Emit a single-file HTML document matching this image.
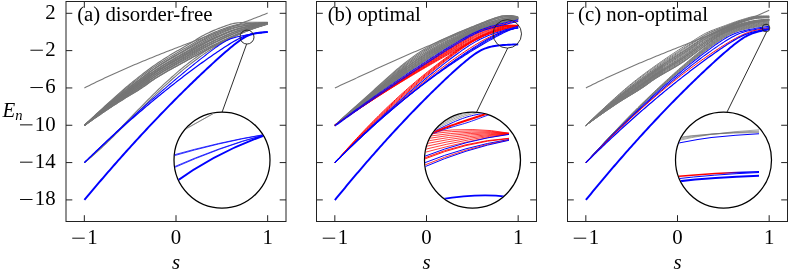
<!DOCTYPE html>
<html><head><meta charset="utf-8"><title>Energy spectra</title>
<style>html,body{margin:0;padding:0;background:#fff}svg{display:block;will-change:transform}text{font-family:"Liberation Serif",serif}</style></head>
<body>
<svg width="789" height="270" viewBox="0 0 789 270" font-family="Liberation Serif, serif" font-size="20.8" fill="#000">
<rect width="789" height="270" fill="#fff"/>
<g fill="none">
<path d="M84.40,125.40 L86.08,123.88 L87.76,122.36 L89.44,120.85 L91.13,119.34 L92.81,117.84 L94.49,116.35 L96.17,114.86 L97.85,113.38 L99.53,111.90 L101.22,110.43 L102.90,108.97 L104.58,107.51 L106.26,106.06 L107.94,104.62 L109.62,103.17 L111.31,101.73 L112.99,100.29 L114.67,98.86 L116.35,97.43 L118.03,96.01 L119.71,94.60 L121.40,93.21 L123.08,91.83 L124.76,90.46 L126.44,89.12 L128.12,87.79 L129.80,86.47 L131.49,85.17 L133.17,83.88 L134.85,82.59 L136.53,81.30 L138.21,80.02 L139.89,78.75 L141.58,77.48 L143.26,76.22 L144.94,74.96 L146.62,73.70 L148.30,72.45 L149.98,71.21 L149.98,82.01 L148.30,83.26 L146.62,84.50 L144.94,85.71 L143.26,86.86 L141.58,87.98 L139.89,89.08 L138.21,90.16 L136.53,91.21 L134.85,92.26 L133.17,93.29 L131.49,94.31 L129.80,95.33 L128.12,96.34 L126.44,97.36 L124.76,98.38 L123.08,99.41 L121.40,100.45 L119.71,101.51 L118.03,102.58 L116.35,103.67 L114.67,104.77 L112.99,105.88 L111.31,106.99 L109.62,108.11 L107.94,109.23 L106.26,110.36 L104.58,111.49 L102.90,112.62 L101.22,113.76 L99.53,114.91 L97.85,116.05 L96.17,117.21 L94.49,118.36 L92.81,119.53 L91.13,120.69 L89.44,121.86 L87.76,123.04 L86.08,124.22 L84.40,125.40 Z" fill="#787878" fill-opacity="0.85" stroke="none"/>
<path d="M148.30,72.45 L149.98,71.21 L151.67,69.99 L153.35,68.80 L155.03,67.63 L156.71,66.49 L158.39,65.36 L160.07,64.26 L161.76,63.17 L163.44,62.11 L165.12,61.06 L166.80,60.03 L168.48,59.02 L170.16,58.02 L171.85,57.02 L173.53,56.04 L175.21,55.06 L176.89,54.09 L176.89,65.99 L175.21,66.90 L173.53,67.81 L171.85,68.73 L170.16,69.65 L168.48,70.59 L166.80,71.53 L165.12,72.48 L163.44,73.45 L161.76,74.44 L160.07,75.44 L158.39,76.46 L156.71,77.51 L155.03,78.58 L153.35,79.67 L151.67,80.82 L149.98,82.01 L148.30,83.26 Z" fill="#787878" fill-opacity="0.35" stroke="none"/>
<path d="M176.89,55.58 L178.57,54.62 L180.25,53.66 L181.94,52.70 L183.62,51.74 L185.30,50.78 L186.98,49.81 L188.66,48.84 L190.34,47.87 L192.03,46.89 L193.71,45.90 L195.39,44.90 L197.07,43.90 L198.75,42.90 L200.43,41.93 L202.12,40.99 L203.80,40.08 L205.48,39.20 L207.16,38.36 L208.84,37.54 L210.52,36.74 L212.21,35.96 L213.89,35.20 L215.57,34.45 L217.25,33.73 L218.93,33.03 L220.61,32.34 L222.30,31.66 L223.98,30.98 L225.66,30.30 L227.34,29.63 L229.02,28.99 L230.70,28.38 L232.39,27.83 L234.07,27.34 L235.75,26.92 L237.43,26.55 L239.11,26.22 L240.79,25.91 L242.48,25.61 L244.16,25.34 L245.84,25.08 L247.52,24.84 L249.20,24.62 L250.88,24.42 L252.57,24.22 L254.25,24.03 L255.93,23.85 L257.61,23.67 L259.29,23.50 L260.97,23.34 L262.66,23.19 L264.34,23.04 L266.02,22.91 L267.70,22.79 L267.70,23.70 L266.02,24.23 L264.34,24.78 L262.66,25.34 L260.97,25.91 L259.29,26.49 L257.61,27.09 L255.93,27.69 L254.25,28.31 L252.57,28.94 L250.88,29.57 L249.20,30.22 L247.52,30.88 L245.84,31.55 L244.16,32.23 L242.48,32.93 L240.79,33.64 L239.11,34.37 L237.43,35.12 L235.75,35.88 L234.07,36.65 L232.39,37.43 L230.70,38.22 L229.02,39.02 L227.34,39.82 L225.66,40.63 L223.98,41.45 L222.30,42.26 L220.61,43.08 L218.93,43.90 L217.25,44.73 L215.57,45.56 L213.89,46.40 L212.21,47.25 L210.52,48.09 L208.84,48.95 L207.16,49.81 L205.48,50.67 L203.80,51.54 L202.12,52.42 L200.43,53.30 L198.75,54.18 L197.07,55.07 L195.39,55.96 L193.71,56.86 L192.03,57.76 L190.34,58.67 L188.66,59.58 L186.98,60.49 L185.30,61.41 L183.62,62.33 L181.94,63.24 L180.25,64.16 L178.57,65.07 L176.89,65.99 Z" fill="#787878" fill-opacity="0.15" stroke="none"/>
<path d="M84.40,125.40 L86.08,123.79 L87.76,122.19 L89.44,120.59 L91.13,119.00 L92.81,117.42 L94.49,115.84 L96.17,114.27 L97.85,112.71 L99.53,111.15 L101.22,109.60 L102.90,108.06 L104.58,106.52 L106.26,104.99 L107.94,103.46 L109.62,101.94 L111.31,100.42 L112.99,98.90 L114.67,97.38 L116.35,95.87 L118.03,94.37 L119.71,92.87 L121.40,91.39 L123.08,89.93 L124.76,88.48 L126.44,87.06 L128.12,85.65 L129.80,84.26 L131.49,82.89 L133.17,81.52 L134.85,80.17 L136.53,78.83 L138.21,77.49 L139.89,76.17 L141.58,74.86 L143.26,73.56 L144.94,72.27 L146.62,71.00 L148.30,69.75 L149.98,68.51 L151.67,67.29 L153.35,66.08 L155.03,64.90 L156.71,63.73 L158.39,62.59 L160.07,61.46 L161.76,60.36 L163.44,59.28 L165.12,58.21 L166.80,57.16 L168.48,56.13 L170.16,55.11 L171.85,54.10 L173.53,53.10 L175.21,52.10 L176.89,51.12 L178.57,50.14 L180.25,49.16 L181.94,48.18 L183.62,47.20 L185.30,46.22 L186.98,45.23 L188.66,44.24 L190.34,43.24 L192.03,42.23 L193.71,41.20 L195.39,40.16 L197.07,39.11 L198.75,38.07 L200.43,37.06 L202.12,36.09 L203.80,35.16 L205.48,34.29 L207.16,33.45 L208.84,32.65 L210.52,31.87 L212.21,31.12 L213.89,30.40 L215.57,29.69 L217.25,29.02 L218.93,28.37 L220.61,27.74 L222.30,27.12 L223.98,26.50 L225.66,25.88 L227.34,25.27 L229.02,24.69 L230.70,24.16 L232.39,23.71 L234.07,23.35 L235.75,23.08 L237.43,22.88 L239.11,22.73 L240.79,22.59 L242.48,22.48 L244.16,22.38 L245.84,22.30 L247.52,22.25 L249.20,22.22 L250.88,22.20 L252.57,22.20 L254.25,22.20 L255.93,22.20 L257.61,22.20 L259.29,22.21 L260.97,22.23 L262.66,22.26 L264.34,22.30 L266.02,22.35 L267.70,22.40" stroke="#757575" stroke-width="1.15"/>
<path d="M84.40,125.40 L86.08,123.83 L87.76,122.26 L89.44,120.71 L91.13,119.16 L92.81,117.61 L94.49,116.08 L96.17,114.55 L97.85,113.02 L99.53,111.51 L101.22,110.00 L102.90,108.49 L104.58,107.00 L106.26,105.51 L107.94,104.02 L109.62,102.54 L111.31,101.07 L112.99,99.59 L114.67,98.12 L116.35,96.65 L118.03,95.20 L119.71,93.75 L121.40,92.32 L123.08,90.91 L124.76,89.51 L126.44,88.13 L128.12,86.77 L129.80,85.43 L131.49,84.10 L133.17,82.78 L134.85,81.47 L136.53,80.17 L138.21,78.87 L139.89,77.59 L141.58,76.31 L143.26,75.04 L144.94,73.77 L146.62,72.52 L148.30,71.27 L149.98,70.04 L151.67,68.83 L153.35,67.64 L155.03,66.48 L156.71,65.33 L158.39,64.21 L160.07,63.10 L161.76,62.02 L163.44,60.96 L165.12,59.91 L166.80,58.88 L168.48,57.87 L170.16,56.87 L171.85,55.88 L173.53,54.90 L175.21,53.93 L176.89,52.96 L178.57,51.99 L180.25,51.03 L181.94,50.07 L183.62,49.11 L185.30,48.15 L186.98,47.18 L188.66,46.21 L190.34,45.23 L192.03,44.24 L193.71,43.24 L195.39,42.22 L197.07,41.21 L198.75,40.20 L200.43,39.22 L202.12,38.27 L203.80,37.36 L205.48,36.50 L207.16,35.67 L208.84,34.87 L210.52,34.09 L212.21,33.34 L213.89,32.60 L215.57,31.89 L217.25,31.21 L218.93,30.54 L220.61,29.89 L222.30,29.25 L223.98,28.62 L225.66,27.98 L227.34,27.35 L229.02,26.75 L230.70,26.19 L232.39,25.70 L234.07,25.29 L235.75,24.95 L237.43,24.68 L239.11,24.45 L240.79,24.23 L242.48,24.03 L244.16,23.85 L245.84,23.69 L247.52,23.55 L249.20,23.43 L250.88,23.33 L252.57,23.23 L254.25,23.14 L255.93,23.05 L257.61,22.96 L259.29,22.88 L260.97,22.81 L262.66,22.75 L264.34,22.69 L266.02,22.64 L267.70,22.61" stroke="#757575" stroke-width="1.15"/>
<path d="M84.40,125.40 L86.08,123.90 L87.76,122.41 L89.44,120.93 L91.13,119.45 L92.81,117.98 L94.49,116.51 L96.17,115.05 L97.85,113.59 L99.53,112.14 L101.22,110.69 L102.90,109.25 L104.58,107.81 L106.26,106.38 L107.94,104.96 L109.62,103.53 L111.31,102.11 L112.99,100.69 L114.67,99.28 L116.35,97.87 L118.03,96.47 L119.71,95.08 L121.40,93.70 L123.08,92.34 L124.76,91.00 L126.44,89.67 L128.12,88.35 L129.80,87.05 L131.49,85.76 L133.17,84.48 L134.85,83.20 L136.53,81.92 L138.21,80.65 L139.89,79.38 L141.58,78.12 L143.26,76.85 L144.94,75.59 L146.62,74.33 L148.30,73.07 L149.98,71.82 L151.67,70.60 L153.35,69.40 L155.03,68.23 L156.71,67.08 L158.39,65.96 L160.07,64.85 L161.76,63.76 L163.44,62.69 L165.12,61.64 L166.80,60.61 L168.48,59.59 L170.16,58.58 L171.85,57.58 L173.53,56.60 L175.21,55.61 L176.89,54.64 L178.57,53.66 L180.25,52.69 L181.94,51.72 L183.62,50.75 L185.30,49.77 L186.98,48.80 L188.66,47.81 L190.34,46.83 L192.03,45.83 L193.71,44.82 L195.39,43.80 L197.07,42.78 L198.75,41.77 L200.43,40.78 L202.12,39.82 L203.80,38.90 L205.48,38.01 L207.16,37.16 L208.84,36.34 L210.52,35.54 L212.21,34.75 L213.89,33.99 L215.57,33.25 L217.25,32.53 L218.93,31.83 L220.61,31.15 L222.30,30.48 L223.98,29.81 L225.66,29.13 L227.34,28.47 L229.02,27.84 L230.70,27.24 L232.39,26.71 L234.07,26.25 L235.75,25.86 L237.43,25.54 L239.11,25.25 L240.79,24.98 L242.48,24.73 L244.16,24.49 L245.84,24.28 L247.52,24.09 L249.20,23.92 L250.88,23.77 L252.57,23.63 L254.25,23.49 L255.93,23.36 L257.61,23.23 L259.29,23.11 L260.97,23.00 L262.66,22.91 L264.34,22.81 L266.02,22.74 L267.70,22.67" stroke="#757575" stroke-width="1.15"/>
<path d="M84.40,125.40 L86.08,123.88 L87.76,122.37 L89.44,120.87 L91.13,119.38 L92.81,117.89 L94.49,116.41 L96.17,114.93 L97.85,113.46 L99.53,112.00 L101.22,110.55 L102.90,109.10 L104.58,107.66 L106.26,106.23 L107.94,104.80 L109.62,103.37 L111.31,101.95 L112.99,100.53 L114.67,99.12 L116.35,97.72 L118.03,96.32 L119.71,94.94 L121.40,93.57 L123.08,92.22 L124.76,90.88 L126.44,89.57 L128.12,88.27 L129.80,86.98 L131.49,85.71 L133.17,84.44 L134.85,83.18 L136.53,81.92 L138.21,80.67 L139.89,79.43 L141.58,78.18 L143.26,76.95 L144.94,75.71 L146.62,74.47 L148.30,73.23 L149.98,72.01 L151.67,70.81 L153.35,69.63 L155.03,68.48 L156.71,67.36 L158.39,66.26 L160.07,65.17 L161.76,64.11 L163.44,63.07 L165.12,62.05 L166.80,61.04 L168.48,60.05 L170.16,59.06 L171.85,58.09 L173.53,57.13 L175.21,56.18 L176.89,55.23 L178.57,54.28 L180.25,53.34 L181.94,52.39 L183.62,51.45 L185.30,50.50 L186.98,49.55 L188.66,48.60 L190.34,47.64 L192.03,46.68 L193.71,45.70 L195.39,44.72 L197.07,43.73 L198.75,42.76 L200.43,41.80 L202.12,40.87 L203.80,39.98 L205.48,39.13 L207.16,38.30 L208.84,37.50 L210.52,36.72 L212.21,35.95 L213.89,35.21 L215.57,34.48 L217.25,33.78 L218.93,33.09 L220.61,32.42 L222.30,31.76 L223.98,31.09 L225.66,30.43 L227.34,29.77 L229.02,29.14 L230.70,28.54 L232.39,28.00 L234.07,27.52 L235.75,27.11 L237.43,26.75 L239.11,26.42 L240.79,26.11 L242.48,25.82 L244.16,25.54 L245.84,25.28 L247.52,25.04 L249.20,24.81 L250.88,24.60 L252.57,24.40 L254.25,24.20 L255.93,24.00 L257.61,23.81 L259.29,23.63 L260.97,23.45 L262.66,23.29 L264.34,23.13 L266.02,22.98 L267.70,22.84" stroke="#757575" stroke-width="1.15"/>
<path d="M84.40,125.40 L86.08,123.98 L87.76,122.56 L89.44,121.16 L91.13,119.75 L92.81,118.35 L94.49,116.95 L96.17,115.56 L97.85,114.17 L99.53,112.79 L101.22,111.41 L102.90,110.04 L104.58,108.68 L106.26,107.31 L107.94,105.95 L109.62,104.60 L111.31,103.25 L112.99,101.89 L114.67,100.55 L116.35,99.20 L118.03,97.87 L119.71,96.55 L121.40,95.24 L123.08,93.95 L124.76,92.67 L126.44,91.41 L128.12,90.15 L129.80,88.91 L131.49,87.68 L133.17,86.45 L134.85,85.22 L136.53,83.99 L138.21,82.76 L139.89,81.52 L141.58,80.29 L143.26,79.05 L144.94,77.81 L146.62,76.55 L148.30,75.29 L149.98,74.04 L151.67,72.81 L153.35,71.62 L155.03,70.46 L156.71,69.32 L158.39,68.20 L160.07,67.11 L161.76,66.03 L163.44,64.97 L165.12,63.93 L166.80,62.91 L168.48,61.90 L170.16,60.90 L171.85,59.91 L173.53,58.93 L175.21,57.95 L176.89,56.98 L178.57,56.02 L180.25,55.05 L181.94,54.08 L183.62,53.11 L185.30,52.14 L186.98,51.17 L188.66,50.19 L190.34,49.21 L192.03,48.23 L193.71,47.23 L195.39,46.23 L197.07,45.23 L198.75,44.24 L200.43,43.26 L202.12,42.31 L203.80,41.38 L205.48,40.50 L207.16,39.64 L208.84,38.80 L210.52,37.98 L212.21,37.17 L213.89,36.39 L215.57,35.62 L217.25,34.87 L218.93,34.14 L220.61,33.42 L222.30,32.72 L223.98,32.01 L225.66,31.31 L227.34,30.61 L229.02,29.93 L230.70,29.30 L232.39,28.71 L234.07,28.18 L235.75,27.72 L237.43,27.31 L239.11,26.93 L240.79,26.57 L242.48,26.23 L244.16,25.90 L245.84,25.60 L247.52,25.32 L249.20,25.06 L250.88,24.81 L252.57,24.58 L254.25,24.35 L255.93,24.13 L257.61,23.92 L259.29,23.71 L260.97,23.52 L262.66,23.33 L264.34,23.16 L266.02,23.00 L267.70,22.85" stroke="#757575" stroke-width="1.15"/>
<path d="M84.40,125.40 L86.08,123.95 L87.76,122.50 L89.44,121.07 L91.13,119.63 L92.81,118.21 L94.49,116.79 L96.17,115.38 L97.85,113.97 L99.53,112.57 L101.22,111.18 L102.90,109.80 L104.58,108.42 L106.26,107.05 L107.94,105.68 L109.62,104.32 L111.31,102.96 L112.99,101.61 L114.67,100.26 L116.35,98.92 L118.03,97.59 L119.71,96.28 L121.40,94.98 L123.08,93.69 L124.76,92.42 L126.44,91.17 L128.12,89.93 L129.80,88.71 L131.49,87.49 L133.17,86.28 L134.85,85.07 L136.53,83.87 L138.21,82.66 L139.89,81.45 L141.58,80.25 L143.26,79.04 L144.94,77.82 L146.62,76.60 L148.30,75.37 L149.98,74.14 L151.67,72.95 L153.35,71.79 L155.03,70.66 L156.71,69.55 L158.39,68.46 L160.07,67.40 L161.76,66.36 L163.44,65.33 L165.12,64.33 L166.80,63.34 L168.48,62.36 L170.16,61.40 L171.85,60.44 L173.53,59.50 L175.21,58.56 L176.89,57.62 L178.57,56.69 L180.25,55.76 L181.94,54.83 L183.62,53.90 L185.30,52.96 L186.98,52.03 L188.66,51.09 L190.34,50.15 L192.03,49.21 L193.71,48.25 L195.39,47.30 L197.07,46.34 L198.75,45.39 L200.43,44.46 L202.12,43.55 L203.80,42.67 L205.48,41.82 L207.16,40.99 L208.84,40.18 L210.52,39.39 L212.21,38.61 L213.89,37.85 L215.57,37.11 L217.25,36.38 L218.93,35.66 L220.61,34.96 L222.30,34.27 L223.98,33.58 L225.66,32.88 L227.34,32.20 L229.02,31.53 L230.70,30.89 L232.39,30.30 L234.07,29.75 L235.75,29.26 L237.43,28.80 L239.11,28.38 L240.79,27.97 L242.48,27.57 L244.16,27.20 L245.84,26.84 L247.52,26.49 L249.20,26.16 L250.88,25.85 L252.57,25.54 L254.25,25.23 L255.93,24.94 L257.61,24.64 L259.29,24.36 L260.97,24.08 L262.66,23.81 L264.34,23.55 L266.02,23.30 L267.70,23.06" stroke="#757575" stroke-width="1.15"/>
<path d="M84.40,125.40 L86.08,124.01 L87.76,122.63 L89.44,121.25 L91.13,119.88 L92.81,118.52 L94.49,117.16 L96.17,115.80 L97.85,114.45 L99.53,113.10 L101.22,111.76 L102.90,110.43 L104.58,109.10 L106.26,107.78 L107.94,106.46 L109.62,105.15 L111.31,103.83 L112.99,102.53 L114.67,101.22 L116.35,99.93 L118.03,98.64 L119.71,97.36 L121.40,96.11 L123.08,94.86 L124.76,93.63 L126.44,92.41 L128.12,91.21 L129.80,90.02 L131.49,88.83 L133.17,87.64 L134.85,86.45 L136.53,85.27 L138.21,84.08 L139.89,82.88 L141.58,81.68 L143.26,80.48 L144.94,79.26 L146.62,78.02 L148.30,76.77 L149.98,75.53 L151.67,74.32 L153.35,73.15 L155.03,72.01 L156.71,70.90 L158.39,69.80 L160.07,68.73 L161.76,67.68 L163.44,66.65 L165.12,65.63 L166.80,64.63 L168.48,63.65 L170.16,62.67 L171.85,61.71 L173.53,60.75 L175.21,59.80 L176.89,58.85 L178.57,57.90 L180.25,56.96 L181.94,56.01 L183.62,55.07 L185.30,54.12 L186.98,53.17 L188.66,52.22 L190.34,51.26 L192.03,50.31 L193.71,49.34 L195.39,48.37 L197.07,47.41 L198.75,46.45 L200.43,45.50 L202.12,44.58 L203.80,43.68 L205.48,42.81 L207.16,41.96 L208.84,41.13 L210.52,40.31 L212.21,39.51 L213.89,38.72 L215.57,37.95 L217.25,37.19 L218.93,36.45 L220.61,35.71 L222.30,34.99 L223.98,34.27 L225.66,33.55 L227.34,32.84 L229.02,32.14 L230.70,31.47 L232.39,30.84 L234.07,30.26 L235.75,29.73 L237.43,29.24 L239.11,28.78 L240.79,28.34 L242.48,27.91 L244.16,27.50 L245.84,27.11 L247.52,26.74 L249.20,26.38 L250.88,26.04 L252.57,25.70 L254.25,25.38 L255.93,25.06 L257.61,24.74 L259.29,24.44 L260.97,24.15 L262.66,23.86 L264.34,23.59 L266.02,23.33 L267.70,23.08" stroke="#757575" stroke-width="1.15"/>
<path d="M84.40,125.40 L86.08,124.06 L87.76,122.73 L89.44,121.40 L91.13,120.08 L92.81,118.76 L94.49,117.44 L96.17,116.13 L97.85,114.82 L99.53,113.51 L101.22,112.21 L102.90,110.91 L104.58,109.62 L106.26,108.33 L107.94,107.05 L109.62,105.76 L111.31,104.48 L112.99,103.20 L114.67,101.93 L116.35,100.66 L118.03,99.40 L119.71,98.15 L121.40,96.92 L123.08,95.70 L124.76,94.49 L126.44,93.29 L128.12,92.11 L129.80,90.93 L131.49,89.75 L133.17,88.58 L134.85,87.40 L136.53,86.22 L138.21,85.03 L139.89,83.83 L141.58,82.63 L143.26,81.42 L144.94,80.19 L146.62,78.93 L148.30,77.67 L149.98,76.41 L151.67,75.18 L153.35,73.99 L155.03,72.84 L156.71,71.71 L158.39,70.60 L160.07,69.51 L161.76,68.45 L163.44,67.40 L165.12,66.37 L166.80,65.35 L168.48,64.35 L170.16,63.36 L171.85,62.37 L173.53,61.40 L175.21,60.43 L176.89,59.46 L178.57,58.50 L180.25,57.53 L181.94,56.57 L183.62,55.60 L185.30,54.63 L186.98,53.66 L188.66,52.69 L190.34,51.72 L192.03,50.74 L193.71,49.76 L195.39,48.77 L197.07,47.79 L198.75,46.81 L200.43,45.84 L202.12,44.89 L203.80,43.97 L205.48,43.08 L207.16,42.20 L208.84,41.34 L210.52,40.50 L212.21,39.67 L213.89,38.86 L215.57,38.06 L217.25,37.28 L218.93,36.52 L220.61,35.76 L222.30,35.02 L223.98,34.27 L225.66,33.53 L227.34,32.80 L229.02,32.08 L230.70,31.39 L232.39,30.75 L234.07,30.15 L235.75,29.60 L237.43,29.10 L239.11,28.63 L240.79,28.18 L242.48,27.74 L244.16,27.33 L245.84,26.94 L247.52,26.56 L249.20,26.21 L250.88,25.86 L252.57,25.54 L254.25,25.22 L255.93,24.90 L257.61,24.60 L259.29,24.31 L260.97,24.03 L262.66,23.76 L264.34,23.50 L266.02,23.26 L267.70,23.03" stroke="#757575" stroke-width="1.15"/>
<path d="M84.40,125.40 L86.08,124.02 L87.76,122.65 L89.44,121.28 L91.13,119.92 L92.81,118.57 L94.49,117.22 L96.17,115.88 L97.85,114.54 L99.53,113.21 L101.22,111.89 L102.90,110.57 L104.58,109.26 L106.26,107.96 L107.94,106.66 L109.62,105.37 L111.31,104.08 L112.99,102.80 L114.67,101.52 L116.35,100.25 L118.03,98.99 L119.71,97.74 L121.40,96.52 L123.08,95.30 L124.76,94.10 L126.44,92.92 L128.12,91.75 L129.80,90.59 L131.49,89.43 L133.17,88.28 L134.85,87.13 L136.53,85.97 L138.21,84.81 L139.89,83.65 L141.58,82.48 L143.26,81.30 L144.94,80.11 L146.62,78.89 L148.30,77.66 L149.98,76.44 L151.67,75.25 L153.35,74.10 L155.03,72.98 L156.71,71.89 L158.39,70.82 L160.07,69.78 L161.76,68.75 L163.44,67.74 L165.12,66.75 L166.80,65.78 L168.48,64.82 L170.16,63.87 L171.85,62.93 L173.53,62.00 L175.21,61.07 L176.89,60.15 L178.57,59.23 L180.25,58.31 L181.94,57.39 L183.62,56.47 L185.30,55.55 L186.98,54.62 L188.66,53.70 L190.34,52.77 L192.03,51.85 L193.71,50.92 L195.39,49.98 L197.07,49.05 L198.75,48.13 L200.43,47.22 L202.12,46.32 L203.80,45.45 L205.48,44.60 L207.16,43.77 L208.84,42.95 L210.52,42.15 L212.21,41.35 L213.89,40.57 L215.57,39.81 L217.25,39.05 L218.93,38.31 L220.61,37.57 L222.30,36.84 L223.98,36.12 L225.66,35.39 L227.34,34.67 L229.02,33.97 L230.70,33.28 L232.39,32.63 L234.07,32.01 L235.75,31.43 L237.43,30.88 L239.11,30.36 L240.79,29.85 L242.48,29.35 L244.16,28.87 L245.84,28.41 L247.52,27.96 L249.20,27.52 L250.88,27.10 L252.57,26.68 L254.25,26.27 L255.93,25.87 L257.61,25.47 L259.29,25.08 L260.97,24.70 L262.66,24.34 L264.34,23.97 L266.02,23.62 L267.70,23.28" stroke="#757575" stroke-width="1.15"/>
<path d="M84.40,125.40 L86.08,124.11 L87.76,122.83 L89.44,121.55 L91.13,120.27 L92.81,119.00 L94.49,117.73 L96.17,116.46 L97.85,115.20 L99.53,113.95 L101.22,112.69 L102.90,111.44 L104.58,110.20 L106.26,108.96 L107.94,107.72 L109.62,106.49 L111.31,105.26 L112.99,104.03 L114.67,102.81 L116.35,101.59 L118.03,100.38 L119.71,99.19 L121.40,98.01 L123.08,96.84 L124.76,95.69 L126.44,94.54 L128.12,93.41 L129.80,92.28 L131.49,91.15 L133.17,90.02 L134.85,88.88 L136.53,87.74 L138.21,86.59 L139.89,85.44 L141.58,84.26 L143.26,83.08 L144.94,81.87 L146.62,80.63 L148.30,79.37 L149.98,78.11 L151.67,76.89 L153.35,75.72 L155.03,74.58 L156.71,73.47 L158.39,72.38 L160.07,71.31 L161.76,70.26 L163.44,69.23 L165.12,68.22 L166.80,67.22 L168.48,66.23 L170.16,65.26 L171.85,64.29 L173.53,63.33 L175.21,62.38 L176.89,61.43 L178.57,60.48 L180.25,59.53 L181.94,58.58 L183.62,57.62 L185.30,56.67 L186.98,55.71 L188.66,54.76 L190.34,53.80 L192.03,52.85 L193.71,51.89 L195.39,50.93 L197.07,49.97 L198.75,49.01 L200.43,48.07 L202.12,47.14 L203.80,46.23 L205.48,45.34 L207.16,44.47 L208.84,43.61 L210.52,42.77 L212.21,41.93 L213.89,41.11 L215.57,40.30 L217.25,39.50 L218.93,38.71 L220.61,37.94 L222.30,37.17 L223.98,36.40 L225.66,35.64 L227.34,34.88 L229.02,34.14 L230.70,33.42 L232.39,32.72 L234.07,32.07 L235.75,31.46 L237.43,30.88 L239.11,30.33 L240.79,29.79 L242.48,29.28 L244.16,28.78 L245.84,28.30 L247.52,27.84 L249.20,27.39 L250.88,26.96 L252.57,26.54 L254.25,26.13 L255.93,25.72 L257.61,25.33 L259.29,24.95 L260.97,24.58 L262.66,24.22 L264.34,23.87 L266.02,23.54 L267.70,23.22" stroke="#757575" stroke-width="1.15"/>
<path d="M84.40,125.40 L86.08,124.08 L87.76,122.77 L89.44,121.47 L91.13,120.17 L92.81,118.87 L94.49,117.58 L96.17,116.30 L97.85,115.03 L99.53,113.75 L101.22,112.49 L102.90,111.23 L104.58,109.98 L106.26,108.73 L107.94,107.49 L109.62,106.25 L111.31,105.02 L112.99,103.79 L114.67,102.56 L116.35,101.35 L118.03,100.15 L119.71,98.96 L121.40,97.78 L123.08,96.63 L124.76,95.48 L126.44,94.35 L128.12,93.23 L129.80,92.12 L131.49,91.01 L133.17,89.89 L134.85,88.78 L136.53,87.66 L138.21,86.54 L139.89,85.40 L141.58,84.26 L143.26,83.10 L144.94,81.92 L146.62,80.71 L148.30,79.47 L149.98,78.24 L151.67,77.05 L153.35,75.90 L155.03,74.79 L156.71,73.71 L158.39,72.65 L160.07,71.61 L161.76,70.60 L163.44,69.60 L165.12,68.62 L166.80,67.65 L168.48,66.69 L170.16,65.75 L171.85,64.82 L173.53,63.89 L175.21,62.97 L176.89,62.05 L178.57,61.14 L180.25,60.22 L181.94,59.30 L183.62,58.38 L185.30,57.46 L186.98,56.54 L188.66,55.62 L190.34,54.70 L192.03,53.78 L193.71,52.86 L195.39,51.94 L197.07,51.02 L198.75,50.11 L200.43,49.21 L202.12,48.32 L203.80,47.45 L205.48,46.59 L207.16,45.75 L208.84,44.92 L210.52,44.10 L212.21,43.29 L213.89,42.49 L215.57,41.70 L217.25,40.92 L218.93,40.15 L220.61,39.39 L222.30,38.63 L223.98,37.88 L225.66,37.12 L227.34,36.37 L229.02,35.64 L230.70,34.91 L232.39,34.22 L234.07,33.54 L235.75,32.90 L237.43,32.28 L239.11,31.69 L240.79,31.10 L242.48,30.54 L244.16,29.99 L245.84,29.45 L247.52,28.93 L249.20,28.42 L250.88,27.92 L252.57,27.43 L254.25,26.95 L255.93,26.48 L257.61,26.01 L259.29,25.55 L260.97,25.11 L262.66,24.67 L264.34,24.24 L266.02,23.82 L267.70,23.42" stroke="#757575" stroke-width="1.15"/>
<path d="M84.40,125.40 L86.08,124.17 L87.76,122.94 L89.44,121.72 L91.13,120.50 L92.81,119.29 L94.49,118.08 L96.17,116.87 L97.85,115.66 L99.53,114.46 L101.22,113.26 L102.90,112.07 L104.58,110.88 L106.26,109.69 L107.94,108.51 L109.62,107.33 L111.31,106.15 L112.99,104.98 L114.67,103.81 L116.35,102.65 L118.03,101.49 L119.71,100.35 L121.40,99.23 L123.08,98.12 L124.76,97.02 L126.44,95.93 L128.12,94.84 L129.80,93.76 L131.49,92.68 L133.17,91.59 L134.85,90.50 L136.53,89.39 L138.21,88.28 L139.89,87.15 L141.58,86.01 L143.26,84.84 L144.94,83.65 L146.62,82.41 L148.30,81.15 L149.98,79.89 L151.67,78.67 L153.35,77.50 L155.03,76.37 L156.71,75.27 L158.39,74.19 L160.07,73.14 L161.76,72.10 L163.44,71.08 L165.12,70.08 L166.80,69.09 L168.48,68.11 L170.16,67.14 L171.85,66.19 L173.53,65.24 L175.21,64.29 L176.89,63.34 L178.57,62.40 L180.25,61.46 L181.94,60.51 L183.62,59.56 L185.30,58.61 L186.98,57.66 L188.66,56.71 L190.34,55.77 L192.03,54.82 L193.71,53.88 L195.39,52.93 L197.07,51.99 L198.75,51.05 L200.43,50.12 L202.12,49.20 L203.80,48.30 L205.48,47.40 L207.16,46.53 L208.84,45.66 L210.52,44.80 L212.21,43.95 L213.89,43.11 L215.57,42.27 L217.25,41.45 L218.93,40.64 L220.61,39.84 L222.30,39.05 L223.98,38.25 L225.66,37.46 L227.34,36.68 L229.02,35.90 L230.70,35.15 L232.39,34.41 L234.07,33.70 L235.75,33.03 L237.43,32.38 L239.11,31.75 L240.79,31.14 L242.48,30.55 L244.16,29.98 L245.84,29.42 L247.52,28.88 L249.20,28.36 L250.88,27.85 L252.57,27.35 L254.25,26.86 L255.93,26.38 L257.61,25.92 L259.29,25.46 L260.97,25.02 L262.66,24.59 L264.34,24.17 L266.02,23.77 L267.70,23.38" stroke="#757575" stroke-width="1.15"/>
<path d="M84.40,125.40 L86.08,124.14 L87.76,122.88 L89.44,121.63 L91.13,120.39 L92.81,119.15 L94.49,117.92 L96.17,116.69 L97.85,115.47 L99.53,114.25 L101.22,113.04 L102.90,111.84 L104.58,110.64 L106.26,109.44 L107.94,108.26 L109.62,107.07 L111.31,105.90 L112.99,104.72 L114.67,103.56 L116.35,102.40 L118.03,101.25 L119.71,100.12 L121.40,99.01 L123.08,97.91 L124.76,96.82 L126.44,95.75 L128.12,94.68 L129.80,93.62 L131.49,92.56 L133.17,91.50 L134.85,90.43 L136.53,89.36 L138.21,88.27 L139.89,87.17 L141.58,86.06 L143.26,84.93 L144.94,83.77 L146.62,82.57 L148.30,81.34 L149.98,80.11 L151.67,78.92 L153.35,77.79 L155.03,76.69 L156.71,75.62 L158.39,74.58 L160.07,73.56 L161.76,72.56 L163.44,71.58 L165.12,70.61 L166.80,69.66 L168.48,68.72 L170.16,67.79 L171.85,66.87 L173.53,65.96 L175.21,65.05 L176.89,64.15 L178.57,63.25 L180.25,62.34 L181.94,61.43 L183.62,60.52 L185.30,59.62 L186.98,58.71 L188.66,57.80 L190.34,56.90 L192.03,56.00 L193.71,55.10 L195.39,54.20 L197.07,53.31 L198.75,52.42 L200.43,51.54 L202.12,50.67 L203.80,49.81 L205.48,48.96 L207.16,48.11 L208.84,47.28 L210.52,46.45 L212.21,45.63 L213.89,44.81 L215.57,44.01 L217.25,43.20 L218.93,42.41 L220.61,41.62 L222.30,40.84 L223.98,40.06 L225.66,39.28 L227.34,38.51 L229.02,37.74 L230.70,36.98 L232.39,36.23 L234.07,35.50 L235.75,34.79 L237.43,34.09 L239.11,33.41 L240.79,32.74 L242.48,32.09 L244.16,31.45 L245.84,30.83 L247.52,30.21 L249.20,29.61 L250.88,29.02 L252.57,28.44 L254.25,27.86 L255.93,27.30 L257.61,26.74 L259.29,26.20 L260.97,25.66 L262.66,25.13 L264.34,24.61 L266.02,24.11 L267.70,23.62" stroke="#757575" stroke-width="1.15"/>
<path d="M84.40,125.40 L86.08,124.22 L87.76,123.04 L89.44,121.86 L91.13,120.69 L92.81,119.53 L94.49,118.36 L96.17,117.21 L97.85,116.05 L99.53,114.91 L101.22,113.76 L102.90,112.62 L104.58,111.49 L106.26,110.36 L107.94,109.23 L109.62,108.11 L111.31,106.99 L112.99,105.88 L114.67,104.77 L116.35,103.67 L118.03,102.58 L119.71,101.51 L121.40,100.45 L123.08,99.41 L124.76,98.38 L126.44,97.36 L128.12,96.34 L129.80,95.33 L131.49,94.31 L133.17,93.29 L134.85,92.26 L136.53,91.21 L138.21,90.16 L139.89,89.08 L141.58,87.98 L143.26,86.86 L144.94,85.71 L146.62,84.50 L148.30,83.26 L149.98,82.01 L151.67,80.82 L153.35,79.67 L155.03,78.58 L156.71,77.51 L158.39,76.46 L160.07,75.44 L161.76,74.44 L163.44,73.45 L165.12,72.48 L166.80,71.53 L168.48,70.59 L170.16,69.65 L171.85,68.73 L173.53,67.81 L175.21,66.90 L176.89,65.99 L178.57,65.07 L180.25,64.16 L181.94,63.24 L183.62,62.33 L185.30,61.41 L186.98,60.49 L188.66,59.58 L190.34,58.67 L192.03,57.76 L193.71,56.86 L195.39,55.96 L197.07,55.07 L198.75,54.18 L200.43,53.30 L202.12,52.42 L203.80,51.54 L205.48,50.67 L207.16,49.81 L208.84,48.95 L210.52,48.09 L212.21,47.25 L213.89,46.40 L215.57,45.56 L217.25,44.73 L218.93,43.90 L220.61,43.08 L222.30,42.26 L223.98,41.45 L225.66,40.63 L227.34,39.82 L229.02,39.02 L230.70,38.22 L232.39,37.43 L234.07,36.65 L235.75,35.88 L237.43,35.12 L239.11,34.37 L240.79,33.64 L242.48,32.93 L244.16,32.23 L245.84,31.55 L247.52,30.88 L249.20,30.22 L250.88,29.57 L252.57,28.94 L254.25,28.31 L255.93,27.69 L257.61,27.09 L259.29,26.49 L260.97,25.91 L262.66,25.34 L264.34,24.78 L266.02,24.23 L267.70,23.70" stroke="#757575" stroke-width="1.15"/>
<path d="M84.40,125.40 L86.08,124.22 L87.76,123.04 L89.44,121.86 L91.13,120.69 L92.81,119.53 L94.49,118.36 L96.17,117.21 L97.85,116.05 L99.53,114.91 L101.22,113.76 L102.90,112.62 L104.58,111.49 L106.26,110.36 L107.94,109.23 L109.62,108.11 L111.31,106.99 L112.99,105.88 L114.67,104.77 L116.35,103.67 L118.03,102.58 L119.71,101.51 L121.40,100.45 L123.08,99.41 L124.76,98.38 L126.44,97.36 L128.12,96.34 L129.80,95.33 L131.49,94.31 L133.17,93.29 L134.85,92.26 L136.53,91.21 L138.21,90.16 L139.89,89.08 L141.58,87.98 L143.26,86.86 L144.94,85.71 L146.62,84.50 L148.30,83.26 L149.98,82.01 L151.67,80.82 L153.35,79.67 L155.03,78.58 L156.71,77.51 L158.39,76.46 L160.07,75.44 L161.76,74.44 L163.44,73.45 L165.12,72.48 L166.80,71.53 L168.48,70.57 L170.16,69.62 L171.85,68.68 L173.53,67.75 L175.21,66.82 L176.89,65.89 L178.57,64.96 L180.25,64.03 L181.94,63.10 L183.62,62.16 L185.30,61.22 L186.98,60.29 L188.66,59.36 L190.34,58.43 L192.03,57.50 L193.71,56.58 L195.39,55.67 L197.07,54.75 L198.75,53.84 L200.43,52.94 L202.12,52.04 L203.80,51.15 L205.48,50.26 L207.16,49.38 L208.84,48.50 L210.52,47.63 L212.21,46.77 L213.89,45.91 L215.57,45.06 L217.25,44.21 L218.93,43.37 L220.61,42.54 L222.30,41.71 L223.98,40.89 L225.66,40.07 L227.34,39.25 L229.02,38.44 L230.70,37.63 L232.39,36.84 L234.07,36.06 L235.75,35.30 L237.43,34.55 L239.11,33.82 L240.79,33.11 L242.48,32.41 L244.16,31.73 L245.84,31.07 L247.52,30.42 L249.20,29.79 L250.88,29.17 L252.57,28.56 L254.25,27.96 L255.93,27.37 L257.61,26.80 L259.29,26.23 L260.97,25.68 L262.66,25.15 L264.34,24.62 L266.02,24.11 L267.70,23.61" stroke="#757575" stroke-width="1.15"/>
<path d="M84.40,87.94 L86.08,87.09 L87.76,86.25 L89.44,85.41 L91.13,84.58 L92.81,83.75 L94.49,82.93 L96.17,82.11 L97.85,81.30 L99.53,80.50 L101.22,79.69 L102.90,78.90 L104.58,78.11 L106.26,77.32 L107.94,76.54 L109.62,75.76 L111.31,74.99 L112.99,74.22 L114.67,73.46 L116.35,72.70 L118.03,71.95 L119.71,71.20 L121.40,70.45 L123.08,69.71 L124.76,68.97 L126.44,68.24 L128.12,67.51 L129.80,66.78 L131.49,66.06 L133.17,65.34 L134.85,64.62 L136.53,63.91 L138.21,63.20 L139.89,62.50 L141.58,61.79 L143.26,61.10 L144.94,60.40 L146.62,59.71 L148.30,59.02 L149.98,58.33 L151.67,57.65 L153.35,56.97 L155.03,56.29 L156.71,55.61 L158.39,54.94 L160.07,54.27 L161.76,53.60 L163.44,52.93 L165.12,52.27 L166.80,51.61 L168.48,50.95 L170.16,50.29 L171.85,49.64 L173.53,48.98 L175.21,48.33 L176.89,47.68 L178.57,47.03 L180.25,46.38 L181.94,45.74 L183.62,45.10 L185.30,44.45 L186.98,43.81 L188.66,43.17 L190.34,42.53 L192.03,41.89 L193.71,41.26 L195.39,40.62 L197.07,39.99 L198.75,39.35 L200.43,38.72 L202.12,38.09 L203.80,37.45 L205.48,36.82 L207.16,36.19 L208.84,35.56 L210.52,34.93 L212.21,34.30 L213.89,33.67 L215.57,33.03 L217.25,32.40 L218.93,31.77 L220.61,31.14 L222.30,30.51 L223.98,29.88 L225.66,29.25 L227.34,28.61 L229.02,27.98 L230.70,27.35 L232.39,26.71 L234.07,26.08 L235.75,25.44 L237.43,24.81 L239.11,24.17 L240.79,23.53 L242.48,22.89 L244.16,22.25 L245.84,21.60 L247.52,20.96 L249.20,20.31 L250.88,19.67 L252.57,19.02 L254.25,18.37 L255.93,17.72 L257.61,17.06 L259.29,16.41 L260.97,15.75 L262.66,15.09 L264.34,14.43 L266.02,13.76 L267.70,13.10" stroke="#787878" stroke-width="1.08"/>
<path d="M84.40,162.60 L86.08,161.21 L87.76,159.79 L89.44,158.34 L91.13,156.86 L92.81,155.36 L94.49,153.84 L96.17,152.29 L97.85,150.72 L99.53,149.13 L101.22,147.52 L102.90,145.90 L104.58,144.26 L106.26,142.60 L107.94,140.93 L109.62,139.25 L111.31,137.55 L112.99,135.85 L114.67,134.13 L116.35,132.41 L118.03,130.68 L119.71,128.94 L121.40,127.20 L123.08,125.46 L124.76,123.71 L126.44,121.96 L128.12,120.21 L129.80,118.46 L131.49,116.71 L133.17,114.96 L134.85,113.22 L136.53,111.48 L138.21,109.74 L139.89,108.01 L141.58,106.28 L143.26,104.56 L144.94,102.85 L146.62,101.15 L148.30,99.45 L149.98,97.77 L151.67,96.09 L153.35,94.43 L155.03,92.78 L156.71,91.14 L158.39,89.51 L160.07,87.90 L161.76,86.30 L163.44,84.71 L165.12,83.14 L166.80,81.59 L168.48,80.05 L170.16,78.53 L171.85,77.02 L173.53,75.54 L175.21,74.07 L176.89,72.62 L178.57,71.19 L180.25,69.77 L181.94,68.38 L183.62,67.00 L185.30,65.65 L186.98,64.31 L188.66,63.00 L190.34,61.70 L192.03,60.43 L193.71,59.18 L195.39,57.95 L197.07,56.74 L198.75,55.55 L200.43,54.38 L202.12,53.24 L203.80,52.11 L205.48,51.01 L207.16,49.93 L208.84,48.87 L210.52,47.83 L212.21,46.82 L213.89,45.82 L215.57,44.85 L217.25,43.90 L218.93,42.97 L220.61,42.06 L222.30,41.17 L223.98,40.30 L225.66,39.46 L227.34,38.63 L229.02,37.83 L230.70,37.04 L232.39,36.27 L234.07,35.52 L235.75,34.80 L237.43,34.09 L239.11,33.40 L240.79,32.72 L242.48,32.07 L244.16,31.43 L245.84,30.81 L247.52,30.20 L249.20,29.61 L250.88,29.03 L252.57,28.47 L254.25,27.93 L255.93,27.40 L257.61,26.88 L259.29,26.37 L260.97,25.87 L262.66,25.39 L264.34,24.92 L266.02,24.45 L267.70,24.00" stroke="#787878" stroke-width="1.08"/>
<path d="M84.40,162.60 L86.08,161.24 L87.76,159.86 L89.44,158.45 L91.13,157.02 L92.81,155.57 L94.49,154.09 L96.17,152.60 L97.85,151.08 L99.53,149.55 L101.22,148.00 L102.90,146.44 L104.58,144.86 L106.26,143.27 L107.94,141.66 L109.62,140.05 L111.31,138.42 L112.99,136.78 L114.67,135.13 L116.35,133.48 L118.03,131.82 L119.71,130.15 L121.40,128.47 L123.08,126.79 L124.76,125.11 L126.44,123.43 L128.12,121.74 L129.80,120.05 L131.49,118.37 L133.17,116.68 L134.85,114.99 L136.53,113.31 L138.21,111.62 L139.89,109.94 L141.58,108.27 L143.26,106.60 L144.94,104.93 L146.62,103.27 L148.30,101.62 L149.98,99.98 L151.67,98.34 L153.35,96.71 L155.03,95.09 L156.71,93.48 L158.39,91.88 L160.07,90.29 L161.76,88.71 L163.44,87.15 L165.12,85.59 L166.80,84.05 L168.48,82.53 L170.16,81.01 L171.85,79.51 L173.53,78.03 L175.21,76.55 L176.89,75.10 L178.57,73.66 L180.25,72.24 L181.94,70.83 L183.62,69.44 L185.30,68.06 L186.98,66.71 L188.66,65.37 L190.34,64.05 L192.03,62.75 L193.71,61.46 L195.39,60.20 L197.07,58.95 L198.75,57.72 L200.43,56.51 L202.12,55.33 L203.80,54.16 L205.48,53.01 L207.16,51.88 L208.84,50.77 L210.52,49.68 L212.21,48.61 L213.89,47.56 L215.57,46.53 L217.25,45.52 L218.93,44.53 L220.61,43.57 L222.30,42.62 L223.98,41.69 L225.66,40.78 L227.34,39.90 L229.02,39.03 L230.70,38.18 L232.39,37.36 L234.07,36.55 L235.75,35.76 L237.43,35.00 L239.11,34.25 L240.79,33.52 L242.48,32.81 L244.16,32.12 L245.84,31.45 L247.52,30.80 L249.20,30.16 L250.88,29.54 L252.57,28.94 L254.25,28.36 L255.93,27.80 L257.61,27.25 L259.29,26.72 L260.97,26.20 L262.66,25.71 L264.34,25.22 L266.02,24.75 L267.70,24.30" stroke="#787878" stroke-width="1.08"/>
<path d="M84.40,162.61 L86.08,160.96 L87.76,159.31 L89.44,157.67 L91.13,156.03 L92.81,154.40 L94.49,152.77 L96.17,151.14 L97.85,149.52 L99.53,147.91 L101.22,146.29 L102.90,144.69 L104.58,143.08 L106.26,141.48 L107.94,139.89 L109.62,138.30 L111.31,136.71 L112.99,135.13 L114.67,133.55 L116.35,131.98 L118.03,130.41 L119.71,128.85 L121.40,127.29 L123.08,125.73 L124.76,124.18 L126.44,122.64 L128.12,121.09 L129.80,119.56 L131.49,118.02 L133.17,116.49 L134.85,114.97 L136.53,113.45 L138.21,111.94 L139.89,110.42 L141.58,108.92 L143.26,107.42 L144.94,105.92 L146.62,104.42 L148.30,102.94 L149.98,101.45 L151.67,99.97 L153.35,98.50 L155.03,97.03 L156.71,95.56 L158.39,94.10 L160.07,92.64 L161.76,91.19 L163.44,89.74 L165.12,88.30 L166.80,86.86 L168.48,85.43 L170.16,84.00 L171.85,82.57 L173.53,81.16 L175.21,79.74 L176.89,78.33 L178.57,76.93 L180.25,75.53 L181.94,74.13 L183.62,72.74 L185.30,71.36 L186.98,69.98 L188.66,68.61 L190.34,67.24 L192.03,65.88 L193.71,64.52 L195.39,63.18 L197.07,61.83 L198.75,60.50 L200.43,59.17 L202.12,57.85 L203.80,56.54 L205.48,55.23 L207.16,53.94 L208.84,52.66 L210.52,51.39 L212.21,50.14 L213.89,48.90 L215.57,47.68 L217.25,46.49 L218.93,45.33 L220.61,44.20 L222.30,43.13 L223.98,42.11 L225.66,41.15 L227.34,40.28 L229.02,39.49 L230.70,38.80 L232.39,38.19 L234.07,37.65 L235.75,37.18 L237.43,36.76 L239.11,36.38 L240.79,36.03 L242.48,35.71 L244.16,35.40 L245.84,35.12 L247.52,34.84 L249.20,34.57 L250.88,34.32 L252.57,34.06 L254.25,33.82 L255.93,33.58 L257.61,33.34 L259.29,33.11 L260.97,32.88 L262.66,32.65 L264.34,32.42 L266.02,32.20 L267.70,31.98" stroke="#0000ff" stroke-width="1.02"/>
<path d="M84.40,162.63 L86.08,161.00 L87.76,159.37 L89.44,157.75 L91.13,156.13 L92.81,154.52 L94.49,152.92 L96.17,151.32 L97.85,149.73 L99.53,148.15 L101.22,146.57 L102.90,144.99 L104.58,143.42 L106.26,141.86 L107.94,140.30 L109.62,138.75 L111.31,137.21 L112.99,135.67 L114.67,134.14 L116.35,132.61 L118.03,131.09 L119.71,129.57 L121.40,128.06 L123.08,126.56 L124.76,125.06 L126.44,123.57 L128.12,122.08 L129.80,120.60 L131.49,119.13 L133.17,117.66 L134.85,116.20 L136.53,114.74 L138.21,113.29 L139.89,111.84 L141.58,110.40 L143.26,108.97 L144.94,107.54 L146.62,106.12 L148.30,104.71 L149.98,103.30 L151.67,101.89 L153.35,100.50 L155.03,99.10 L156.71,97.72 L158.39,96.34 L160.07,94.97 L161.76,93.60 L163.44,92.24 L165.12,90.88 L166.80,89.53 L168.48,88.19 L170.16,86.85 L171.85,85.52 L173.53,84.19 L175.21,82.87 L176.89,81.56 L178.57,80.26 L180.25,78.95 L181.94,77.66 L183.62,76.37 L185.30,75.09 L186.98,73.82 L188.66,72.55 L190.34,71.28 L192.03,70.03 L193.71,68.78 L195.39,67.54 L197.07,66.30 L198.75,65.07 L200.43,63.85 L202.12,62.63 L203.80,61.42 L205.48,60.22 L207.16,59.03 L208.84,57.84 L210.52,56.67 L212.21,55.50 L213.89,54.34 L215.57,53.18 L217.25,52.04 L218.93,50.91 L220.61,49.79 L222.30,48.67 L223.98,47.58 L225.66,46.49 L227.34,45.42 L229.02,44.37 L230.70,43.33 L232.39,42.32 L234.07,41.33 L235.75,40.37 L237.43,39.45 L239.11,38.57 L240.79,37.73 L242.48,36.95 L244.16,36.24 L245.84,35.59 L247.52,35.02 L249.20,34.52 L250.88,34.09 L252.57,33.72 L254.25,33.40 L255.93,33.13 L257.61,32.90 L259.29,32.70 L260.97,32.52 L262.66,32.37 L264.34,32.23 L266.02,32.11 L267.70,32.00" stroke="#0000ff" stroke-width="1.25"/>
<path d="M84.40,199.93 L86.08,197.91 L87.76,195.90 L89.44,193.89 L91.13,191.89 L92.81,189.89 L94.49,187.90 L96.17,185.92 L97.85,183.94 L99.53,181.97 L101.22,180.01 L102.90,178.05 L104.58,176.10 L106.26,174.15 L107.94,172.21 L109.62,170.28 L111.31,168.35 L112.99,166.42 L114.67,164.51 L116.35,162.60 L118.03,160.69 L119.71,158.79 L121.40,156.90 L123.08,155.01 L124.76,153.13 L126.44,151.26 L128.12,149.39 L129.80,147.53 L131.49,145.67 L133.17,143.82 L134.85,141.98 L136.53,140.14 L138.21,138.31 L139.89,136.48 L141.58,134.66 L143.26,132.85 L144.94,131.04 L146.62,129.24 L148.30,127.44 L149.98,125.65 L151.67,123.87 L153.35,122.09 L155.03,120.32 L156.71,118.56 L158.39,116.80 L160.07,115.05 L161.76,113.30 L163.44,111.56 L165.12,109.82 L166.80,108.10 L168.48,106.37 L170.16,104.66 L171.85,102.95 L173.53,101.25 L175.21,99.55 L176.89,97.86 L178.57,96.17 L180.25,94.50 L181.94,92.82 L183.62,91.16 L185.30,89.50 L186.98,87.85 L188.66,86.20 L190.34,84.56 L192.03,82.93 L193.71,81.30 L195.39,79.68 L197.07,78.07 L198.75,76.47 L200.43,74.87 L202.12,73.28 L203.80,71.69 L205.48,70.11 L207.16,68.55 L208.84,66.98 L210.52,65.43 L212.21,63.88 L213.89,62.35 L215.57,60.82 L217.25,59.30 L218.93,57.79 L220.61,56.29 L222.30,54.80 L223.98,53.32 L225.66,51.86 L227.34,50.41 L229.02,48.98 L230.70,47.56 L232.39,46.17 L234.07,44.80 L235.75,43.47 L237.43,42.17 L239.11,40.92 L240.79,39.72 L242.48,38.60 L244.16,37.56 L245.84,36.62 L247.52,35.80 L249.20,35.09 L250.88,34.50 L252.57,34.01 L254.25,33.61 L255.93,33.27 L257.61,33.00 L259.29,32.77 L260.97,32.57 L262.66,32.40 L264.34,32.25 L266.02,32.12 L267.70,32.00" stroke="#0000ff" stroke-width="1.95"/>
</g>
<path d="M246.60,44.10 L222.10,112.10" stroke="#222" stroke-width="0.95"/>
<circle cx="247.0" cy="37.05" r="7.0" fill="none" stroke="#1a1a1a" stroke-width="0.9"/>
<circle cx="222.0" cy="160" r="48" fill="#fff" stroke="#000" stroke-width="1.25"/>
<clipPath id="ca"><circle cx="222.0" cy="160" r="47.5"/></clipPath>
<g fill="none" clip-path="url(#ca)">
<path d="M186,129 L216,112" stroke="#787878" stroke-width="0.7"/>
<path d="M188,127.5 L218,111" stroke="#787878" stroke-width="0.7"/>
<path d="M170,155.95000000000002 Q220,141.775 264,134.6325" stroke="#0000ff" stroke-width="0.78"/>
<path d="M170,156.85 Q220,142.225 264,134.76749999999998" stroke="#0000ff" stroke-width="0.78"/>
<path d="M170,168.55 Q222,145.775 264,135.0325" stroke="#0000ff" stroke-width="0.78"/>
<path d="M170,169.45 Q222,146.225 264,135.1675" stroke="#0000ff" stroke-width="0.78"/>
<path d="M172,184.5 Q215,153 264,135.6" stroke="#0000ff" stroke-width="2"/>
</g>
<g fill="none">
<path d="M334.90,125.40 L336.58,123.85 L338.26,122.34 L339.94,120.84 L341.63,119.37 L343.31,117.91 L344.99,116.46 L346.67,115.02 L348.35,113.58 L350.03,112.16 L351.72,110.73 L353.40,109.31 L355.08,107.88 L356.76,106.46 L358.44,105.03 L360.12,103.60 L361.81,102.17 L363.49,100.74 L365.17,99.30 L366.85,97.87 L368.53,96.43 L370.21,94.99 L371.90,93.54 L373.58,92.10 L375.26,90.66 L376.94,89.22 L378.62,87.78 L380.30,86.35 L381.99,84.92 L383.67,83.49 L385.35,82.07 L387.03,80.66 L388.71,79.25 L390.39,77.86 L392.08,76.47 L393.76,75.10 L395.44,73.73 L397.12,72.38 L398.80,71.05 L400.48,69.73 L402.17,68.42 L403.85,67.13 L405.53,65.86 L407.21,64.60 L407.21,72.79 L405.53,73.93 L403.85,75.07 L402.17,76.22 L400.48,77.37 L398.80,78.53 L397.12,79.69 L395.44,80.85 L393.76,82.02 L392.08,83.19 L390.39,84.37 L388.71,85.55 L387.03,86.74 L385.35,87.92 L383.67,89.12 L381.99,90.31 L380.30,91.51 L378.62,92.72 L376.94,93.93 L375.26,95.14 L373.58,96.35 L371.90,97.57 L370.21,98.80 L368.53,100.03 L366.85,101.26 L365.17,102.49 L363.49,103.73 L361.81,104.97 L360.12,106.22 L358.44,107.47 L356.76,108.73 L355.08,109.98 L353.40,111.25 L351.72,112.51 L350.03,113.78 L348.35,115.06 L346.67,116.33 L344.99,117.62 L343.31,118.90 L341.63,120.19 L339.94,121.48 L338.26,122.78 L336.58,124.08 L334.90,125.38 Z" fill="#787878" fill-opacity="0.8" stroke="none"/>
<path d="M407.21,64.60 L408.89,63.36 L410.57,62.14 L412.26,60.94 L413.94,59.76 L415.62,58.60 L417.30,57.46 L418.98,56.34 L420.66,55.23 L422.35,54.15 L424.03,53.09 L425.71,52.04 L427.39,51.02 L429.07,50.01 L430.75,49.02 L432.44,48.05 L434.12,47.10 L435.80,46.17 L437.48,45.25 L439.16,44.34 L440.84,43.45 L440.84,50.93 L439.16,51.98 L437.48,53.03 L435.80,54.08 L434.12,55.14 L432.44,56.21 L430.75,57.28 L429.07,58.36 L427.39,59.44 L425.71,60.53 L424.03,61.62 L422.35,62.72 L420.66,63.82 L418.98,64.93 L417.30,66.04 L415.62,67.15 L413.94,68.27 L412.26,69.39 L410.57,70.52 L408.89,71.65 L407.21,72.79 Z" fill="#787878" fill-opacity="0.3" stroke="none"/>
<path d="M440.84,44.52 L442.53,43.62 L444.21,42.74 L445.89,41.87 L447.57,41.00 L449.25,40.15 L450.93,39.31 L452.62,38.48 L454.30,37.65 L455.98,36.84 L457.66,36.03 L459.34,35.23 L461.02,34.44 L462.71,33.65 L464.39,32.88 L466.07,32.11 L467.75,31.35 L469.43,30.59 L471.11,29.85 L472.80,29.12 L474.48,28.39 L476.16,27.68 L477.84,26.98 L479.52,26.30 L481.20,25.63 L482.89,24.97 L484.57,24.33 L486.25,23.71 L487.93,23.10 L489.61,22.52 L491.29,21.95 L492.98,21.40 L494.66,20.87 L496.34,20.37 L498.02,19.90 L499.70,19.46 L501.38,19.05 L503.07,18.67 L504.75,18.35 L506.43,18.06 L508.11,17.83 L509.79,17.66 L511.47,17.56 L513.16,17.53 L514.84,17.58 L516.52,17.71 L518.20,17.94 L518.20,19.06 L516.52,19.44 L514.84,19.83 L513.16,20.22 L511.47,20.61 L509.79,21.00 L508.11,21.40 L506.43,21.81 L504.75,22.22 L503.07,22.63 L501.38,23.05 L499.70,23.49 L498.02,23.93 L496.34,24.38 L494.66,24.84 L492.98,25.32 L491.29,25.81 L489.61,26.32 L487.93,26.85 L486.25,27.40 L484.57,27.98 L482.89,28.59 L481.20,29.22 L479.52,29.89 L477.84,30.58 L476.16,31.31 L474.48,32.06 L472.80,32.85 L471.11,33.66 L469.43,34.49 L467.75,35.35 L466.07,36.23 L464.39,37.13 L462.71,38.04 L461.02,38.97 L459.34,39.92 L457.66,40.87 L455.98,41.84 L454.30,42.81 L452.62,43.80 L450.93,44.80 L449.25,45.80 L447.57,46.81 L445.89,47.83 L444.21,48.86 L442.53,49.89 L440.84,50.93 Z" fill="#787878" fill-opacity="0.15" stroke="none"/>
<path d="M334.90,125.40 L336.58,123.76 L338.26,122.15 L339.94,120.57 L341.63,119.02 L343.31,117.48 L344.99,115.96 L346.67,114.45 L348.35,112.95 L350.03,111.46 L351.72,109.96 L353.40,108.47 L355.08,106.98 L356.76,105.48 L358.44,103.98 L360.12,102.48 L361.81,100.97 L363.49,99.46 L365.17,97.94 L366.85,96.41 L368.53,94.88 L370.21,93.35 L371.90,91.82 L373.58,90.28 L375.26,88.74 L376.94,87.20 L378.62,85.67 L380.30,84.13 L381.99,82.61 L383.67,81.08 L385.35,79.56 L387.03,78.05 L388.71,76.56 L390.39,75.07 L392.08,73.59 L393.76,72.13 L395.44,70.68 L397.12,69.25 L398.80,67.84 L400.48,66.45 L402.17,65.08 L403.85,63.73 L405.53,62.40 L407.21,61.09 L408.89,59.81 L410.57,58.56 L412.26,57.32 L413.94,56.12 L415.62,54.94 L417.30,53.78 L418.98,52.65 L420.66,51.55 L422.35,50.48 L424.03,49.43 L425.71,48.40 L427.39,47.41 L429.07,46.43 L430.75,45.48 L432.44,44.56 L434.12,43.65 L435.80,42.77 L437.48,41.91 L439.16,41.07 L440.84,40.25 L442.53,39.45 L444.21,38.66 L445.89,37.89 L447.57,37.13 L449.25,36.38 L450.93,35.65 L452.62,34.93 L454.30,34.21 L455.98,33.50 L457.66,32.80 L459.34,32.11 L461.02,31.41 L462.71,30.73 L464.39,30.04 L466.07,29.36 L467.75,28.67 L469.43,27.99 L471.11,27.31 L472.80,26.63 L474.48,25.94 L476.16,25.26 L477.84,24.58 L479.52,23.91 L481.20,23.23 L482.89,22.56 L484.57,21.90 L486.25,21.25 L487.93,20.61 L489.61,19.98 L491.29,19.37 L492.98,18.79 L494.66,18.23 L496.34,17.70 L498.02,17.21 L499.70,16.77 L501.38,16.37 L503.07,16.04 L504.75,15.76 L506.43,15.57 L508.11,15.46 L509.79,15.44 L511.47,15.53 L513.16,15.74 L514.84,16.08 L516.52,16.56 L518.20,17.20" stroke="#787878" stroke-width="1.05"/>
<path d="M334.90,125.40 L336.58,123.78 L338.26,122.20 L339.94,120.65 L341.63,119.12 L343.31,117.61 L344.99,116.11 L346.67,114.62 L348.35,113.14 L350.03,111.67 L351.72,110.20 L353.40,108.73 L355.08,107.26 L356.76,105.79 L358.44,104.31 L360.12,102.83 L361.81,101.35 L363.49,99.86 L365.17,98.37 L366.85,96.88 L368.53,95.38 L370.21,93.88 L371.90,92.38 L373.58,90.88 L375.26,89.37 L376.94,87.87 L378.62,86.37 L380.30,84.87 L381.99,83.38 L383.67,81.89 L385.35,80.41 L387.03,78.94 L388.71,77.47 L390.39,76.02 L392.08,74.58 L393.76,73.15 L395.44,71.74 L397.12,70.34 L398.80,68.96 L400.48,67.60 L402.17,66.26 L403.85,64.93 L405.53,63.63 L407.21,62.35 L408.89,61.09 L410.57,59.85 L412.26,58.63 L413.94,57.44 L415.62,56.27 L417.30,55.13 L418.98,54.01 L420.66,52.91 L422.35,51.84 L424.03,50.79 L425.71,49.77 L427.39,48.76 L429.07,47.78 L430.75,46.82 L432.44,45.89 L434.12,44.97 L435.80,44.07 L437.48,43.20 L439.16,42.34 L440.84,41.49 L442.53,40.67 L444.21,39.86 L445.89,39.06 L447.57,38.27 L449.25,37.50 L450.93,36.74 L452.62,35.99 L454.30,35.24 L455.98,34.51 L457.66,33.78 L459.34,33.05 L461.02,32.34 L462.71,31.62 L464.39,30.91 L466.07,30.20 L467.75,29.50 L469.43,28.80 L471.11,28.10 L472.80,27.40 L474.48,26.71 L476.16,26.03 L477.84,25.34 L479.52,24.67 L481.20,24.00 L482.89,23.33 L484.57,22.68 L486.25,22.04 L487.93,21.41 L489.61,20.80 L491.29,20.21 L492.98,19.64 L494.66,19.10 L496.34,18.58 L498.02,18.10 L499.70,17.66 L501.38,17.26 L503.07,16.92 L504.75,16.63 L506.43,16.41 L508.11,16.26 L509.79,16.19 L511.47,16.22 L513.16,16.35 L514.84,16.59 L516.52,16.95 L518.20,17.46" stroke="#787878" stroke-width="1.05"/>
<path d="M334.90,125.40 L336.58,123.84 L338.26,122.30 L339.94,120.79 L341.63,119.30 L343.31,117.83 L344.99,116.36 L346.67,114.91 L348.35,113.46 L350.03,112.02 L351.72,110.58 L353.40,109.14 L355.08,107.70 L356.76,106.26 L358.44,104.82 L360.12,103.37 L361.81,101.92 L363.49,100.47 L365.17,99.02 L366.85,97.56 L368.53,96.10 L370.21,94.63 L371.90,93.17 L373.58,91.70 L375.26,90.24 L376.94,88.77 L378.62,87.31 L380.30,85.85 L381.99,84.39 L383.67,82.94 L385.35,81.49 L387.03,80.05 L388.71,78.62 L390.39,77.20 L392.08,75.78 L393.76,74.38 L395.44,72.99 L397.12,71.62 L398.80,70.26 L400.48,68.91 L402.17,67.59 L403.85,66.27 L405.53,64.98 L407.21,63.71 L408.89,62.45 L410.57,61.21 L412.26,60.00 L413.94,58.80 L415.62,57.63 L417.30,56.48 L418.98,55.35 L420.66,54.24 L422.35,53.15 L424.03,52.08 L425.71,51.04 L427.39,50.01 L429.07,49.01 L430.75,48.03 L432.44,47.06 L434.12,46.12 L435.80,45.19 L437.48,44.28 L439.16,43.39 L440.84,42.52 L442.53,41.66 L444.21,40.81 L445.89,39.98 L447.57,39.16 L449.25,38.36 L450.93,37.56 L452.62,36.78 L454.30,36.00 L455.98,35.23 L457.66,34.47 L459.34,33.72 L461.02,32.97 L462.71,32.23 L464.39,31.49 L466.07,30.76 L467.75,30.03 L469.43,29.31 L471.11,28.59 L472.80,27.88 L474.48,27.18 L476.16,26.48 L477.84,25.79 L479.52,25.10 L481.20,24.43 L482.89,23.76 L484.57,23.11 L486.25,22.46 L487.93,21.84 L489.61,21.23 L491.29,20.63 L492.98,20.06 L494.66,19.52 L496.34,19.00 L498.02,18.51 L499.70,18.06 L501.38,17.66 L503.07,17.30 L504.75,17.00 L506.43,16.76 L508.11,16.59 L509.79,16.50 L511.47,16.49 L513.16,16.58 L514.84,16.78 L516.52,17.10 L518.20,17.55" stroke="#787878" stroke-width="1.05"/>
<path d="M334.90,125.40 L336.58,123.85 L338.26,122.33 L339.94,120.84 L341.63,119.36 L343.31,117.90 L344.99,116.46 L346.67,115.02 L348.35,113.58 L350.03,112.16 L351.72,110.73 L353.40,109.31 L355.08,107.89 L356.76,106.47 L358.44,105.04 L360.12,103.62 L361.81,102.19 L363.49,100.77 L365.17,99.34 L366.85,97.90 L368.53,96.47 L370.21,95.04 L371.90,93.60 L373.58,92.17 L375.26,90.74 L376.94,89.30 L378.62,87.88 L380.30,86.45 L381.99,85.03 L383.67,83.61 L385.35,82.21 L387.03,80.80 L388.71,79.41 L390.39,78.03 L392.08,76.65 L393.76,75.29 L395.44,73.94 L397.12,72.61 L398.80,71.28 L400.48,69.97 L402.17,68.68 L403.85,67.40 L405.53,66.14 L407.21,64.90 L408.89,63.68 L410.57,62.47 L412.26,61.28 L413.94,60.11 L415.62,58.96 L417.30,57.83 L418.98,56.71 L420.66,55.62 L422.35,54.54 L424.03,53.49 L425.71,52.45 L427.39,51.43 L429.07,50.43 L430.75,49.45 L432.44,48.48 L434.12,47.53 L435.80,46.60 L437.48,45.68 L439.16,44.77 L440.84,43.88 L442.53,43.01 L444.21,42.14 L445.89,41.29 L447.57,40.45 L449.25,39.62 L450.93,38.80 L452.62,37.99 L454.30,37.19 L455.98,36.39 L457.66,35.61 L459.34,34.83 L461.02,34.05 L462.71,33.29 L464.39,32.53 L466.07,31.77 L467.75,31.02 L469.43,30.28 L471.11,29.55 L472.80,28.83 L474.48,28.12 L476.16,27.41 L477.84,26.72 L479.52,26.04 L481.20,25.38 L482.89,24.72 L484.57,24.09 L486.25,23.47 L487.93,22.86 L489.61,22.27 L491.29,21.70 L492.98,21.16 L494.66,20.63 L496.34,20.14 L498.02,19.66 L499.70,19.23 L501.38,18.82 L503.07,18.46 L504.75,18.14 L506.43,17.87 L508.11,17.65 L509.79,17.50 L511.47,17.41 L513.16,17.40 L514.84,17.47 L516.52,17.63 L518.20,17.90" stroke="#787878" stroke-width="1.05"/>
<path d="M334.90,125.39 L336.58,123.91 L338.26,122.46 L339.94,121.02 L341.63,119.59 L343.31,118.17 L344.99,116.76 L346.67,115.37 L348.35,113.97 L350.03,112.58 L351.72,111.19 L353.40,109.81 L355.08,108.42 L356.76,107.04 L358.44,105.65 L360.12,104.27 L361.81,102.88 L363.49,101.49 L365.17,100.10 L366.85,98.71 L368.53,97.32 L370.21,95.93 L371.90,94.54 L373.58,93.14 L375.26,91.75 L376.94,90.36 L378.62,88.97 L380.30,87.59 L381.99,86.21 L383.67,84.83 L385.35,83.46 L387.03,82.09 L388.71,80.73 L390.39,79.38 L392.08,78.03 L393.76,76.70 L395.44,75.37 L397.12,74.05 L398.80,72.75 L400.48,71.46 L402.17,70.18 L403.85,68.91 L405.53,67.65 L407.21,66.41 L408.89,65.19 L410.57,63.98 L412.26,62.78 L413.94,61.61 L415.62,60.44 L417.30,59.30 L418.98,58.17 L420.66,57.05 L422.35,55.96 L424.03,54.88 L425.71,53.81 L427.39,52.76 L429.07,51.73 L430.75,50.72 L432.44,49.72 L434.12,48.73 L435.80,47.76 L437.48,46.80 L439.16,45.86 L440.84,44.93 L442.53,44.02 L444.21,43.11 L445.89,42.22 L447.57,41.34 L449.25,40.47 L450.93,39.62 L452.62,38.77 L454.30,37.93 L455.98,37.10 L457.66,36.27 L459.34,35.46 L461.02,34.65 L462.71,33.86 L464.39,33.07 L466.07,32.29 L467.75,31.51 L469.43,30.75 L471.11,30.00 L472.80,29.26 L474.48,28.53 L476.16,27.81 L477.84,27.11 L479.52,26.42 L481.20,25.74 L482.89,25.08 L484.57,24.44 L486.25,23.81 L487.93,23.20 L489.61,22.61 L491.29,22.04 L492.98,21.48 L494.66,20.95 L496.34,20.45 L498.02,19.97 L499.70,19.52 L501.38,19.10 L503.07,18.73 L504.75,18.39 L506.43,18.10 L508.11,17.87 L509.79,17.69 L511.47,17.58 L513.16,17.54 L514.84,17.58 L516.52,17.72 L518.20,17.95" stroke="#787878" stroke-width="1.05"/>
<path d="M334.90,125.39 L336.58,123.91 L338.26,122.45 L339.94,121.01 L341.63,119.58 L343.31,118.16 L344.99,116.76 L346.67,115.36 L348.35,113.97 L350.03,112.58 L351.72,111.20 L353.40,109.82 L355.08,108.44 L356.76,107.06 L358.44,105.69 L360.12,104.31 L361.81,102.93 L363.49,101.55 L365.17,100.18 L366.85,98.80 L368.53,97.42 L370.21,96.04 L371.90,94.67 L373.58,93.29 L375.26,91.92 L376.94,90.55 L378.62,89.19 L380.30,87.82 L381.99,86.46 L383.67,85.11 L385.35,83.77 L387.03,82.43 L388.71,81.09 L390.39,79.77 L392.08,78.45 L393.76,77.15 L395.44,75.85 L397.12,74.56 L398.80,73.29 L400.48,72.03 L402.17,70.78 L403.85,69.54 L405.53,68.32 L407.21,67.11 L408.89,65.91 L410.57,64.73 L412.26,63.57 L413.94,62.41 L415.62,61.28 L417.30,60.15 L418.98,59.05 L420.66,57.95 L422.35,56.88 L424.03,55.81 L425.71,54.76 L427.39,53.73 L429.07,52.71 L430.75,51.71 L432.44,50.71 L434.12,49.73 L435.80,48.77 L437.48,47.81 L439.16,46.87 L440.84,45.94 L442.53,45.02 L444.21,44.11 L445.89,43.21 L447.57,42.32 L449.25,41.44 L450.93,40.57 L452.62,39.71 L454.30,38.86 L455.98,38.01 L457.66,37.18 L459.34,36.35 L461.02,35.52 L462.71,34.71 L464.39,33.91 L466.07,33.11 L467.75,32.33 L469.43,31.56 L471.11,30.80 L472.80,30.05 L474.48,29.32 L476.16,28.60 L477.84,27.90 L479.52,27.22 L481.20,26.56 L482.89,25.91 L484.57,25.29 L486.25,24.68 L487.93,24.09 L489.61,23.53 L491.29,22.98 L492.98,22.45 L494.66,21.95 L496.34,21.46 L498.02,21.00 L499.70,20.56 L501.38,20.15 L503.07,19.77 L504.75,19.43 L506.43,19.12 L508.11,18.84 L509.79,18.61 L511.47,18.43 L513.16,18.30 L514.84,18.23 L516.52,18.21 L518.20,18.27" stroke="#787878" stroke-width="1.05"/>
<path d="M334.90,125.39 L336.58,123.97 L338.26,122.56 L339.94,121.17 L341.63,119.78 L343.31,118.41 L344.99,117.04 L346.67,115.68 L348.35,114.32 L350.03,112.97 L351.72,111.62 L353.40,110.27 L355.08,108.92 L356.76,107.58 L358.44,106.24 L360.12,104.89 L361.81,103.55 L363.49,102.21 L365.17,100.86 L366.85,99.52 L368.53,98.18 L370.21,96.84 L371.90,95.50 L373.58,94.16 L375.26,92.83 L376.94,91.49 L378.62,90.16 L380.30,88.83 L381.99,87.50 L383.67,86.18 L385.35,84.86 L387.03,83.55 L388.71,82.25 L390.39,80.94 L392.08,79.65 L393.76,78.36 L395.44,77.09 L397.12,75.82 L398.80,74.55 L400.48,73.30 L402.17,72.06 L403.85,70.83 L405.53,69.61 L407.21,68.40 L408.89,67.20 L410.57,66.01 L412.26,64.83 L413.94,63.67 L415.62,62.52 L417.30,61.38 L418.98,60.25 L420.66,59.14 L422.35,58.04 L424.03,56.95 L425.71,55.88 L427.39,54.82 L429.07,53.77 L430.75,52.73 L432.44,51.71 L434.12,50.69 L435.80,49.69 L437.48,48.71 L439.16,47.73 L440.84,46.76 L442.53,45.81 L444.21,44.86 L445.89,43.93 L447.57,43.01 L449.25,42.09 L450.93,41.19 L452.62,40.29 L454.30,39.41 L455.98,38.53 L457.66,37.66 L459.34,36.80 L461.02,35.96 L462.71,35.12 L464.39,34.29 L466.07,33.47 L467.75,32.67 L469.43,31.88 L471.11,31.10 L472.80,30.33 L474.48,29.59 L476.16,28.86 L477.84,28.14 L479.52,27.45 L481.20,26.78 L482.89,26.13 L484.57,25.49 L486.25,24.88 L487.93,24.29 L489.61,23.71 L491.29,23.16 L492.98,22.62 L494.66,22.10 L496.34,21.61 L498.02,21.14 L499.70,20.69 L501.38,20.27 L503.07,19.88 L504.75,19.52 L506.43,19.19 L508.11,18.91 L509.79,18.66 L511.47,18.47 L513.16,18.33 L514.84,18.24 L516.52,18.22 L518.20,18.27" stroke="#787878" stroke-width="1.05"/>
<path d="M334.90,125.39 L336.58,123.97 L338.26,122.56 L339.94,121.17 L341.63,119.78 L343.31,118.41 L344.99,117.04 L346.67,115.69 L348.35,114.33 L350.03,112.99 L351.72,111.64 L353.40,110.30 L355.08,108.96 L356.76,107.62 L358.44,106.29 L360.12,104.96 L361.81,103.62 L363.49,102.29 L365.17,100.96 L366.85,99.63 L368.53,98.31 L370.21,96.98 L371.90,95.66 L373.58,94.34 L375.26,93.02 L376.94,91.71 L378.62,90.40 L380.30,89.09 L381.99,87.79 L383.67,86.49 L385.35,85.20 L387.03,83.92 L388.71,82.64 L390.39,81.36 L392.08,80.10 L393.76,78.84 L395.44,77.59 L397.12,76.35 L398.80,75.12 L400.48,73.90 L402.17,72.68 L403.85,71.48 L405.53,70.29 L407.21,69.10 L408.89,67.93 L410.57,66.77 L412.26,65.62 L413.94,64.48 L415.62,63.35 L417.30,62.24 L418.98,61.13 L420.66,60.04 L422.35,58.95 L424.03,57.88 L425.71,56.82 L427.39,55.77 L429.07,54.73 L430.75,53.70 L432.44,52.68 L434.12,51.68 L435.80,50.68 L437.48,49.69 L439.16,48.71 L440.84,47.74 L442.53,46.78 L444.21,45.83 L445.89,44.89 L447.57,43.95 L449.25,43.03 L450.93,42.11 L452.62,41.20 L454.30,40.30 L455.98,39.41 L457.66,38.53 L459.34,37.66 L461.02,36.79 L462.71,35.94 L464.39,35.10 L466.07,34.26 L467.75,33.45 L469.43,32.64 L471.11,31.86 L472.80,31.09 L474.48,30.34 L476.16,29.61 L477.84,28.90 L479.52,28.22 L481.20,27.55 L482.89,26.91 L484.57,26.30 L486.25,25.70 L487.93,25.13 L489.61,24.58 L491.29,24.05 L492.98,23.53 L494.66,23.04 L496.34,22.57 L498.02,22.11 L499.70,21.67 L501.38,21.26 L503.07,20.86 L504.75,20.49 L506.43,20.15 L508.11,19.82 L509.79,19.53 L511.47,19.27 L513.16,19.04 L514.84,18.84 L516.52,18.69 L518.20,18.58" stroke="#787878" stroke-width="1.05"/>
<path d="M334.90,125.39 L336.58,124.02 L338.26,122.66 L339.94,121.31 L341.63,119.97 L343.31,118.63 L344.99,117.30 L346.67,115.97 L348.35,114.65 L350.03,113.33 L351.72,112.02 L353.40,110.70 L355.08,109.40 L356.76,108.09 L358.44,106.78 L360.12,105.48 L361.81,104.18 L363.49,102.88 L365.17,101.58 L366.85,100.28 L368.53,98.99 L370.21,97.70 L371.90,96.41 L373.58,95.12 L375.26,93.83 L376.94,92.55 L378.62,91.27 L380.30,89.99 L381.99,88.72 L383.67,87.45 L385.35,86.19 L387.03,84.93 L388.71,83.67 L390.39,82.42 L392.08,81.17 L393.76,79.93 L395.44,78.70 L397.12,77.47 L398.80,76.25 L400.48,75.04 L402.17,73.83 L403.85,72.63 L405.53,71.44 L407.21,70.26 L408.89,69.08 L410.57,67.92 L412.26,66.76 L413.94,65.61 L415.62,64.47 L417.30,63.34 L418.98,62.22 L420.66,61.11 L422.35,60.00 L424.03,58.91 L425.71,57.82 L427.39,56.75 L429.07,55.68 L430.75,54.63 L432.44,53.58 L434.12,52.54 L435.80,51.51 L437.48,50.50 L439.16,49.49 L440.84,48.48 L442.53,47.49 L444.21,46.51 L445.89,45.54 L447.57,44.57 L449.25,43.61 L450.93,42.67 L452.62,41.73 L454.30,40.80 L455.98,39.88 L457.66,38.97 L459.34,38.07 L461.02,37.18 L462.71,36.31 L464.39,35.44 L466.07,34.59 L467.75,33.76 L469.43,32.93 L471.11,32.13 L472.80,31.35 L474.48,30.58 L476.16,29.84 L477.84,29.12 L479.52,28.43 L481.20,27.76 L482.89,27.11 L484.57,26.49 L486.25,25.89 L487.93,25.31 L489.61,24.75 L491.29,24.21 L492.98,23.69 L494.66,23.19 L496.34,22.71 L498.02,22.24 L499.70,21.80 L501.38,21.37 L503.07,20.96 L504.75,20.58 L506.43,20.22 L508.11,19.89 L509.79,19.58 L511.47,19.31 L513.16,19.07 L514.84,18.86 L516.52,18.70 L518.20,18.58" stroke="#787878" stroke-width="1.05"/>
<path d="M334.90,125.39 L336.58,124.03 L338.26,122.67 L339.94,121.33 L341.63,120.00 L343.31,118.67 L344.99,117.35 L346.67,116.03 L348.35,114.71 L350.03,113.41 L351.72,112.10 L353.40,110.80 L355.08,109.50 L356.76,108.21 L358.44,106.92 L360.12,105.63 L361.81,104.34 L363.49,103.06 L365.17,101.78 L366.85,100.50 L368.53,99.22 L370.21,97.95 L371.90,96.68 L373.58,95.42 L375.26,94.15 L376.94,92.90 L378.62,91.64 L380.30,90.39 L381.99,89.14 L383.67,87.90 L385.35,86.67 L387.03,85.43 L388.71,84.21 L390.39,82.99 L392.08,81.77 L393.76,80.56 L395.44,79.36 L397.12,78.16 L398.80,76.97 L400.48,75.78 L402.17,74.60 L403.85,73.43 L405.53,72.27 L407.21,71.11 L408.89,69.96 L410.57,68.82 L412.26,67.68 L413.94,66.55 L415.62,65.43 L417.30,64.32 L418.98,63.21 L420.66,62.12 L422.35,61.02 L424.03,59.94 L425.71,58.87 L427.39,57.80 L429.07,56.74 L430.75,55.68 L432.44,54.64 L434.12,53.60 L435.80,52.57 L437.48,51.54 L439.16,50.53 L440.84,49.52 L442.53,48.51 L444.21,47.52 L445.89,46.53 L447.57,45.55 L449.25,44.58 L450.93,43.62 L452.62,42.66 L454.30,41.71 L455.98,40.78 L457.66,39.85 L459.34,38.93 L461.02,38.02 L462.71,37.13 L464.39,36.25 L466.07,35.38 L467.75,34.53 L469.43,33.70 L471.11,32.88 L472.80,32.09 L474.48,31.32 L476.16,30.58 L477.84,29.86 L479.52,29.17 L481.20,28.51 L482.89,27.87 L484.57,27.26 L486.25,26.68 L487.93,26.12 L489.61,25.58 L491.29,25.06 L492.98,24.56 L494.66,24.08 L496.34,23.61 L498.02,23.16 L499.70,22.73 L501.38,22.30 L503.07,21.89 L504.75,21.50 L506.43,21.11 L508.11,20.75 L509.79,20.39 L511.47,20.05 L513.16,19.73 L514.84,19.42 L516.52,19.13 L518.20,18.86" stroke="#787878" stroke-width="1.05"/>
<path d="M334.90,125.38 L336.58,124.06 L338.26,122.75 L339.94,121.44 L341.63,120.13 L343.31,118.83 L344.99,117.53 L346.67,116.24 L348.35,114.95 L350.03,113.66 L351.72,112.38 L353.40,111.10 L355.08,109.83 L356.76,108.55 L358.44,107.28 L360.12,106.02 L361.81,104.75 L363.49,103.49 L365.17,102.24 L366.85,100.98 L368.53,99.73 L370.21,98.49 L371.90,97.24 L373.58,96.00 L375.26,94.76 L376.94,93.53 L378.62,92.30 L380.30,91.07 L381.99,89.85 L383.67,88.63 L385.35,87.41 L387.03,86.20 L388.71,84.99 L390.39,83.79 L392.08,82.59 L393.76,81.39 L395.44,80.20 L397.12,79.02 L398.80,77.83 L400.48,76.66 L402.17,75.49 L403.85,74.32 L405.53,73.16 L407.21,72.00 L408.89,70.85 L410.57,69.70 L412.26,68.56 L413.94,67.43 L415.62,66.30 L417.30,65.18 L418.98,64.06 L420.66,62.95 L422.35,61.85 L424.03,60.75 L425.71,59.65 L427.39,58.57 L429.07,57.49 L430.75,56.41 L432.44,55.35 L434.12,54.29 L435.80,53.23 L437.48,52.19 L439.16,51.15 L440.84,50.11 L442.53,49.09 L444.21,48.07 L445.89,47.06 L447.57,46.06 L449.25,45.06 L450.93,44.07 L452.62,43.09 L454.30,42.13 L455.98,41.17 L457.66,40.22 L459.34,39.28 L461.02,38.35 L462.71,37.44 L464.39,36.54 L466.07,35.66 L467.75,34.79 L469.43,33.95 L471.11,33.12 L472.80,32.32 L474.48,31.54 L476.16,30.79 L477.84,30.06 L479.52,29.37 L481.20,28.70 L482.89,28.06 L484.57,27.44 L486.25,26.86 L487.93,26.29 L489.61,25.75 L491.29,25.23 L492.98,24.72 L494.66,24.24 L496.34,23.77 L498.02,23.31 L499.70,22.86 L501.38,22.43 L503.07,22.02 L504.75,21.61 L506.43,21.22 L508.11,20.84 L509.79,20.47 L511.47,20.12 L513.16,19.78 L514.84,19.46 L516.52,19.16 L518.20,18.88" stroke="#787878" stroke-width="1.05"/>
<path d="M334.90,125.38 L336.58,124.08 L338.26,122.78 L339.94,121.48 L341.63,120.19 L343.31,118.90 L344.99,117.62 L346.67,116.33 L348.35,115.06 L350.03,113.78 L351.72,112.51 L353.40,111.25 L355.08,109.98 L356.76,108.73 L358.44,107.47 L360.12,106.22 L361.81,104.97 L363.49,103.73 L365.17,102.49 L366.85,101.26 L368.53,100.03 L370.21,98.80 L371.90,97.57 L373.58,96.35 L375.26,95.14 L376.94,93.93 L378.62,92.72 L380.30,91.51 L381.99,90.31 L383.67,89.12 L385.35,87.92 L387.03,86.74 L388.71,85.55 L390.39,84.37 L392.08,83.19 L393.76,82.02 L395.44,80.85 L397.12,79.69 L398.80,78.53 L400.48,77.37 L402.17,76.22 L403.85,75.07 L405.53,73.93 L407.21,72.79 L408.89,71.65 L410.57,70.52 L412.26,69.39 L413.94,68.27 L415.62,67.15 L417.30,66.04 L418.98,64.93 L420.66,63.82 L422.35,62.72 L424.03,61.62 L425.71,60.53 L427.39,59.44 L429.07,58.36 L430.75,57.28 L432.44,56.21 L434.12,55.14 L435.80,54.08 L437.48,53.03 L439.16,51.98 L440.84,50.93 L442.53,49.89 L444.21,48.86 L445.89,47.83 L447.57,46.81 L449.25,45.80 L450.93,44.80 L452.62,43.80 L454.30,42.81 L455.98,41.84 L457.66,40.87 L459.34,39.92 L461.02,38.97 L462.71,38.04 L464.39,37.13 L466.07,36.23 L467.75,35.35 L469.43,34.49 L471.11,33.66 L472.80,32.85 L474.48,32.06 L476.16,31.31 L477.84,30.58 L479.52,29.89 L481.20,29.22 L482.89,28.59 L484.57,27.98 L486.25,27.40 L487.93,26.85 L489.61,26.32 L491.29,25.81 L492.98,25.32 L494.66,24.84 L496.34,24.38 L498.02,23.93 L499.70,23.49 L501.38,23.05 L503.07,22.63 L504.75,22.22 L506.43,21.81 L508.11,21.40 L509.79,21.00 L511.47,20.61 L513.16,20.22 L514.84,19.83 L516.52,19.44 L518.20,19.06" stroke="#787878" stroke-width="1.05"/>
<path d="M334.90,87.94 L336.58,87.16 L338.26,86.39 L339.94,85.61 L341.63,84.84 L343.31,84.06 L344.99,83.29 L346.67,82.51 L348.35,81.74 L350.03,80.97 L351.72,80.19 L353.40,79.42 L355.08,78.65 L356.76,77.87 L358.44,77.10 L360.12,76.33 L361.81,75.55 L363.49,74.78 L365.17,74.01 L366.85,73.24 L368.53,72.46 L370.21,71.69 L371.90,70.92 L373.58,70.14 L375.26,69.36 L376.94,68.59 L378.62,67.81 L380.30,67.04 L381.99,66.26 L383.67,65.49 L385.35,64.72 L387.03,63.95 L388.71,63.18 L390.39,62.42 L392.08,61.66 L393.76,60.90 L395.44,60.15 L397.12,59.40 L398.80,58.66 L400.48,57.92 L402.17,57.19 L403.85,56.45 L405.53,55.72 L407.21,54.99 L408.89,54.27 L410.57,53.55 L412.26,52.83 L413.94,52.10 L415.62,51.39 L417.30,50.67 L418.98,49.95 L420.66,49.23 L422.35,48.51 L424.03,47.79 L425.71,47.07 L427.39,46.35 L429.07,45.63 L430.75,44.90 L432.44,44.18 L434.12,43.45 L435.80,42.72 L437.48,41.98 L439.16,41.24 L440.84,40.49 L442.53,39.75 L444.21,39.00 L445.89,38.24 L447.57,37.49 L449.25,36.74 L450.93,35.99 L452.62,35.24 L454.30,34.49 L455.98,33.75 L457.66,33.01 L459.34,32.28 L461.02,31.56 L462.71,30.84 L464.39,30.13 L466.07,29.43 L467.75,28.73 L469.43,28.04 L471.11,27.35 L472.80,26.67 L474.48,25.99 L476.16,25.32 L477.84,24.65 L479.52,23.98 L481.20,23.31 L482.89,22.64 L484.57,21.97 L486.25,21.29 L487.93,20.61 L489.61,19.94 L491.29,19.30 L492.98,18.69 L494.66,18.11 L496.34,17.55 L498.02,17.01 L499.70,16.51 L501.38,16.11 L503.07,15.86 L504.75,15.76 L506.43,15.77 L508.11,15.83 L509.79,15.91 L511.47,16.04 L513.16,16.23 L514.84,16.45 L516.52,16.80 L518.20,17.20" stroke="#787878" stroke-width="1.08"/>
<path d="M334.90,125.38 L336.58,124.18 L338.26,122.98 L339.94,121.79 L341.63,120.59 L343.31,119.40 L344.99,118.21 L346.67,117.03 L348.35,115.84 L350.03,114.66 L351.72,113.48 L353.40,112.30 L355.08,111.12 L356.76,109.95 L358.44,108.78 L360.12,107.61 L361.81,106.44 L363.49,105.28 L365.17,104.12 L366.85,102.96 L368.53,101.80 L370.21,100.64 L371.90,99.49 L373.58,98.34 L375.26,97.19 L376.94,96.05 L378.62,94.90 L380.30,93.76 L381.99,92.62 L383.67,91.49 L385.35,90.35 L387.03,89.22 L388.71,88.09 L390.39,86.97 L392.08,85.84 L393.76,84.72 L395.44,83.60 L397.12,82.48 L398.80,81.37 L400.48,80.25 L402.17,79.14 L403.85,78.04 L405.53,76.93 L407.21,75.83 L408.89,74.73 L410.57,73.63 L410.57,76.40 L408.89,77.41 L407.21,78.43 L405.53,79.45 L403.85,80.47 L402.17,81.50 L400.48,82.53 L398.80,83.56 L397.12,84.60 L395.44,85.64 L393.76,86.68 L392.08,87.73 L390.39,88.78 L388.71,89.84 L387.03,90.89 L385.35,91.95 L383.67,93.02 L381.99,94.08 L380.30,95.15 L378.62,96.23 L376.94,97.31 L375.26,98.39 L373.58,99.47 L371.90,100.56 L370.21,101.65 L368.53,102.74 L366.85,103.84 L365.17,104.94 L363.49,106.04 L361.81,107.15 L360.12,108.26 L358.44,109.37 L356.76,110.49 L355.08,111.61 L353.40,112.73 L351.72,113.86 L350.03,114.99 L348.35,116.12 L346.67,117.26 L344.99,118.40 L343.31,119.54 L341.63,120.69 L339.94,121.84 L338.26,122.99 L336.58,124.15 L334.90,125.31 Z" fill="#ff0000" fill-opacity="0.3" stroke="none"/>
<path d="M334.90,125.38 L336.58,124.18 L338.26,122.98 L339.94,121.79 L341.63,120.59 L343.31,119.40 L344.99,118.21 L346.67,117.03 L348.35,115.84 L350.03,114.66 L351.72,113.48 L353.40,112.30 L355.08,111.12 L356.76,109.95 L358.44,108.78 L360.12,107.61 L361.81,106.44 L363.49,105.28 L365.17,104.12 L366.85,102.96 L368.53,101.80 L370.21,100.64 L371.90,99.49 L373.58,98.34 L375.26,97.19 L376.94,96.05 L378.62,94.90 L380.30,93.76 L381.99,92.62 L383.67,91.49 L385.35,90.35 L387.03,89.22 L388.71,88.09 L390.39,86.97 L392.08,85.84 L393.76,84.72 L395.44,83.60 L397.12,82.48 L398.80,81.37 L400.48,80.25 L402.17,79.14 L403.85,78.04 L405.53,76.93 L407.21,75.83 L408.89,74.73 L410.57,73.63 L412.26,72.54 L413.94,71.44 L415.62,70.35 L417.30,69.27 L418.98,68.18 L420.66,67.10 L422.35,66.02 L424.03,64.94 L425.71,63.87 L427.39,62.80 L429.07,61.73 L430.75,60.66 L432.44,59.60 L434.12,58.54 L435.80,57.49 L437.48,56.43 L439.16,55.38 L440.84,54.34 L442.53,53.29 L444.21,52.25 L445.89,51.22 L447.57,50.18 L449.25,49.15 L450.93,48.13 L452.62,47.11 L454.30,46.09 L455.98,45.08 L457.66,44.08 L459.34,43.08 L461.02,42.08 L462.71,41.10 L464.39,40.12 L466.07,39.15 L467.75,38.18 L469.43,37.23 L471.11,36.29 L472.80,35.37 L474.48,34.45 L476.16,33.56 L477.84,32.69 L479.52,31.84 L481.20,31.03 L482.89,30.25 L484.57,29.51 L486.25,28.82 L487.93,28.19 L489.61,27.62 L491.29,27.11 L492.98,26.68 L494.66,26.32 L496.34,26.02 L498.02,25.78 L499.70,25.59 L501.38,25.44 L503.07,25.34 L504.75,25.26 L506.43,25.21 L508.11,25.18 L509.79,25.17 L511.47,25.18 L513.16,25.19 L514.84,25.22 L516.52,25.26 L518.20,25.30" stroke="#ff0000" stroke-width="0.9"/>
<path d="M334.90,125.37 L336.58,124.18 L338.26,122.99 L339.94,121.80 L341.63,120.61 L343.31,119.42 L344.99,118.24 L346.67,117.06 L348.35,115.88 L350.03,114.71 L351.72,113.53 L353.40,112.36 L355.08,111.20 L356.76,110.03 L358.44,108.87 L360.12,107.71 L361.81,106.55 L363.49,105.39 L365.17,104.24 L366.85,103.09 L368.53,101.94 L370.21,100.79 L371.90,99.65 L373.58,98.51 L375.26,97.37 L376.94,96.24 L378.62,95.10 L380.30,93.97 L381.99,92.84 L383.67,91.72 L385.35,90.59 L387.03,89.47 L388.71,88.35 L390.39,87.24 L392.08,86.12 L393.76,85.01 L395.44,83.91 L397.12,82.80 L398.80,81.70 L400.48,80.60 L402.17,79.50 L403.85,78.40 L405.53,77.31 L407.21,76.22 L408.89,75.13 L410.57,74.05 L412.26,72.96 L413.94,71.88 L415.62,70.81 L417.30,69.73 L418.98,68.66 L420.66,67.59 L422.35,66.53 L424.03,65.46 L425.71,64.40 L427.39,63.35 L429.07,62.29 L430.75,61.24 L432.44,60.19 L434.12,59.15 L435.80,58.10 L437.48,57.06 L439.16,56.03 L440.84,55.00 L442.53,53.97 L444.21,52.94 L445.89,51.92 L447.57,50.90 L449.25,49.89 L450.93,48.88 L452.62,47.87 L454.30,46.87 L455.98,45.87 L457.66,44.88 L459.34,43.90 L461.02,42.91 L462.71,41.94 L464.39,40.97 L466.07,40.01 L467.75,39.06 L469.43,38.12 L471.11,37.19 L472.80,36.27 L474.48,35.37 L476.16,34.48 L477.84,33.61 L479.52,32.77 L481.20,31.95 L482.89,31.16 L484.57,30.41 L486.25,29.70 L487.93,29.04 L489.61,28.44 L491.29,27.89 L492.98,27.41 L494.66,26.99 L496.34,26.63 L498.02,26.32 L499.70,26.07 L501.38,25.86 L503.07,25.69 L504.75,25.55 L506.43,25.45 L508.11,25.38 L509.79,25.34 L511.47,25.33 L513.16,25.33 L514.84,25.35 L516.52,25.39 L518.20,25.44" stroke="#ff0000" stroke-width="0.9"/>
<path d="M334.90,125.36 L336.58,124.17 L338.26,122.99 L339.94,121.80 L341.63,120.63 L343.31,119.45 L344.99,118.27 L346.67,117.10 L348.35,115.93 L350.03,114.77 L351.72,113.60 L353.40,112.44 L355.08,111.28 L356.76,110.13 L358.44,108.97 L360.12,107.82 L361.81,106.68 L363.49,105.53 L365.17,104.39 L366.85,103.25 L368.53,102.11 L370.21,100.98 L371.90,99.84 L373.58,98.71 L375.26,97.59 L376.94,96.46 L378.62,95.34 L380.30,94.22 L381.99,93.11 L383.67,91.99 L385.35,90.88 L387.03,89.77 L388.71,88.67 L390.39,87.56 L392.08,86.46 L393.76,85.37 L395.44,84.27 L397.12,83.18 L398.80,82.09 L400.48,81.00 L402.17,79.92 L403.85,78.84 L405.53,77.76 L407.21,76.69 L408.89,75.61 L410.57,74.54 L412.26,73.48 L413.94,72.41 L415.62,71.35 L417.30,70.29 L418.98,69.24 L420.66,68.18 L422.35,67.13 L424.03,66.09 L425.71,65.04 L427.39,64.00 L429.07,62.97 L430.75,61.93 L432.44,60.90 L434.12,59.87 L435.80,58.85 L437.48,57.82 L439.16,56.80 L440.84,55.79 L442.53,54.78 L444.21,53.77 L445.89,52.76 L447.57,51.76 L449.25,50.77 L450.93,49.77 L452.62,48.78 L454.30,47.80 L455.98,46.82 L457.66,45.85 L459.34,44.88 L461.02,43.91 L462.71,42.95 L464.39,42.00 L466.07,41.06 L467.75,40.12 L469.43,39.19 L471.11,38.27 L472.80,37.36 L474.48,36.47 L476.16,35.58 L477.84,34.72 L479.52,33.87 L481.20,33.05 L482.89,32.25 L484.57,31.48 L486.25,30.75 L487.93,30.06 L489.61,29.42 L491.29,28.83 L492.98,28.29 L494.66,27.80 L496.34,27.37 L498.02,26.98 L499.70,26.65 L501.38,26.35 L503.07,26.11 L504.75,25.90 L506.43,25.74 L508.11,25.63 L509.79,25.55 L511.47,25.50 L513.16,25.49 L514.84,25.51 L516.52,25.54 L518.20,25.60" stroke="#ff0000" stroke-width="0.9"/>
<path d="M334.90,125.35 L336.58,124.17 L338.26,122.99 L339.94,121.81 L341.63,120.64 L343.31,119.47 L344.99,118.30 L346.67,117.14 L348.35,115.98 L350.03,114.82 L351.72,113.66 L353.40,112.51 L355.08,111.36 L356.76,110.21 L358.44,109.06 L360.12,107.92 L361.81,106.78 L363.49,105.64 L365.17,104.51 L366.85,103.38 L368.53,102.25 L370.21,101.13 L371.90,100.00 L373.58,98.88 L375.26,97.77 L376.94,96.65 L378.62,95.54 L380.30,94.43 L381.99,93.32 L383.67,92.22 L385.35,91.12 L387.03,90.02 L388.71,88.93 L390.39,87.84 L392.08,86.75 L393.76,85.66 L395.44,84.58 L397.12,83.50 L398.80,82.42 L400.48,81.35 L402.17,80.27 L403.85,79.21 L405.53,78.14 L407.21,77.08 L408.89,76.02 L410.57,74.96 L412.26,73.90 L413.94,72.85 L415.62,71.80 L417.30,70.76 L418.98,69.72 L420.66,68.68 L422.35,67.64 L424.03,66.61 L425.71,65.58 L427.39,64.55 L429.07,63.53 L430.75,62.51 L432.44,61.49 L434.12,60.47 L435.80,59.46 L437.48,58.46 L439.16,57.45 L440.84,56.45 L442.53,55.45 L444.21,54.46 L445.89,53.47 L447.57,52.48 L449.25,51.50 L450.93,50.52 L452.62,49.55 L454.30,48.58 L455.98,47.61 L457.66,46.65 L459.34,45.69 L461.02,44.74 L462.71,43.80 L464.39,42.86 L466.07,41.92 L467.75,41.00 L469.43,40.08 L471.11,39.17 L472.80,38.27 L474.48,37.38 L476.16,36.50 L477.84,35.64 L479.52,34.79 L481.20,33.96 L482.89,33.16 L484.57,32.38 L486.25,31.63 L487.93,30.92 L489.61,30.24 L491.29,29.61 L492.98,29.02 L494.66,28.48 L496.34,27.98 L498.02,27.53 L499.70,27.13 L501.38,26.77 L503.07,26.46 L504.75,26.20 L506.43,25.99 L508.11,25.83 L509.79,25.72 L511.47,25.65 L513.16,25.63 L514.84,25.64 L516.52,25.67 L518.20,25.73" stroke="#ff0000" stroke-width="0.9"/>
<path d="M334.90,125.33 L336.58,124.16 L338.26,122.99 L339.94,121.82 L341.63,120.66 L343.31,119.50 L344.99,118.34 L346.67,117.18 L348.35,116.03 L350.03,114.88 L351.72,113.73 L353.40,112.59 L355.08,111.45 L356.76,110.31 L358.44,109.18 L360.12,108.04 L361.81,106.92 L363.49,105.79 L365.17,104.67 L366.85,103.55 L368.53,102.43 L370.21,101.32 L371.90,100.21 L373.58,99.10 L375.26,97.99 L376.94,96.89 L378.62,95.79 L380.30,94.70 L381.99,93.60 L383.67,92.51 L385.35,91.43 L387.03,90.34 L388.71,89.26 L390.39,88.18 L392.08,87.11 L393.76,86.04 L395.44,84.97 L397.12,83.90 L398.80,82.84 L400.48,81.78 L402.17,80.72 L403.85,79.67 L405.53,78.62 L407.21,77.57 L408.89,76.53 L410.57,75.48 L412.26,74.45 L413.94,73.41 L415.62,72.38 L417.30,71.35 L418.98,70.32 L420.66,69.30 L422.35,68.28 L424.03,67.27 L425.71,66.25 L427.39,65.24 L429.07,64.24 L430.75,63.23 L432.44,62.24 L434.12,61.24 L435.80,60.25 L437.48,59.26 L439.16,58.27 L440.84,57.29 L442.53,56.31 L444.21,55.33 L445.89,54.36 L447.57,53.39 L449.25,52.43 L450.93,51.47 L452.62,50.51 L454.30,49.56 L455.98,48.61 L457.66,47.67 L459.34,46.73 L461.02,45.79 L462.71,44.86 L464.39,43.94 L466.07,43.02 L467.75,42.11 L469.43,41.21 L471.11,40.31 L472.80,39.42 L474.48,38.54 L476.16,37.67 L477.84,36.81 L479.52,35.96 L481.20,35.13 L482.89,34.31 L484.57,33.52 L486.25,32.74 L487.93,32.00 L489.61,31.28 L491.29,30.60 L492.98,29.95 L494.66,29.33 L496.34,28.76 L498.02,28.23 L499.70,27.74 L501.38,27.29 L503.07,26.90 L504.75,26.57 L506.43,26.29 L508.11,26.08 L509.79,25.93 L511.47,25.84 L513.16,25.80 L514.84,25.80 L516.52,25.84 L518.20,25.90" stroke="#ff0000" stroke-width="0.9"/>
<path d="M334.90,125.32 L336.58,124.16 L338.26,122.99 L339.94,121.83 L341.63,120.67 L343.31,119.52 L344.99,118.37 L346.67,117.22 L348.35,116.07 L350.03,114.93 L351.72,113.79 L353.40,112.66 L355.08,111.52 L356.76,110.39 L358.44,109.27 L360.12,108.14 L361.81,107.02 L363.49,105.90 L365.17,104.79 L366.85,103.68 L368.53,102.57 L370.21,101.47 L371.90,100.37 L373.58,99.27 L375.26,98.17 L376.94,97.08 L378.62,95.99 L380.30,94.90 L381.99,93.82 L383.67,92.74 L385.35,91.67 L387.03,90.59 L388.71,89.52 L390.39,88.45 L392.08,87.39 L393.76,86.33 L395.44,85.27 L397.12,84.22 L398.80,83.17 L400.48,82.12 L402.17,81.07 L403.85,80.03 L405.53,78.99 L407.21,77.96 L408.89,76.93 L410.57,75.90 L412.26,74.87 L413.94,73.85 L415.62,72.83 L417.30,71.82 L418.98,70.80 L420.66,69.80 L422.35,68.79 L424.03,67.79 L425.71,66.79 L427.39,65.79 L429.07,64.80 L430.75,63.81 L432.44,62.82 L434.12,61.84 L435.80,60.86 L437.48,59.89 L439.16,58.92 L440.84,57.95 L442.53,56.98 L444.21,56.02 L445.89,55.06 L447.57,54.11 L449.25,53.16 L450.93,52.21 L452.62,51.27 L454.30,50.33 L455.98,49.40 L457.66,48.47 L459.34,47.55 L461.02,46.62 L462.71,45.71 L464.39,44.80 L466.07,43.89 L467.75,42.99 L469.43,42.10 L471.11,41.21 L472.80,40.33 L474.48,39.45 L476.16,38.58 L477.84,37.73 L479.52,36.88 L481.20,36.04 L482.89,35.22 L484.57,34.41 L486.25,33.62 L487.93,32.85 L489.61,32.10 L491.29,31.38 L492.98,30.68 L494.66,30.01 L496.34,29.37 L498.02,28.78 L499.70,28.22 L501.38,27.71 L503.07,27.25 L504.75,26.86 L506.43,26.54 L508.11,26.28 L509.79,26.10 L511.47,25.99 L513.16,25.93 L514.84,25.93 L516.52,25.97 L518.20,26.04" stroke="#ff0000" stroke-width="0.9"/>
<path d="M334.90,125.31 L336.58,124.15 L338.26,122.99 L339.94,121.84 L341.63,120.69 L343.31,119.54 L344.99,118.40 L346.67,117.26 L348.35,116.12 L350.03,114.99 L351.72,113.86 L353.40,112.73 L355.08,111.61 L356.76,110.49 L358.44,109.37 L360.12,108.26 L361.81,107.15 L363.49,106.04 L365.17,104.94 L366.85,103.84 L368.53,102.74 L370.21,101.65 L371.90,100.56 L373.58,99.47 L375.26,98.39 L376.94,97.31 L378.62,96.23 L380.30,95.15 L381.99,94.08 L383.67,93.02 L385.35,91.95 L387.03,90.89 L388.71,89.84 L390.39,88.78 L392.08,87.73 L393.76,86.68 L395.44,85.64 L397.12,84.60 L398.80,83.56 L400.48,82.53 L402.17,81.50 L403.85,80.47 L405.53,79.45 L407.21,78.43 L408.89,77.41 L410.57,76.40 L412.26,75.39 L413.94,74.38 L415.62,73.38 L417.30,72.38 L418.98,71.38 L420.66,70.39 L422.35,69.40 L424.03,68.41 L425.71,67.43 L427.39,66.45 L429.07,65.47 L430.75,64.50 L432.44,63.53 L434.12,62.57 L435.80,61.60 L437.48,60.65 L439.16,59.69 L440.84,58.74 L442.53,57.79 L444.21,56.85 L445.89,55.91 L447.57,54.97 L449.25,54.04 L450.93,53.11 L452.62,52.19 L454.30,51.27 L455.98,50.35 L457.66,49.43 L459.34,48.53 L461.02,47.62 L462.71,46.72 L464.39,45.82 L466.07,44.93 L467.75,44.05 L469.43,43.16 L471.11,42.29 L472.80,41.41 L474.48,40.55 L476.16,39.69 L477.84,38.83 L479.52,37.99 L481.20,37.15 L482.89,36.31 L484.57,35.49 L486.25,34.68 L487.93,33.87 L489.61,33.09 L491.29,32.31 L492.98,31.56 L494.66,30.82 L496.34,30.11 L498.02,29.44 L499.70,28.80 L501.38,28.21 L503.07,27.68 L504.75,27.21 L506.43,26.83 L508.11,26.52 L509.79,26.31 L511.47,26.17 L513.16,26.10 L514.84,26.08 L516.52,26.12 L518.20,26.20" stroke="#ff0000" stroke-width="0.9"/>
<path d="M334.90,125.35 L336.58,124.13 L338.26,122.92 L339.94,121.71 L341.63,120.50 L343.31,119.29 L344.99,118.09 L346.67,116.88 L348.35,115.68 L350.03,114.48 L351.72,113.29 L353.40,112.09 L355.08,110.90 L356.76,109.71 L358.44,108.52 L360.12,107.34 L361.81,106.15 L363.49,104.97 L365.17,103.79 L366.85,102.61 L368.53,101.44 L370.21,100.26 L371.90,99.09 L373.58,97.92 L375.26,96.75 L376.94,95.59 L378.62,94.42 L380.30,93.26 L381.99,92.10 L383.67,90.95 L385.35,89.79 L387.03,88.64 L388.71,87.49 L390.39,86.34 L392.08,85.20 L393.76,84.05 L395.44,82.91 L397.12,81.77 L398.80,80.63 L400.48,79.50 L402.17,78.37 L403.85,77.24 L405.53,76.11 L407.21,74.98 L408.89,73.86 L410.57,72.74 L412.26,71.62 L413.94,70.50 L415.62,69.39 L417.30,68.28 L418.98,67.17 L420.66,66.06 L422.35,64.96 L424.03,63.86 L425.71,62.76 L427.39,61.66 L429.07,60.57 L430.75,59.48 L432.44,58.40 L434.12,57.31 L435.80,56.23 L437.48,55.15 L439.16,54.08 L440.84,53.01 L442.53,51.95 L444.21,50.88 L445.89,49.83 L447.57,48.77 L449.25,47.73 L450.93,46.68 L452.62,45.65 L454.30,44.62 L455.98,43.60 L457.66,42.59 L459.34,41.58 L461.02,40.59 L462.71,39.61 L464.39,38.64 L466.07,37.70 L467.75,36.77 L469.43,35.86 L471.11,34.98 L472.80,34.13 L474.48,33.31 L476.16,32.53 L477.84,31.79 L479.52,31.09 L481.20,30.43 L482.89,29.81 L484.57,29.22 L486.25,28.67 L487.93,28.14 L489.61,27.64 L491.29,27.15 L492.98,26.69 L494.66,26.24 L496.34,25.80 L498.02,25.37 L499.70,24.95 L501.38,24.54 L503.07,24.14 L504.75,23.74 L506.43,23.34 L508.11,22.95 L509.79,22.57 L511.47,22.18 L513.16,21.80 L514.84,21.42 L516.52,21.04 L518.20,20.67" stroke="#ff0000" stroke-width="0.97"/>
<path d="M334.90,126.15 L336.58,124.93 L338.26,123.72 L339.94,122.51 L341.63,121.30 L343.31,120.09 L344.99,118.89 L346.67,117.68 L348.35,116.48 L350.03,115.28 L351.72,114.09 L353.40,112.89 L355.08,111.70 L356.76,110.51 L358.44,109.32 L360.12,108.14 L361.81,106.95 L363.49,105.77 L365.17,104.59 L366.85,103.41 L368.53,102.24 L370.21,101.06 L371.90,99.89 L373.58,98.72 L375.26,97.55 L376.94,96.39 L378.62,95.22 L380.30,94.06 L381.99,92.90 L383.67,91.75 L385.35,90.59 L387.03,89.44 L388.71,88.29 L390.39,87.14 L392.08,86.00 L393.76,84.85 L395.44,83.71 L397.12,82.57 L398.80,81.43 L400.48,80.30 L402.17,79.17 L403.85,78.04 L405.53,76.91 L407.21,75.78 L408.89,74.66 L410.57,73.54 L412.26,72.42 L413.94,71.30 L415.62,70.19 L417.30,69.08 L418.98,67.97 L420.66,66.86 L422.35,65.76 L424.03,64.66 L425.71,63.56 L427.39,62.46 L429.07,61.37 L430.75,60.28 L432.44,59.20 L434.12,58.11 L435.80,57.03 L437.48,55.95 L439.16,54.88 L440.84,53.81 L442.53,52.75 L444.21,51.68 L445.89,50.63 L447.57,49.57 L449.25,48.53 L450.93,47.48 L452.62,46.45 L454.30,45.42 L455.98,44.40 L457.66,43.39 L459.34,42.38 L461.02,41.39 L462.71,40.41 L464.39,39.44 L466.07,38.50 L467.75,37.57 L469.43,36.66 L471.11,35.78 L472.80,34.93 L474.48,34.11 L476.16,33.33 L477.84,32.59 L479.52,31.89 L481.20,31.23 L482.89,30.61 L484.57,30.02 L486.25,29.47 L487.93,28.94 L489.61,28.44 L491.29,27.95 L492.98,27.49 L494.66,27.04 L496.34,26.60 L498.02,26.17 L499.70,25.75 L501.38,25.34 L503.07,24.94 L504.75,24.54 L506.43,24.14 L508.11,23.75 L509.79,23.37 L511.47,22.98 L513.16,22.60 L514.84,22.22 L516.52,21.84 L518.20,21.47" stroke="#0000ff" stroke-width="1.02"/>
<path d="M334.90,125.36 L336.58,124.11 L338.26,122.86 L339.94,121.61 L341.63,120.36 L343.31,119.12 L344.99,117.88 L346.67,116.64 L348.35,115.40 L350.03,114.17 L351.72,112.94 L353.40,111.72 L355.08,110.49 L356.76,109.27 L358.44,108.06 L360.12,106.84 L361.81,105.63 L363.49,104.42 L365.17,103.21 L366.85,102.01 L368.53,100.81 L370.21,99.61 L371.90,98.42 L373.58,97.23 L375.26,96.04 L376.94,94.86 L378.62,93.67 L380.30,92.49 L381.99,91.32 L383.67,90.14 L385.35,88.97 L387.03,87.81 L388.71,86.64 L390.39,85.48 L392.08,84.32 L393.76,83.17 L395.44,82.01 L397.12,80.86 L398.80,79.72 L400.48,78.57 L402.17,77.43 L403.85,76.30 L405.53,75.16 L407.21,74.03 L408.89,72.90 L410.57,71.78 L412.26,70.66 L413.94,69.54 L415.62,68.43 L417.30,67.32 L418.98,66.21 L420.66,65.10 L422.35,64.00 L424.03,62.90 L425.71,61.81 L427.39,60.72 L429.07,59.63 L430.75,58.55 L432.44,57.47 L434.12,56.40 L435.80,55.33 L437.48,54.26 L439.16,53.20 L440.84,52.14 L442.53,51.09 L444.21,50.04 L445.89,48.99 L447.57,47.96 L449.25,46.93 L450.93,45.90 L452.62,44.88 L454.30,43.87 L455.98,42.87 L457.66,41.87 L459.34,40.89 L461.02,39.91 L462.71,38.95 L464.39,38.00 L466.07,37.07 L467.75,36.16 L469.43,35.26 L471.11,34.39 L472.80,33.54 L474.48,32.72 L476.16,31.93 L477.84,31.17 L479.52,30.45 L481.20,29.77 L482.89,29.12 L484.57,28.51 L486.25,27.93 L487.93,27.38 L489.61,26.85 L491.29,26.35 L492.98,25.87 L494.66,25.41 L496.34,24.96 L498.02,24.53 L499.70,24.11 L501.38,23.69 L503.07,23.29 L504.75,22.89 L506.43,22.50 L508.11,22.11 L509.79,21.73 L511.47,21.35 L513.16,20.98 L514.84,20.60 L516.52,20.24 L518.20,19.87" stroke="#0000ff" stroke-width="1.02"/>
<path d="M334.90,162.69 L336.58,160.75 L338.26,158.82 L339.94,156.90 L341.63,155.00 L343.31,153.10 L344.99,151.22 L346.67,149.34 L348.35,147.48 L350.03,145.63 L351.72,143.78 L353.40,141.95 L355.08,140.13 L356.76,138.32 L358.44,136.52 L360.12,134.73 L361.81,132.95 L363.49,131.19 L365.17,129.43 L366.85,127.68 L368.53,125.95 L370.21,124.22 L371.90,122.51 L373.58,120.80 L375.26,119.11 L376.94,117.43 L378.62,115.76 L380.30,114.10 L381.99,112.45 L383.67,110.81 L385.35,109.18 L387.03,107.56 L388.71,105.96 L390.39,104.36 L392.08,102.77 L393.76,101.20 L395.44,99.64 L397.12,98.08 L398.80,96.54 L400.48,95.01 L402.17,93.49 L403.85,91.98 L405.53,90.48 L407.21,88.99 L408.89,87.52 L410.57,86.05 L412.26,84.60 L413.94,83.15 L415.62,81.72 L417.30,80.30 L418.98,78.89 L420.66,77.49 L422.35,76.10 L424.03,74.73 L425.71,73.36 L427.39,72.01 L429.07,70.67 L430.75,69.34 L432.44,68.02 L434.12,66.71 L435.80,65.41 L437.48,64.13 L439.16,62.86 L440.84,61.60 L442.53,60.35 L444.21,59.12 L445.89,57.90 L447.57,56.69 L449.25,55.49 L450.93,54.31 L452.62,53.14 L454.30,51.98 L455.98,50.84 L457.66,49.72 L459.34,48.60 L461.02,47.51 L462.71,46.43 L464.39,45.37 L466.07,44.32 L467.75,43.30 L469.43,42.29 L471.11,41.31 L472.80,40.35 L474.48,39.41 L476.16,38.50 L477.84,37.61 L479.52,36.75 L481.20,35.93 L482.89,35.14 L484.57,34.38 L486.25,33.66 L487.93,32.98 L489.61,32.33 L491.29,31.73 L492.98,31.16 L494.66,30.62 L496.34,30.12 L498.02,29.65 L499.70,29.21 L501.38,28.79 L503.07,28.40 L504.75,28.03 L506.43,27.68 L508.11,27.34 L509.79,27.02 L511.47,26.71 L513.16,26.41 L514.84,26.12 L516.52,25.84 L518.20,25.57" stroke="#ff0000" stroke-width="0.97"/>
<path d="M334.90,162.69 L336.58,160.80 L338.26,158.93 L339.94,157.07 L341.63,155.21 L343.31,153.37 L344.99,151.53 L346.67,149.71 L348.35,147.89 L350.03,146.09 L351.72,144.29 L353.40,142.50 L355.08,140.72 L356.76,138.95 L358.44,137.19 L360.12,135.44 L361.81,133.70 L363.49,131.96 L365.17,130.24 L366.85,128.53 L368.53,126.82 L370.21,125.12 L371.90,123.44 L373.58,121.76 L375.26,120.10 L376.94,118.44 L378.62,116.79 L380.30,115.15 L381.99,113.52 L383.67,111.90 L385.35,110.29 L387.03,108.69 L388.71,107.10 L390.39,105.51 L392.08,103.94 L393.76,102.38 L395.44,100.82 L397.12,99.28 L398.80,97.74 L400.48,96.22 L402.17,94.70 L403.85,93.19 L405.53,91.70 L407.21,90.21 L408.89,88.73 L410.57,87.26 L412.26,85.81 L413.94,84.36 L415.62,82.92 L417.30,81.49 L418.98,80.07 L420.66,78.66 L422.35,77.26 L424.03,75.87 L425.71,74.50 L427.39,73.13 L429.07,71.77 L430.75,70.42 L432.44,69.08 L434.12,67.75 L435.80,66.44 L437.48,65.13 L439.16,63.84 L440.84,62.55 L442.53,61.28 L444.21,60.02 L445.89,58.77 L447.57,57.53 L449.25,56.31 L450.93,55.09 L452.62,53.89 L454.30,52.71 L455.98,51.53 L457.66,50.38 L459.34,49.23 L461.02,48.11 L462.71,47.00 L464.39,45.91 L466.07,44.84 L467.75,43.79 L469.43,42.76 L471.11,41.76 L472.80,40.79 L474.48,39.84 L476.16,38.92 L477.84,38.04 L479.52,37.19 L481.20,36.38 L482.89,35.60 L484.57,34.86 L486.25,34.16 L487.93,33.49 L489.61,32.86 L491.29,32.27 L492.98,31.70 L494.66,31.17 L496.34,30.66 L498.02,30.18 L499.70,29.72 L501.38,29.28 L503.07,28.87 L504.75,28.46 L506.43,28.08 L508.11,27.70 L509.79,27.34 L511.47,26.99 L513.16,26.65 L514.84,26.31 L516.52,25.98 L518.20,25.66" stroke="#ff0000" stroke-width="0.97"/>
<path d="M334.90,162.68 L336.58,160.86 L338.26,159.05 L339.94,157.24 L341.63,155.44 L343.31,153.65 L344.99,151.86 L346.67,150.09 L348.35,148.32 L350.03,146.56 L351.72,144.81 L353.40,143.06 L355.08,141.32 L356.76,139.60 L358.44,137.88 L360.12,136.16 L361.81,134.46 L363.49,132.76 L365.17,131.07 L366.85,129.39 L368.53,127.72 L370.21,126.05 L371.90,124.40 L373.58,122.75 L375.26,121.11 L376.94,119.48 L378.62,117.85 L380.30,116.23 L381.99,114.62 L383.67,113.02 L385.35,111.43 L387.03,109.85 L388.71,108.27 L390.39,106.70 L392.08,105.14 L393.76,103.59 L395.44,102.04 L397.12,100.51 L398.80,98.98 L400.48,97.46 L402.17,95.95 L403.85,94.44 L405.53,92.95 L407.21,91.46 L408.89,89.98 L410.57,88.51 L412.26,87.05 L413.94,85.60 L415.62,84.15 L417.30,82.72 L418.98,81.29 L420.66,79.87 L422.35,78.46 L424.03,77.06 L425.71,75.66 L427.39,74.28 L429.07,72.90 L430.75,71.54 L432.44,70.18 L434.12,68.83 L435.80,67.49 L437.48,66.16 L439.16,64.84 L440.84,63.53 L442.53,62.23 L444.21,60.95 L445.89,59.67 L447.57,58.40 L449.25,57.14 L450.93,55.90 L452.62,54.67 L454.30,53.45 L455.98,52.25 L457.66,51.06 L459.34,49.88 L461.02,48.73 L462.71,47.59 L464.39,46.47 L466.07,45.37 L467.75,44.30 L469.43,43.25 L471.11,42.23 L472.80,41.24 L474.48,40.28 L476.16,39.37 L477.84,38.49 L479.52,37.64 L481.20,36.84 L482.89,36.08 L484.57,35.36 L486.25,34.68 L487.93,34.03 L489.61,33.41 L491.29,32.82 L492.98,32.26 L494.66,31.73 L496.34,31.21 L498.02,30.72 L499.70,30.25 L501.38,29.79 L503.07,29.34 L504.75,28.91 L506.43,28.49 L508.11,28.08 L509.79,27.67 L511.47,27.28 L513.16,26.89 L514.84,26.50 L516.52,26.12 L518.20,25.75" stroke="#ff0000" stroke-width="0.97"/>
<path d="M334.90,162.68 L336.58,160.92 L338.26,159.16 L339.94,157.40 L341.63,155.65 L343.31,153.91 L344.99,152.18 L346.67,150.45 L348.35,148.73 L350.03,147.02 L351.72,145.31 L353.40,143.61 L355.08,141.91 L356.76,140.22 L358.44,138.54 L360.12,136.87 L361.81,135.20 L363.49,133.54 L365.17,131.88 L366.85,130.23 L368.53,128.59 L370.21,126.96 L371.90,125.33 L373.58,123.71 L375.26,122.09 L376.94,120.48 L378.62,118.88 L380.30,117.29 L381.99,115.70 L383.67,114.11 L385.35,112.54 L387.03,110.97 L388.71,109.41 L390.39,107.85 L392.08,106.31 L393.76,104.76 L395.44,103.23 L397.12,101.70 L398.80,100.18 L400.48,98.67 L402.17,97.16 L403.85,95.66 L405.53,94.17 L407.21,92.68 L408.89,91.20 L410.57,89.73 L412.26,88.26 L413.94,86.80 L415.62,85.35 L417.30,83.91 L418.98,82.47 L420.66,81.04 L422.35,79.62 L424.03,78.20 L425.71,76.80 L427.39,75.40 L429.07,74.00 L430.75,72.62 L432.44,71.24 L434.12,69.88 L435.80,68.52 L437.48,67.16 L439.16,65.82 L440.84,64.49 L442.53,63.16 L444.21,61.85 L445.89,60.54 L447.57,59.24 L449.25,57.96 L450.93,56.69 L452.62,55.42 L454.30,54.17 L455.98,52.94 L457.66,51.72 L459.34,50.51 L461.02,49.33 L462.71,48.16 L464.39,47.01 L466.07,45.88 L467.75,44.79 L469.43,43.72 L471.11,42.68 L472.80,41.68 L474.48,40.72 L476.16,39.80 L477.84,38.92 L479.52,38.08 L481.20,37.29 L482.89,36.55 L484.57,35.84 L486.25,35.18 L487.93,34.54 L489.61,33.94 L491.29,33.36 L492.98,32.81 L494.66,32.27 L496.34,31.75 L498.02,31.25 L499.70,30.76 L501.38,30.28 L503.07,29.81 L504.75,29.35 L506.43,28.89 L508.11,28.44 L509.79,28.00 L511.47,27.56 L513.16,27.12 L514.84,26.69 L516.52,26.26 L518.20,25.84" stroke="#ff0000" stroke-width="0.97"/>
<path d="M334.90,162.67 L336.58,160.95 L338.26,159.25 L339.94,157.55 L341.63,155.85 L343.31,154.17 L344.99,152.49 L346.67,150.82 L348.35,149.15 L350.03,147.50 L351.72,145.85 L353.40,144.20 L355.08,142.57 L356.76,140.94 L358.44,139.32 L360.12,137.70 L361.81,136.09 L363.49,134.49 L365.17,132.90 L366.85,131.31 L368.53,129.73 L370.21,128.16 L371.90,126.59 L373.58,125.04 L375.26,123.48 L376.94,121.94 L378.62,120.40 L380.30,118.87 L381.99,117.35 L383.67,115.83 L385.35,114.33 L387.03,112.82 L388.71,111.33 L390.39,109.84 L392.08,108.36 L393.76,106.89 L395.44,105.43 L397.12,103.97 L398.80,102.52 L400.48,101.07 L402.17,99.64 L403.85,98.21 L405.53,96.78 L407.21,95.37 L408.89,93.96 L410.57,92.56 L412.26,91.17 L413.94,89.78 L415.62,88.40 L417.30,87.03 L418.98,85.67 L420.66,84.31 L422.35,82.96 L424.03,81.62 L425.71,80.29 L427.39,78.96 L429.07,77.65 L430.75,76.33 L432.44,75.03 L434.12,73.74 L435.80,72.45 L437.48,71.17 L439.16,69.90 L440.84,68.64 L442.53,67.38 L444.21,66.13 L445.89,64.90 L447.57,63.67 L449.25,62.45 L450.93,61.23 L452.62,60.03 L454.30,58.84 L455.98,57.65 L457.66,56.48 L459.34,55.31 L461.02,54.16 L462.71,53.02 L464.39,51.89 L466.07,50.77 L467.75,49.66 L469.43,48.57 L471.11,47.49 L472.80,46.43 L474.48,45.39 L476.16,44.36 L477.84,43.35 L479.52,42.37 L481.20,41.40 L482.89,40.47 L484.57,39.56 L486.25,38.68 L487.93,37.83 L489.61,37.01 L491.29,36.23 L492.98,35.49 L494.66,34.78 L496.34,34.10 L498.02,33.46 L499.70,32.84 L501.38,32.25 L503.07,31.69 L504.75,31.15 L506.43,30.63 L508.11,30.13 L509.79,29.64 L511.47,29.16 L513.16,28.70 L514.84,28.24 L516.52,27.80 L518.20,27.36" stroke="#ff0000" stroke-width="0.97"/>
<path d="M334.90,162.66 L336.58,160.94 L338.26,159.23 L339.94,157.52 L341.63,155.82 L343.31,154.12 L344.99,152.43 L346.67,150.75 L348.35,149.07 L350.03,147.40 L351.72,145.73 L353.40,144.07 L355.08,142.42 L356.76,140.77 L358.44,139.13 L360.12,137.49 L361.81,135.86 L363.49,134.24 L365.17,132.62 L366.85,131.01 L368.53,129.40 L370.21,127.80 L371.90,126.21 L373.58,124.62 L375.26,123.04 L376.94,121.47 L378.62,119.90 L380.30,118.33 L381.99,116.78 L383.67,115.23 L385.35,113.68 L387.03,112.14 L388.71,110.61 L390.39,109.08 L392.08,107.56 L393.76,106.05 L395.44,104.54 L397.12,103.04 L398.80,101.55 L400.48,100.06 L402.17,98.57 L403.85,97.10 L405.53,95.63 L407.21,94.16 L408.89,92.71 L410.57,91.25 L412.26,89.81 L413.94,88.37 L415.62,86.94 L417.30,85.51 L418.98,84.10 L420.66,82.68 L422.35,81.28 L424.03,79.88 L425.71,78.49 L427.39,77.10 L429.07,75.72 L430.75,74.35 L432.44,72.99 L434.12,71.63 L435.80,70.28 L437.48,68.94 L439.16,67.61 L440.84,66.28 L442.53,64.97 L444.21,63.66 L445.89,62.35 L447.57,61.06 L449.25,59.78 L450.93,58.51 L452.62,57.25 L454.30,56.00 L455.98,54.76 L457.66,53.53 L459.34,52.32 L461.02,51.12 L462.71,49.94 L464.39,48.78 L466.07,47.63 L467.75,46.51 L469.43,45.42 L471.11,44.35 L472.80,43.32 L474.48,42.32 L476.16,41.35 L477.84,40.43 L479.52,39.55 L481.20,38.71 L482.89,37.92 L484.57,37.16 L486.25,36.45 L487.93,35.77 L489.61,35.11 L491.29,34.49 L492.98,33.89 L494.66,33.31 L496.34,32.75 L498.02,32.20 L499.70,31.66 L501.38,31.14 L503.07,30.62 L504.75,30.11 L506.43,29.61 L508.11,29.12 L509.79,28.63 L511.47,28.14 L513.16,27.66 L514.84,27.18 L516.52,26.71 L518.20,26.24" stroke="#0000ff" stroke-width="1.02"/>
<path d="M334.90,162.64 L336.58,160.95 L338.26,159.28 L339.94,157.61 L341.63,155.95 L343.31,154.30 L344.99,152.65 L346.67,151.01 L348.35,149.38 L350.03,147.75 L351.72,146.13 L353.40,144.52 L355.08,142.91 L356.76,141.31 L358.44,139.72 L360.12,138.14 L361.81,136.56 L363.49,134.99 L365.17,133.43 L366.85,131.87 L368.53,130.32 L370.21,128.78 L371.90,127.24 L373.58,125.71 L375.26,124.19 L376.94,122.68 L378.62,121.17 L380.30,119.67 L381.99,118.18 L383.67,116.69 L385.35,115.21 L387.03,113.74 L388.71,112.27 L390.39,110.81 L392.08,109.36 L393.76,107.92 L395.44,106.48 L397.12,105.05 L398.80,103.63 L400.48,102.21 L402.17,100.80 L403.85,99.40 L405.53,98.01 L407.21,96.62 L408.89,95.24 L410.57,93.86 L412.26,92.50 L413.94,91.14 L415.62,89.79 L417.30,88.44 L418.98,87.10 L420.66,85.77 L422.35,84.45 L424.03,83.13 L425.71,81.82 L427.39,80.52 L429.07,79.23 L430.75,77.94 L432.44,76.66 L434.12,75.39 L435.80,74.12 L437.48,72.86 L439.16,71.61 L440.84,70.37 L442.53,69.13 L444.21,67.91 L445.89,66.68 L447.57,65.47 L449.25,64.27 L450.93,63.07 L452.62,61.88 L454.30,60.70 L455.98,59.52 L457.66,58.36 L459.34,57.20 L461.02,56.05 L462.71,54.91 L464.39,53.78 L466.07,52.66 L467.75,51.54 L469.43,50.44 L471.11,49.34 L472.80,48.26 L474.48,47.18 L476.16,46.12 L477.84,45.06 L479.52,44.02 L481.20,42.99 L482.89,41.98 L484.57,40.98 L486.25,39.99 L487.93,39.03 L489.61,38.08 L491.29,37.15 L492.98,36.25 L494.66,35.38 L496.34,34.53 L498.02,33.72 L499.70,32.96 L501.38,32.23 L503.07,31.56 L504.75,30.94 L506.43,30.37 L508.11,29.86 L509.79,29.40 L511.47,29.00 L513.16,28.64 L514.84,28.33 L516.52,28.05 L518.20,27.80" stroke="#0000ff" stroke-width="1.02"/>
<path d="M334.90,162.59 L336.58,160.90 L338.26,159.22 L339.94,157.55 L341.63,155.89 L343.31,154.23 L344.99,152.58 L346.67,150.94 L348.35,149.30 L350.03,147.68 L351.72,146.06 L353.40,144.45 L355.08,142.84 L356.76,141.25 L358.44,139.66 L360.12,138.07 L361.81,136.50 L363.49,134.93 L365.17,133.37 L366.85,131.82 L368.53,130.28 L370.21,128.74 L371.90,127.21 L373.58,125.69 L375.26,124.17 L376.94,122.67 L378.62,121.17 L380.30,119.67 L381.99,118.19 L383.67,116.71 L385.35,115.24 L387.03,113.78 L388.71,112.32 L390.39,110.88 L392.08,109.44 L393.76,108.00 L395.44,106.58 L397.12,105.16 L398.80,103.75 L400.48,102.35 L402.17,100.95 L403.85,99.57 L405.53,98.19 L407.21,96.81 L408.89,95.45 L410.57,94.09 L412.26,92.74 L413.94,91.40 L415.62,90.07 L417.30,88.74 L418.98,87.42 L420.66,86.11 L422.35,84.80 L424.03,83.51 L425.71,82.22 L427.39,80.93 L429.07,79.66 L430.75,78.39 L432.44,77.13 L434.12,75.88 L435.80,74.64 L437.48,73.40 L439.16,72.18 L440.84,70.96 L442.53,69.74 L444.21,68.54 L445.89,67.34 L447.57,66.15 L449.25,64.97 L450.93,63.80 L452.62,62.63 L454.30,61.47 L455.98,60.33 L457.66,59.18 L459.34,58.05 L461.02,56.93 L462.71,55.81 L464.39,54.70 L466.07,53.60 L467.75,52.51 L469.43,51.43 L471.11,50.35 L472.80,49.29 L474.48,48.23 L476.16,47.19 L477.84,46.15 L479.52,45.13 L481.20,44.11 L482.89,43.11 L484.57,42.12 L486.25,41.14 L487.93,40.18 L489.61,39.22 L491.29,38.29 L492.98,37.37 L494.66,36.47 L496.34,35.60 L498.02,34.74 L499.70,33.92 L501.38,33.12 L503.07,32.36 L504.75,31.63 L506.43,30.95 L508.11,30.32 L509.79,29.73 L511.47,29.21 L513.16,28.76 L514.84,28.40 L516.52,28.13 L518.20,27.95" stroke="#0000ff" stroke-width="1.02"/>
<path d="M334.90,162.54 L336.58,160.85 L338.26,159.16 L339.94,157.49 L341.63,155.82 L343.31,154.16 L344.99,152.51 L346.67,150.87 L348.35,149.23 L350.03,147.61 L351.72,145.99 L353.40,144.38 L355.08,142.77 L356.76,141.18 L358.44,139.59 L360.12,138.01 L361.81,136.44 L363.49,134.88 L365.17,133.32 L366.85,131.77 L368.53,130.23 L370.21,128.70 L371.90,127.18 L373.58,125.66 L375.26,124.15 L376.94,122.65 L378.62,121.16 L380.30,119.68 L381.99,118.20 L383.67,116.73 L385.35,115.27 L387.03,113.82 L388.71,112.38 L390.39,110.94 L392.08,109.51 L393.76,108.09 L395.44,106.68 L397.12,105.27 L398.80,103.88 L400.48,102.49 L402.17,101.11 L403.85,99.73 L405.53,98.37 L407.21,97.01 L408.89,95.66 L410.57,94.32 L412.26,92.99 L413.94,91.66 L415.62,90.35 L417.30,89.04 L418.98,87.73 L420.66,86.44 L422.35,85.16 L424.03,83.88 L425.71,82.61 L427.39,81.35 L429.07,80.09 L430.75,78.85 L432.44,77.61 L434.12,76.38 L435.80,75.16 L437.48,73.95 L439.16,72.74 L440.84,71.54 L442.53,70.35 L444.21,69.17 L445.89,68.00 L447.57,66.83 L449.25,65.68 L450.93,64.53 L452.62,63.39 L454.30,62.25 L455.98,61.13 L457.66,60.01 L459.34,58.90 L461.02,57.80 L462.71,56.71 L464.39,55.62 L466.07,54.55 L467.75,53.48 L469.43,52.42 L471.11,51.37 L472.80,50.32 L474.48,49.29 L476.16,48.26 L477.84,47.25 L479.52,46.24 L481.20,45.24 L482.89,44.24 L484.57,43.26 L486.25,42.29 L487.93,41.33 L489.61,40.37 L491.29,39.43 L492.98,38.49 L494.66,37.57 L496.34,36.66 L498.02,35.76 L499.70,34.88 L501.38,34.01 L503.07,33.16 L504.75,32.33 L506.43,31.53 L508.11,30.77 L509.79,30.06 L511.47,29.42 L513.16,28.89 L514.84,28.48 L516.52,28.22 L518.20,28.10" stroke="#0000ff" stroke-width="1.02"/>
<path d="M334.90,200.04 L336.58,197.98 L338.26,195.92 L339.94,193.87 L341.63,191.82 L343.31,189.79 L344.99,187.76 L346.67,185.73 L348.35,183.71 L350.03,181.70 L351.72,179.70 L353.40,177.70 L355.08,175.72 L356.76,173.73 L358.44,171.76 L360.12,169.79 L361.81,167.83 L363.49,165.87 L365.17,163.92 L366.85,161.98 L368.53,160.05 L370.21,158.12 L371.90,156.20 L373.58,154.28 L375.26,152.38 L376.94,150.48 L378.62,148.58 L380.30,146.70 L381.99,144.82 L383.67,142.94 L385.35,141.08 L387.03,139.22 L388.71,137.37 L390.39,135.52 L392.08,133.69 L393.76,131.86 L395.44,130.03 L397.12,128.22 L398.80,126.41 L400.48,124.61 L402.17,122.81 L403.85,121.02 L405.53,119.24 L407.21,117.47 L408.89,115.70 L410.57,113.94 L412.26,112.19 L413.94,110.45 L415.62,108.71 L417.30,106.98 L418.98,105.26 L420.66,103.54 L422.35,101.84 L424.03,100.14 L425.71,98.45 L427.39,96.76 L429.07,95.09 L430.75,93.42 L432.44,91.76 L434.12,90.11 L435.80,88.47 L437.48,86.83 L439.16,85.21 L440.84,83.59 L442.53,81.99 L444.21,80.39 L445.89,78.80 L447.57,77.23 L449.25,75.66 L450.93,74.11 L452.62,72.56 L454.30,71.03 L455.98,69.52 L457.66,68.02 L459.34,66.53 L461.02,65.07 L462.71,63.62 L464.39,62.20 L466.07,60.80 L467.75,59.42 L469.43,58.09 L471.11,56.79 L472.80,55.53 L474.48,54.33 L476.16,53.18 L477.84,52.11 L479.52,51.12 L481.20,50.21 L482.89,49.40 L484.57,48.67 L486.25,48.05 L487.93,47.50 L489.61,47.04 L491.29,46.65 L492.98,46.31 L494.66,46.03 L496.34,45.78 L498.02,45.57 L499.70,45.39 L501.38,45.23 L503.07,45.09 L504.75,44.97 L506.43,44.86 L508.11,44.77 L509.79,44.68 L511.47,44.60 L513.16,44.54 L514.84,44.47 L516.52,44.41 L518.20,44.36" stroke="#0000ff" stroke-width="1.95"/>
</g>
<path d="M507.70,48.10 L476.70,111.90" stroke="#222" stroke-width="0.95"/>
<circle cx="507.3" cy="33.9" r="14.2" fill="none" stroke="#1a1a1a" stroke-width="0.9"/>
<circle cx="472.5" cy="160" r="48" fill="#fff" stroke="#000" stroke-width="1.25"/>
<clipPath id="cb"><circle cx="472.5" cy="160" r="47.5"/></clipPath>
<g fill="none" clip-path="url(#cb)">
<path d="M426.00,133.70 L428.28,132.50 L430.55,131.33 L432.83,130.19 L435.10,129.07 L437.38,127.97 L439.66,126.89 L441.93,125.82 L444.21,124.76 L446.48,123.70 L448.76,122.65 L451.03,121.61 L453.31,120.59 L455.59,119.59 L457.86,118.64 L460.14,117.72 L462.41,116.86 L464.69,116.05 L466.97,115.31 L469.24,114.65 L471.52,114.05 L473.79,113.52 L476.07,113.04 L478.34,112.59 L480.62,112.18 L482.90,111.79 L485.17,111.40 L487.45,111.02 L489.72,110.62 L492.00,110.20" stroke="#4a4a4a" stroke-width="0.5"/>
<path d="M426.00,132.20 L428.28,131.00 L430.55,129.83 L432.83,128.69 L435.10,127.57 L437.38,126.47 L439.66,125.39 L441.93,124.32 L444.21,123.26 L446.48,122.20 L448.76,121.15 L451.03,120.11 L453.31,119.09 L455.59,118.09 L457.86,117.14 L460.14,116.22 L462.41,115.36 L464.69,114.55 L466.97,113.81 L469.24,113.15 L471.52,112.55 L473.79,112.02 L476.07,111.54 L478.34,111.09 L480.62,110.68 L482.90,110.29 L485.17,109.90 L487.45,109.52 L489.72,109.12 L492.00,108.70" stroke="#4a4a4a" stroke-width="0.5"/>
<path d="M426.00,130.70 L428.28,129.50 L430.55,128.33 L432.83,127.19 L435.10,126.07 L437.38,124.97 L439.66,123.89 L441.93,122.82 L444.21,121.76 L446.48,120.70 L448.76,119.65 L451.03,118.61 L453.31,117.59 L455.59,116.59 L457.86,115.64 L460.14,114.72 L462.41,113.86 L464.69,113.05 L466.97,112.31 L469.24,111.65 L471.52,111.05 L473.79,110.52 L476.07,110.04 L478.34,109.59 L480.62,109.18 L482.90,108.79 L485.17,108.40 L487.45,108.02 L489.72,107.62 L492.00,107.20" stroke="#4a4a4a" stroke-width="0.5"/>
<path d="M426.00,129.20 L428.28,128.00 L430.55,126.83 L432.83,125.69 L435.10,124.57 L437.38,123.47 L439.66,122.39 L441.93,121.32 L444.21,120.26 L446.48,119.20 L448.76,118.15 L451.03,117.11 L453.31,116.09 L455.59,115.09 L457.86,114.14 L460.14,113.22 L462.41,112.36 L464.69,111.55 L466.97,110.81 L469.24,110.15 L471.52,109.55 L473.79,109.02 L476.07,108.54 L478.34,108.09 L480.62,107.68 L482.90,107.29 L485.17,106.90 L487.45,106.52 L489.72,106.12 L492.00,105.70" stroke="#4a4a4a" stroke-width="0.5"/>
<path d="M426.00,127.70 L428.28,126.50 L430.55,125.33 L432.83,124.19 L435.10,123.07 L437.38,121.97 L439.66,120.89 L441.93,119.82 L444.21,118.76 L446.48,117.70 L448.76,116.65 L451.03,115.61 L453.31,114.59 L455.59,113.59 L457.86,112.64 L460.14,111.72 L462.41,110.86 L464.69,110.05 L466.97,109.31 L469.24,108.65 L471.52,108.05 L473.79,107.52 L476.07,107.04 L478.34,106.59 L480.62,106.18 L482.90,105.79 L485.17,105.40 L487.45,105.02 L489.72,104.62 L492.00,104.20" stroke="#4a4a4a" stroke-width="0.5"/>
<path d="M426.00,126.20 L428.28,125.00 L430.55,123.83 L432.83,122.69 L435.10,121.57 L437.38,120.47 L439.66,119.39 L441.93,118.32 L444.21,117.26 L446.48,116.20 L448.76,115.15 L451.03,114.11 L453.31,113.09 L455.59,112.09 L457.86,111.14 L460.14,110.22 L462.41,109.36 L464.69,108.55 L466.97,107.81 L469.24,107.15 L471.52,106.55 L473.79,106.02 L476.07,105.54 L478.34,105.09 L480.62,104.68 L482.90,104.29 L485.17,103.90 L487.45,103.52 L489.72,103.12 L492.00,102.70" stroke="#4a4a4a" stroke-width="0.5"/>
<path d="M426.00,135.40 L428.28,134.20 L430.55,133.03 L432.83,131.89 L435.10,130.77 L437.38,129.67 L439.66,128.59 L441.93,127.52 L444.21,126.46 L446.48,125.40 L448.76,124.35 L451.03,123.31 L453.31,122.29 L455.59,121.29 L457.86,120.34 L460.14,119.42 L462.41,118.56 L464.69,117.75 L466.97,117.01 L469.24,116.35 L471.52,115.75 L473.79,115.22 L476.07,114.74 L478.34,114.29 L480.62,113.88 L482.90,113.49 L485.17,113.10 L487.45,112.72 L489.72,112.32 L492.00,111.90" stroke="#0000ff" stroke-width="1.0"/>
<path d="M426.00,136.00 L428.28,134.93 L430.55,133.89 L432.83,132.88 L435.10,131.89 L437.38,130.92 L439.66,129.98 L441.93,129.07 L444.21,128.18 L446.48,127.32 L448.76,126.48 L451.03,125.66 L453.31,124.86 L455.59,124.07 L457.86,123.29 L460.14,122.53 L462.41,121.76 L464.69,121.01 L466.97,120.25 L469.24,119.48 L471.52,118.72 L473.79,117.95 L476.07,117.19 L478.34,116.43 L480.62,115.69 L482.90,114.95 L485.17,114.23 L487.45,113.53 L489.72,112.85 L492.00,112.20" stroke="#ff0000" stroke-width="2.0"/>
<path d="M426.00,136.80 L428.28,135.80 L430.55,134.83 L432.83,133.87 L435.10,132.94 L437.38,132.04 L439.66,131.17 L441.93,130.34 L444.21,129.54 L446.48,128.78 L448.76,128.05 L451.03,127.36 L453.31,126.68 L455.59,126.03 L457.86,125.39 L460.14,124.75 L462.41,124.10 L464.69,123.43 L466.97,122.73 L469.24,121.99 L471.52,121.20 L473.79,120.39 L476.07,119.55 L478.34,118.69 L480.62,117.83 L482.90,116.98 L485.17,116.14 L487.45,115.32 L489.72,114.54 L492.00,113.80" stroke="#0000ff" stroke-width="0.9"/>
<path d="M430.7,131.8 Q475.9,126.6 509.0,133.2" stroke="#ff0000" stroke-width="0.75"/>
<path d="M429.3,133.9 Q475.1,128.0 509.0,133.3" stroke="#ff0000" stroke-width="0.75"/>
<path d="M427.8,136.3 Q474.4,129.5 509.0,133.4" stroke="#ff0000" stroke-width="0.75"/>
<path d="M426.5,138.7 Q473.8,130.9 509.0,133.5" stroke="#ff0000" stroke-width="0.75"/>
<path d="M425.3,141.3 Q473.2,132.5 509.0,133.6" stroke="#ff0000" stroke-width="0.75"/>
<path d="M424.3,144.0 Q472.6,134.2 509.0,133.8" stroke="#ff0000" stroke-width="0.75"/>
<path d="M423.4,146.9 Q472.2,135.9 509.0,133.9" stroke="#ff0000" stroke-width="0.75"/>
<path d="M422.6,149.9 Q471.8,137.7 509.0,134.0" stroke="#ff0000" stroke-width="0.75"/>
<path d="M422.0,153.1 Q471.5,139.6 509.0,134.1" stroke="#ff0000" stroke-width="0.75"/>
<path d="M423.0,156.9 Q466.0,139.9 509.0,134.4" stroke="#0000ff" stroke-width="1.0"/>
<path d="M423.0,158.5 Q466.0,141.1 509.0,138.3" stroke="#ff0000" stroke-width="0.9"/>
<path d="M423.0,159.6 Q466.0,142.0 509.0,138.6" stroke="#ff0000" stroke-width="0.9"/>
<path d="M423.0,163.4 Q466.0,146.1 509.0,139.5" stroke="#0000ff" stroke-width="1.0"/>
<path d="M423.0,165.7 Q466.0,147.6 509.0,139.9" stroke="#ff0000" stroke-width="0.8"/>
<path d="M423.0,167.5 Q466.0,148.6 509.0,140.3" stroke="#0000ff" stroke-width="1.0"/>
<path d="M440.0,199.4 Q478.0,193.3 506.0,196.6" stroke="#0000ff" stroke-width="1.8"/>
</g>
<g fill="none">
<path d="M585.90,125.40 L587.58,123.87 L589.26,122.35 L590.94,120.84 L592.63,119.33 L594.31,117.83 L595.99,116.34 L597.67,114.86 L599.35,113.39 L601.03,111.92 L602.72,110.46 L604.40,109.02 L606.08,107.58 L607.76,106.15 L609.44,104.72 L611.12,103.30 L612.81,101.89 L614.49,100.48 L616.17,99.08 L617.85,97.69 L619.53,96.31 L621.21,94.95 L622.90,93.60 L624.58,92.27 L626.26,90.96 L627.94,89.67 L629.62,88.39 L631.30,87.13 L632.99,85.88 L634.67,84.64 L636.35,83.40 L638.03,82.18 L639.71,80.95 L641.39,79.73 L643.08,78.52 L644.76,77.30 L646.44,76.07 L648.12,74.84 L649.80,73.61 L651.48,72.39 L653.17,71.19 L654.85,70.02 L656.53,68.86 L658.21,67.72 L659.89,66.59 L661.57,65.47 L663.26,64.37 L663.26,73.98 L661.57,74.96 L659.89,75.95 L658.21,76.96 L656.53,78.00 L654.85,79.08 L653.17,80.19 L651.48,81.36 L649.80,82.59 L648.12,83.84 L646.44,85.07 L644.76,86.25 L643.08,87.38 L641.39,88.49 L639.71,89.57 L638.03,90.63 L636.35,91.68 L634.67,92.71 L632.99,93.73 L631.30,94.75 L629.62,95.76 L627.94,96.78 L626.26,97.80 L624.58,98.82 L622.90,99.86 L621.21,100.92 L619.53,101.99 L617.85,103.08 L616.17,104.19 L614.49,105.31 L612.81,106.44 L611.12,107.58 L609.44,108.72 L607.76,109.87 L606.08,111.03 L604.40,112.19 L602.72,113.36 L601.03,114.54 L599.35,115.72 L597.67,116.91 L595.99,118.10 L594.31,119.30 L592.63,120.51 L590.94,121.73 L589.26,122.94 L587.58,124.17 L585.90,125.40 Z" fill="#787878" fill-opacity="0.8" stroke="none"/>
<path d="M661.57,65.47 L663.26,64.37 L664.94,63.27 L666.62,62.18 L668.30,61.10 L669.98,60.02 L671.66,58.95 L673.35,57.88 L675.03,56.81 L676.71,55.74 L678.39,54.66 L680.07,53.59 L681.75,52.50 L683.44,51.41 L685.12,50.32 L686.80,49.22 L688.48,48.11 L690.16,47.00 L691.84,45.89 L693.53,44.77 L695.21,43.64 L696.89,42.52 L696.89,52.12 L695.21,53.39 L693.53,54.66 L691.84,55.93 L690.16,57.18 L688.48,58.42 L686.80,59.64 L685.12,60.83 L683.44,61.98 L681.75,63.10 L680.07,64.18 L678.39,65.23 L676.71,66.26 L675.03,67.26 L673.35,68.24 L671.66,69.20 L669.98,70.16 L668.30,71.11 L666.62,72.06 L664.94,73.02 L663.26,73.98 L661.57,74.96 Z" fill="#787878" fill-opacity="0.3" stroke="none"/>
<path d="M585.90,125.40 L587.58,123.74 L589.26,122.09 L590.94,120.45 L592.63,118.82 L594.31,117.20 L595.99,115.59 L597.67,113.98 L599.35,112.39 L601.03,110.80 L602.72,109.22 L604.40,107.66 L606.08,106.10 L607.76,104.55 L609.44,103.01 L611.12,101.47 L612.81,99.94 L614.49,98.41 L616.17,96.89 L617.85,95.38 L619.53,93.88 L621.21,92.39 L622.90,90.92 L624.58,89.47 L626.26,88.03 L627.94,86.62 L629.62,85.23 L631.30,83.86 L632.99,82.51 L634.67,81.18 L636.35,79.86 L638.03,78.55 L639.71,77.26 L641.39,75.98 L643.08,74.72 L644.76,73.46 L646.44,72.21 L648.12,70.98 L649.80,69.76 L651.48,68.54 L653.17,67.33 L654.85,66.13 L656.53,64.94 L658.21,63.76 L659.89,62.58 L661.57,61.41 L663.26,60.25 L664.94,59.09 L666.62,57.95 L668.30,56.81 L669.98,55.68 L671.66,54.55 L673.35,53.44 L675.03,52.33 L676.71,51.23 L678.39,50.13 L680.07,49.04 L681.75,47.96 L683.44,46.89 L685.12,45.81 L686.80,44.75 L688.48,43.69 L690.16,42.63 L691.84,41.58 L693.53,40.53 L695.21,39.47 L696.89,38.40 L698.57,37.34 L700.25,36.30 L701.93,35.29 L703.62,34.34 L705.30,33.44 L706.98,32.61 L708.66,31.84 L710.34,31.12 L712.02,30.43 L713.71,29.77 L715.39,29.13 L717.07,28.51 L718.75,27.90 L720.43,27.29 L722.11,26.68 L723.80,26.07 L725.48,25.45 L727.16,24.82 L728.84,24.19 L730.52,23.56 L732.20,22.93 L733.89,22.32 L735.57,21.72 L737.25,21.15 L738.93,20.59 L740.61,20.07 L742.29,19.56 L743.98,19.06 L745.66,18.55 L747.34,18.03 L749.02,17.54 L750.70,17.08 L752.38,16.68 L754.07,16.37 L755.75,16.16 L757.43,16.05 L759.11,16.01 L760.79,16.00 L762.47,16.00 L764.16,16.00 L765.84,16.00 L767.52,16.00 L769.20,16.00" stroke="#787878" stroke-width="1.0"/>
<path d="M585.90,125.40 L587.58,123.76 L589.26,122.13 L590.94,120.52 L592.63,118.91 L594.31,117.31 L595.99,115.72 L597.67,114.14 L599.35,112.56 L601.03,111.00 L602.72,109.45 L604.40,107.91 L606.08,106.38 L607.76,104.86 L609.44,103.34 L611.12,101.84 L612.81,100.33 L614.49,98.84 L616.17,97.35 L617.85,95.87 L619.53,94.40 L621.21,92.95 L622.90,91.51 L624.58,90.09 L626.26,88.69 L627.94,87.32 L629.62,85.96 L631.30,84.63 L632.99,83.31 L634.67,82.01 L636.35,80.72 L638.03,79.45 L639.71,78.18 L641.39,76.93 L643.08,75.69 L644.76,74.45 L646.44,73.22 L648.12,72.00 L649.80,70.79 L651.48,69.58 L653.17,68.39 L654.85,67.21 L656.53,66.04 L658.21,64.88 L659.89,63.72 L661.57,62.58 L663.26,61.45 L664.94,60.32 L666.62,59.20 L668.30,58.10 L669.98,56.99 L671.66,55.90 L673.35,54.81 L675.03,53.73 L676.71,52.65 L678.39,51.57 L680.07,50.50 L681.75,49.43 L683.44,48.36 L685.12,47.30 L686.80,46.23 L688.48,45.17 L690.16,44.11 L691.84,43.05 L693.53,41.99 L695.21,40.92 L696.89,39.84 L698.57,38.77 L700.25,37.72 L701.93,36.70 L703.62,35.73 L705.30,34.81 L706.98,33.95 L708.66,33.13 L710.34,32.36 L712.02,31.62 L713.71,30.90 L715.39,30.21 L717.07,29.53 L718.75,28.87 L720.43,28.22 L722.11,27.57 L723.80,26.92 L725.48,26.27 L727.16,25.62 L728.84,24.97 L730.52,24.32 L732.20,23.68 L733.89,23.05 L735.57,22.44 L737.25,21.85 L738.93,21.28 L740.61,20.74 L742.29,20.21 L743.98,19.70 L745.66,19.17 L747.34,18.65 L749.02,18.15 L750.70,17.68 L752.38,17.26 L754.07,16.93 L755.75,16.70 L757.43,16.55 L759.11,16.48 L760.79,16.43 L762.47,16.40 L764.16,16.38 L765.84,16.36 L767.52,16.34 L769.20,16.32" stroke="#787878" stroke-width="1.0"/>
<path d="M585.90,125.40 L587.58,123.83 L589.26,122.26 L590.94,120.71 L592.63,119.16 L594.31,117.62 L595.99,116.09 L597.67,114.56 L599.35,113.05 L601.03,111.54 L602.72,110.04 L604.40,108.55 L606.08,107.06 L607.76,105.59 L609.44,104.12 L611.12,102.65 L612.81,101.19 L614.49,99.74 L616.17,98.29 L617.85,96.85 L619.53,95.42 L621.21,94.01 L622.90,92.61 L624.58,91.23 L626.26,89.86 L627.94,88.52 L629.62,87.19 L631.30,85.88 L632.99,84.58 L634.67,83.30 L636.35,82.03 L638.03,80.76 L639.71,79.50 L641.39,78.25 L643.08,77.00 L644.76,75.76 L646.44,74.52 L648.12,73.27 L649.80,72.04 L651.48,70.81 L653.17,69.60 L654.85,68.41 L656.53,67.23 L658.21,66.06 L659.89,64.90 L661.57,63.75 L663.26,62.61 L664.94,61.48 L666.62,60.36 L668.30,59.24 L669.98,58.13 L671.66,57.03 L673.35,55.92 L675.03,54.83 L676.71,53.73 L678.39,52.64 L680.07,51.54 L681.75,50.45 L683.44,49.36 L685.12,48.26 L686.80,47.17 L688.48,46.07 L690.16,44.98 L691.84,43.88 L693.53,42.78 L695.21,41.68 L696.89,40.57 L698.57,39.47 L700.25,38.38 L701.93,37.33 L703.62,36.33 L705.30,35.37 L706.98,34.47 L708.66,33.62 L710.34,32.81 L712.02,32.02 L713.71,31.27 L715.39,30.54 L717.07,29.83 L718.75,29.14 L720.43,28.46 L722.11,27.80 L723.80,27.13 L725.48,26.48 L727.16,25.82 L728.84,25.16 L730.52,24.51 L732.20,23.87 L733.89,23.25 L735.57,22.64 L737.25,22.05 L738.93,21.49 L740.61,20.95 L742.29,20.44 L743.98,19.93 L745.66,19.43 L747.34,18.92 L749.02,18.44 L750.70,17.98 L752.38,17.59 L754.07,17.27 L755.75,17.04 L757.43,16.90 L759.11,16.82 L760.79,16.77 L762.47,16.73 L764.16,16.70 L765.84,16.66 L767.52,16.64 L769.20,16.61" stroke="#787878" stroke-width="1.0"/>
<path d="M585.90,125.40 L587.58,123.82 L589.26,122.25 L590.94,120.70 L592.63,119.15 L594.31,117.61 L595.99,116.08 L597.67,114.56 L599.35,113.05 L601.03,111.55 L602.72,110.05 L604.40,108.57 L606.08,107.10 L607.76,105.63 L609.44,104.18 L611.12,102.73 L612.81,101.28 L614.49,99.85 L616.17,98.42 L617.85,97.00 L619.53,95.59 L621.21,94.20 L622.90,92.82 L624.58,91.47 L626.26,90.13 L627.94,88.81 L629.62,87.52 L631.30,86.23 L632.99,84.97 L634.67,83.71 L636.35,82.47 L638.03,81.24 L639.71,80.01 L641.39,78.78 L643.08,77.57 L644.76,76.35 L646.44,75.13 L648.12,73.91 L649.80,72.69 L651.48,71.49 L653.17,70.30 L654.85,69.14 L656.53,67.99 L658.21,66.85 L659.89,65.72 L661.57,64.61 L663.26,63.50 L664.94,62.41 L666.62,61.32 L668.30,60.24 L669.98,59.17 L671.66,58.10 L673.35,57.03 L675.03,55.97 L676.71,54.91 L678.39,53.85 L680.07,52.78 L681.75,51.72 L683.44,50.64 L685.12,49.57 L686.80,48.49 L688.48,47.40 L690.16,46.31 L691.84,45.22 L693.53,44.13 L695.21,43.03 L696.89,41.93 L698.57,40.83 L700.25,39.74 L701.93,38.69 L703.62,37.68 L705.30,36.71 L706.98,35.79 L708.66,34.91 L710.34,34.05 L712.02,33.23 L713.71,32.42 L715.39,31.64 L717.07,30.89 L718.75,30.15 L720.43,29.43 L722.11,28.72 L723.80,28.03 L725.48,27.35 L727.16,26.67 L728.84,25.99 L730.52,25.32 L732.20,24.66 L733.89,24.01 L735.57,23.38 L737.25,22.78 L738.93,22.19 L740.61,21.64 L742.29,21.10 L743.98,20.57 L745.66,20.05 L747.34,19.52 L749.02,19.02 L750.70,18.55 L752.38,18.12 L754.07,17.78 L755.75,17.51 L757.43,17.33 L759.11,17.21 L760.79,17.13 L762.47,17.06 L764.16,17.00 L765.84,16.94 L767.52,16.90 L769.20,16.86" stroke="#787878" stroke-width="1.0"/>
<path d="M585.90,125.40 L587.58,123.87 L589.26,122.35 L590.94,120.84 L592.63,119.33 L594.31,117.83 L595.99,116.34 L597.67,114.86 L599.35,113.39 L601.03,111.92 L602.72,110.47 L604.40,109.02 L606.08,107.58 L607.76,106.15 L609.44,104.73 L611.12,103.31 L612.81,101.89 L614.49,100.49 L616.17,99.09 L617.85,97.70 L619.53,96.32 L621.21,94.96 L622.90,93.61 L624.58,92.28 L626.26,90.97 L627.94,89.67 L629.62,88.40 L631.30,87.13 L632.99,85.88 L634.67,84.64 L636.35,83.41 L638.03,82.18 L639.71,80.96 L641.39,79.74 L643.08,78.52 L644.76,77.30 L646.44,76.07 L648.12,74.84 L649.80,73.61 L651.48,72.39 L653.17,71.19 L654.85,70.02 L656.53,68.86 L658.21,67.72 L659.89,66.59 L661.57,65.47 L663.26,64.37 L664.94,63.27 L666.62,62.18 L668.30,61.10 L669.98,60.02 L671.66,58.95 L673.35,57.88 L675.03,56.81 L676.71,55.74 L678.39,54.66 L680.07,53.58 L681.75,52.50 L683.44,51.41 L685.12,50.31 L686.80,49.21 L688.48,48.10 L690.16,46.99 L691.84,45.88 L693.53,44.76 L695.21,43.64 L696.89,42.51 L698.57,41.39 L700.25,40.28 L701.93,39.21 L703.62,38.17 L705.30,37.18 L706.98,36.23 L708.66,35.32 L710.34,34.43 L712.02,33.58 L713.71,32.75 L715.39,31.94 L717.07,31.15 L718.75,30.39 L720.43,29.65 L722.11,28.93 L723.80,28.23 L725.48,27.53 L727.16,26.85 L728.84,26.17 L730.52,25.49 L732.20,24.83 L733.89,24.19 L735.57,23.56 L737.25,22.96 L738.93,22.38 L740.61,21.82 L742.29,21.29 L743.98,20.77 L745.66,20.26 L747.34,19.75 L749.02,19.25 L750.70,18.79 L752.38,18.38 L754.07,18.04 L755.75,17.78 L757.43,17.60 L759.11,17.47 L760.79,17.38 L762.47,17.31 L764.16,17.24 L765.84,17.17 L767.52,17.12 L769.20,17.08" stroke="#787878" stroke-width="1.0"/>
<path d="M585.90,125.40 L587.58,123.87 L589.26,122.35 L590.94,120.84 L592.63,119.34 L594.31,117.85 L595.99,116.36 L597.67,114.88 L599.35,113.41 L601.03,111.95 L602.72,110.50 L604.40,109.05 L606.08,107.62 L607.76,106.19 L609.44,104.77 L611.12,103.36 L612.81,101.95 L614.49,100.55 L616.17,99.16 L617.85,97.77 L619.53,96.40 L621.21,95.04 L622.90,93.71 L624.58,92.38 L626.26,91.08 L627.94,89.79 L629.62,88.52 L631.30,87.27 L632.99,86.02 L634.67,84.79 L636.35,83.56 L638.03,82.34 L639.71,81.13 L641.39,79.91 L643.08,78.70 L644.76,77.49 L646.44,76.26 L648.12,75.04 L649.80,73.81 L651.48,72.59 L653.17,71.40 L654.85,70.23 L656.53,69.08 L658.21,67.94 L659.89,66.82 L661.57,65.71 L663.26,64.61 L664.94,63.52 L666.62,62.44 L668.30,61.37 L669.98,60.30 L671.66,59.23 L673.35,58.17 L675.03,57.10 L676.71,56.04 L678.39,54.97 L680.07,53.90 L681.75,52.82 L683.44,51.73 L685.12,50.64 L686.80,49.54 L688.48,48.43 L690.16,47.32 L691.84,46.21 L693.53,45.09 L695.21,43.96 L696.89,42.83 L698.57,41.71 L700.25,40.60 L701.93,39.53 L703.62,38.49 L705.30,37.49 L706.98,36.54 L708.66,35.62 L710.34,34.72 L712.02,33.85 L713.71,33.01 L715.39,32.19 L717.07,31.39 L718.75,30.62 L720.43,29.87 L722.11,29.14 L723.80,28.43 L725.48,27.73 L727.16,27.04 L728.84,26.35 L730.52,25.68 L732.20,25.01 L733.89,24.36 L735.57,23.73 L737.25,23.12 L738.93,22.54 L740.61,21.98 L742.29,21.44 L743.98,20.92 L745.66,20.40 L747.34,19.89 L749.02,19.39 L750.70,18.93 L752.38,18.51 L754.07,18.16 L755.75,17.89 L757.43,17.70 L759.11,17.57 L760.79,17.47 L762.47,17.39 L764.16,17.32 L765.84,17.25 L767.52,17.19 L769.20,17.15" stroke="#787878" stroke-width="1.0"/>
<path d="M585.90,125.40 L587.58,123.89 L589.26,122.40 L590.94,120.91 L592.63,119.43 L594.31,117.96 L595.99,116.50 L597.67,115.05 L599.35,113.60 L601.03,112.17 L602.72,110.74 L604.40,109.32 L606.08,107.91 L607.76,106.51 L609.44,105.11 L611.12,103.73 L612.81,102.34 L614.49,100.97 L616.17,99.60 L617.85,98.24 L619.53,96.90 L621.21,95.57 L622.90,94.26 L624.58,92.97 L626.26,91.70 L627.94,90.44 L629.62,89.20 L631.30,87.97 L632.99,86.75 L634.67,85.54 L636.35,84.34 L638.03,83.14 L639.71,81.94 L641.39,80.75 L643.08,79.55 L644.76,78.35 L646.44,77.13 L648.12,75.91 L649.80,74.68 L651.48,73.47 L653.17,72.29 L654.85,71.13 L656.53,69.99 L658.21,68.87 L659.89,67.77 L661.57,66.67 L663.26,65.59 L664.94,64.52 L666.62,63.46 L668.30,62.40 L669.98,61.35 L671.66,60.30 L673.35,59.25 L675.03,58.21 L676.71,57.15 L678.39,56.10 L680.07,55.03 L681.75,53.96 L683.44,52.87 L685.12,51.78 L686.80,50.68 L688.48,49.56 L690.16,48.44 L691.84,47.32 L693.53,46.19 L695.21,45.05 L696.89,43.91 L698.57,42.78 L700.25,41.66 L701.93,40.57 L703.62,39.51 L705.30,38.50 L706.98,37.51 L708.66,36.56 L710.34,35.63 L712.02,34.72 L713.71,33.83 L715.39,32.97 L717.07,32.13 L718.75,31.32 L720.43,30.53 L722.11,29.77 L723.80,29.04 L725.48,28.32 L727.16,27.61 L728.84,26.91 L730.52,26.22 L732.20,25.55 L733.89,24.89 L735.57,24.25 L737.25,23.63 L738.93,23.03 L740.61,22.46 L742.29,21.92 L743.98,21.39 L745.66,20.86 L747.34,20.35 L749.02,19.84 L750.70,19.38 L752.38,18.95 L754.07,18.59 L755.75,18.31 L757.43,18.09 L759.11,17.94 L760.79,17.82 L762.47,17.71 L764.16,17.62 L765.84,17.53 L767.52,17.46 L769.20,17.41" stroke="#787878" stroke-width="1.0"/>
<path d="M585.90,125.40 L587.58,123.93 L589.26,122.46 L590.94,121.01 L592.63,119.56 L594.31,118.12 L595.99,116.68 L597.67,115.26 L599.35,113.84 L601.03,112.43 L602.72,111.03 L604.40,109.63 L606.08,108.25 L607.76,106.87 L609.44,105.50 L611.12,104.13 L612.81,102.77 L614.49,101.42 L616.17,100.07 L617.85,98.74 L619.53,97.42 L621.21,96.11 L622.90,94.82 L624.58,93.55 L626.26,92.29 L627.94,91.05 L629.62,89.83 L631.30,88.61 L632.99,87.41 L634.67,86.21 L636.35,85.02 L638.03,83.83 L639.71,82.64 L641.39,81.44 L643.08,80.25 L644.76,79.05 L646.44,77.83 L648.12,76.60 L649.80,75.36 L651.48,74.14 L653.17,72.95 L654.85,71.79 L656.53,70.65 L658.21,69.53 L659.89,68.42 L661.57,67.33 L663.26,66.25 L664.94,65.18 L666.62,64.12 L668.30,63.07 L669.98,62.01 L671.66,60.96 L673.35,59.91 L675.03,58.86 L676.71,57.81 L678.39,56.74 L680.07,55.67 L681.75,54.59 L683.44,53.49 L685.12,52.39 L686.80,51.27 L688.48,50.14 L690.16,49.01 L691.84,47.87 L693.53,46.72 L695.21,45.57 L696.89,44.41 L698.57,43.26 L700.25,42.13 L701.93,41.02 L703.62,39.95 L705.30,38.91 L706.98,37.91 L708.66,36.93 L710.34,35.98 L712.02,35.04 L713.71,34.13 L715.39,33.25 L717.07,32.39 L718.75,31.56 L720.43,30.76 L722.11,29.98 L723.80,29.24 L725.48,28.51 L727.16,27.80 L728.84,27.09 L730.52,26.40 L732.20,25.72 L733.89,25.06 L735.57,24.42 L737.25,23.80 L738.93,23.21 L740.61,22.64 L742.29,22.10 L743.98,21.57 L745.66,21.05 L747.34,20.54 L749.02,20.05 L750.70,19.58 L752.38,19.17 L754.07,18.81 L755.75,18.52 L757.43,18.31 L759.11,18.15 L760.79,18.02 L762.47,17.91 L764.16,17.81 L765.84,17.71 L767.52,17.64 L769.20,17.57" stroke="#787878" stroke-width="1.0"/>
<path d="M585.90,125.40 L587.58,123.97 L589.26,122.54 L590.94,121.13 L592.63,119.71 L594.31,118.31 L595.99,116.91 L597.67,115.52 L599.35,114.14 L601.03,112.76 L602.72,111.39 L604.40,110.03 L606.08,108.68 L607.76,107.33 L609.44,105.99 L611.12,104.66 L612.81,103.33 L614.49,102.01 L616.17,100.69 L617.85,99.39 L619.53,98.09 L621.21,96.82 L622.90,95.56 L624.58,94.32 L626.26,93.09 L627.94,91.87 L629.62,90.67 L631.30,89.48 L632.99,88.30 L634.67,87.12 L636.35,85.94 L638.03,84.77 L639.71,83.59 L641.39,82.40 L643.08,81.21 L644.76,80.01 L646.44,78.79 L648.12,77.56 L649.80,76.31 L651.48,75.09 L653.17,73.89 L654.85,72.73 L656.53,71.59 L658.21,70.47 L659.89,69.37 L661.57,68.29 L663.26,67.21 L664.94,66.15 L666.62,65.09 L668.30,64.04 L669.98,62.99 L671.66,61.95 L673.35,60.90 L675.03,59.85 L676.71,58.79 L678.39,57.73 L680.07,56.65 L681.75,55.56 L683.44,54.45 L685.12,53.33 L686.80,52.20 L688.48,51.05 L690.16,49.90 L691.84,48.74 L693.53,47.57 L695.21,46.40 L696.89,45.22 L698.57,44.06 L700.25,42.90 L701.93,41.77 L703.62,40.68 L705.30,39.62 L706.98,38.59 L708.66,37.58 L710.34,36.59 L712.02,35.62 L713.71,34.67 L715.39,33.75 L717.07,32.86 L718.75,32.00 L720.43,31.19 L722.11,30.42 L723.80,29.69 L725.48,28.99 L727.16,28.32 L728.84,27.67 L730.52,27.03 L732.20,26.41 L733.89,25.82 L735.57,25.25 L737.25,24.71 L738.93,24.20 L740.61,23.71 L742.29,23.25 L743.98,22.82 L745.66,22.39 L747.34,21.99 L749.02,21.60 L750.70,21.24 L752.38,20.91 L754.07,20.61 L755.75,20.36 L757.43,20.15 L759.11,19.96 L760.79,19.79 L762.47,19.63 L764.16,19.48 L765.84,19.32 L767.52,19.19 L769.20,19.08" stroke="#787878" stroke-width="1.0"/>
<path d="M585.90,125.40 L587.58,124.01 L589.26,122.63 L590.94,121.25 L592.63,119.88 L594.31,118.52 L595.99,117.16 L597.67,115.81 L599.35,114.47 L601.03,113.13 L602.72,111.80 L604.40,110.48 L606.08,109.16 L607.76,107.85 L609.44,106.55 L611.12,105.25 L612.81,103.96 L614.49,102.67 L616.17,101.39 L617.85,100.12 L619.53,98.87 L621.21,97.63 L622.90,96.41 L624.58,95.20 L626.26,94.01 L627.94,92.83 L629.62,91.66 L631.30,90.50 L632.99,89.34 L634.67,88.19 L636.35,87.04 L638.03,85.88 L639.71,84.72 L641.39,83.55 L643.08,82.37 L644.76,81.18 L646.44,79.96 L648.12,78.73 L649.80,77.48 L651.48,76.24 L653.17,75.05 L654.85,73.89 L656.53,72.76 L658.21,71.65 L659.89,70.56 L661.57,69.49 L663.26,68.43 L664.94,67.38 L666.62,66.33 L668.30,65.30 L669.98,64.26 L671.66,63.23 L673.35,62.19 L675.03,61.14 L676.71,60.09 L678.39,59.03 L680.07,57.95 L681.75,56.85 L683.44,55.74 L685.12,54.61 L686.80,53.46 L688.48,52.30 L690.16,51.13 L691.84,49.95 L693.53,48.76 L695.21,47.56 L696.89,46.37 L698.57,45.18 L700.25,44.00 L701.93,42.85 L703.62,41.73 L705.30,40.64 L706.98,39.57 L708.66,38.52 L710.34,37.49 L712.02,36.47 L713.71,35.47 L715.39,34.50 L717.07,33.57 L718.75,32.67 L720.43,31.82 L722.11,31.01 L723.80,30.26 L725.48,29.54 L727.16,28.85 L728.84,28.18 L730.52,27.53 L732.20,26.90 L733.89,26.29 L735.57,25.71 L737.25,25.16 L738.93,24.64 L740.61,24.15 L742.29,23.68 L743.98,23.24 L745.66,22.81 L747.34,22.40 L749.02,22.01 L750.70,21.65 L752.38,21.31 L754.07,21.01 L755.75,20.74 L757.43,20.51 L759.11,20.30 L760.79,20.11 L762.47,19.93 L764.16,19.77 L765.84,19.60 L767.52,19.46 L769.20,19.33" stroke="#787878" stroke-width="1.0"/>
<path d="M585.90,125.40 L587.58,124.04 L589.26,122.68 L590.94,121.34 L592.63,119.99 L594.31,118.65 L595.99,117.32 L597.67,116.00 L599.35,114.68 L601.03,113.37 L602.72,112.06 L604.40,110.76 L606.08,109.47 L607.76,108.19 L609.44,106.91 L611.12,105.63 L612.81,104.36 L614.49,103.10 L616.17,101.84 L617.85,100.60 L619.53,99.37 L621.21,98.15 L622.90,96.95 L624.58,95.77 L626.26,94.60 L627.94,93.44 L629.62,92.29 L631.30,91.15 L632.99,90.01 L634.67,88.87 L636.35,87.73 L638.03,86.59 L639.71,85.44 L641.39,84.28 L643.08,83.11 L644.76,81.92 L646.44,80.70 L648.12,79.46 L649.80,78.20 L651.48,76.97 L653.17,75.77 L654.85,74.62 L656.53,73.49 L658.21,72.39 L659.89,71.30 L661.57,70.23 L663.26,69.18 L664.94,68.13 L666.62,67.10 L668.30,66.07 L669.98,65.04 L671.66,64.01 L673.35,62.98 L675.03,61.93 L676.71,60.88 L678.39,59.82 L680.07,58.74 L681.75,57.64 L683.44,56.52 L685.12,55.38 L686.80,54.22 L688.48,53.05 L690.16,51.86 L691.84,50.67 L693.53,49.47 L695.21,48.26 L696.89,47.05 L698.57,45.84 L700.25,44.66 L701.93,43.49 L703.62,42.36 L705.30,41.25 L706.98,40.16 L708.66,39.08 L710.34,38.02 L712.02,36.97 L713.71,35.94 L715.39,34.94 L717.07,33.98 L718.75,33.05 L720.43,32.18 L722.11,31.36 L723.80,30.59 L725.48,29.86 L727.16,29.15 L728.84,28.47 L730.52,27.82 L732.20,27.18 L733.89,26.57 L735.57,25.98 L737.25,25.43 L738.93,24.90 L740.61,24.40 L742.29,23.93 L743.98,23.48 L745.66,23.05 L747.34,22.65 L749.02,22.26 L750.70,21.89 L752.38,21.55 L754.07,21.25 L755.75,20.97 L757.43,20.73 L759.11,20.51 L760.79,20.31 L762.47,20.12 L764.16,19.94 L765.84,19.77 L767.52,19.62 L769.20,19.48" stroke="#787878" stroke-width="1.0"/>
<path d="M585.90,125.40 L587.58,124.03 L589.26,122.66 L590.94,121.31 L592.63,119.96 L594.31,118.62 L595.99,117.28 L597.67,115.96 L599.35,114.64 L601.03,113.32 L602.72,112.02 L604.40,110.73 L606.08,109.44 L607.76,108.16 L609.44,106.88 L611.12,105.62 L612.81,104.36 L614.49,103.11 L616.17,101.86 L617.85,100.63 L619.53,99.41 L621.21,98.21 L622.90,97.03 L624.58,95.86 L626.26,94.71 L627.94,93.58 L629.62,92.45 L631.30,91.33 L632.99,90.21 L634.67,89.10 L636.35,87.99 L638.03,86.87 L639.71,85.74 L641.39,84.60 L643.08,83.45 L644.76,82.29 L646.44,81.10 L648.12,79.87 L649.80,78.64 L651.48,77.42 L653.17,76.25 L654.85,75.11 L656.53,74.01 L658.21,72.94 L659.89,71.88 L661.57,70.84 L663.26,69.82 L664.94,68.80 L666.62,67.80 L668.30,66.80 L669.98,65.80 L671.66,64.80 L673.35,63.80 L675.03,62.79 L676.71,61.77 L678.39,60.73 L680.07,59.68 L681.75,58.60 L683.44,57.51 L685.12,56.38 L686.80,55.24 L688.48,54.08 L690.16,52.90 L691.84,51.72 L693.53,50.52 L695.21,49.32 L696.89,48.11 L698.57,46.92 L700.25,45.73 L701.93,44.57 L703.62,43.43 L705.30,42.31 L706.98,41.21 L708.66,40.11 L710.34,39.02 L712.02,37.94 L713.71,36.87 L715.39,35.84 L717.07,34.83 L718.75,33.87 L720.43,32.96 L722.11,32.11 L723.80,31.31 L725.48,30.56 L727.16,29.84 L728.84,29.14 L730.52,28.47 L732.20,27.81 L733.89,27.18 L735.57,26.58 L737.25,26.00 L738.93,25.45 L740.61,24.93 L742.29,24.43 L743.98,23.96 L745.66,23.52 L747.34,23.09 L749.02,22.68 L750.70,22.30 L752.38,21.93 L754.07,21.60 L755.75,21.29 L757.43,21.02 L759.11,20.77 L760.79,20.54 L762.47,20.32 L764.16,20.13 L765.84,19.93 L767.52,19.77 L769.20,19.63" stroke="#787878" stroke-width="1.0"/>
<path d="M585.90,125.40 L587.58,124.05 L589.26,122.71 L590.94,121.37 L592.63,120.04 L594.31,118.72 L595.99,117.41 L597.67,116.10 L599.35,114.79 L601.03,113.50 L602.72,112.21 L604.40,110.93 L606.08,109.66 L607.76,108.39 L609.44,107.13 L611.12,105.88 L612.81,104.63 L614.49,103.39 L616.17,102.15 L617.85,100.93 L619.53,99.73 L621.21,98.54 L622.90,97.36 L624.58,96.21 L626.26,95.07 L627.94,93.93 L629.62,92.81 L631.30,91.70 L632.99,90.59 L634.67,89.48 L636.35,88.36 L638.03,87.24 L639.71,86.11 L641.39,84.97 L643.08,83.82 L644.76,82.65 L646.44,81.45 L648.12,80.22 L649.80,78.97 L651.48,77.75 L653.17,76.57 L654.85,75.42 L656.53,74.32 L658.21,73.23 L659.89,72.17 L661.57,71.13 L663.26,70.10 L664.94,69.08 L666.62,68.07 L668.30,67.06 L669.98,66.06 L671.66,65.05 L673.35,64.04 L675.03,63.02 L676.71,61.99 L678.39,60.94 L680.07,59.88 L681.75,58.79 L683.44,57.69 L685.12,56.55 L686.80,55.40 L688.48,54.22 L690.16,53.04 L691.84,51.84 L693.53,50.63 L695.21,49.42 L696.89,48.20 L698.57,46.99 L700.25,45.80 L701.93,44.62 L703.62,43.47 L705.30,42.35 L706.98,41.23 L708.66,40.13 L710.34,39.02 L712.02,37.94 L713.71,36.87 L715.39,35.82 L717.07,34.81 L718.75,33.85 L720.43,32.94 L722.11,32.08 L723.80,31.28 L725.48,30.53 L727.16,29.81 L728.84,29.11 L730.52,28.43 L732.20,27.78 L733.89,27.15 L735.57,26.55 L737.25,25.98 L738.93,25.43 L740.61,24.91 L742.29,24.43 L743.98,23.96 L745.66,23.52 L747.34,23.10 L749.02,22.70 L750.70,22.32 L752.38,21.96 L754.07,21.63 L755.75,21.34 L757.43,21.07 L759.11,20.82 L760.79,20.59 L762.47,20.38 L764.16,20.18 L765.84,19.99 L767.52,19.83 L769.20,19.68" stroke="#787878" stroke-width="1.0"/>
<path d="M585.90,125.40 L587.58,124.08 L589.26,122.76 L590.94,121.46 L592.63,120.15 L594.31,118.85 L595.99,117.56 L597.67,116.28 L599.35,115.00 L601.03,113.72 L602.72,112.46 L604.40,111.20 L606.08,109.95 L607.76,108.70 L609.44,107.46 L611.12,106.22 L612.81,104.99 L614.49,103.77 L616.17,102.55 L617.85,101.35 L619.53,100.16 L621.21,98.98 L622.90,97.83 L624.58,96.68 L626.26,95.56 L627.94,94.44 L629.62,93.33 L631.30,92.22 L632.99,91.12 L634.67,90.02 L636.35,88.91 L638.03,87.79 L639.71,86.66 L641.39,85.53 L643.08,84.37 L644.76,83.20 L646.44,81.99 L648.12,80.75 L649.80,79.50 L651.48,78.26 L653.17,77.07 L654.85,75.93 L656.53,74.81 L658.21,73.73 L659.89,72.66 L661.57,71.61 L663.26,70.58 L664.94,69.56 L666.62,68.55 L668.30,67.54 L669.98,66.53 L671.66,65.52 L673.35,64.50 L675.03,63.48 L676.71,62.44 L678.39,61.39 L680.07,60.31 L681.75,59.22 L683.44,58.10 L685.12,56.95 L686.80,55.78 L688.48,54.60 L690.16,53.39 L691.84,52.18 L693.53,50.96 L695.21,49.73 L696.89,48.50 L698.57,47.28 L700.25,46.07 L701.93,44.88 L703.62,43.72 L705.30,42.58 L706.98,41.45 L708.66,40.32 L710.34,39.21 L712.02,38.10 L713.71,37.02 L715.39,35.96 L717.07,34.94 L718.75,33.96 L720.43,33.03 L722.11,32.17 L723.80,31.37 L725.48,30.61 L727.16,29.88 L728.84,29.18 L730.52,28.50 L732.20,27.85 L733.89,27.22 L735.57,26.62 L737.25,26.05 L738.93,25.50 L740.61,24.99 L742.29,24.50 L743.98,24.04 L745.66,23.60 L747.34,23.19 L749.02,22.80 L750.70,22.42 L752.38,22.07 L754.07,21.75 L755.75,21.45 L757.43,21.18 L759.11,20.93 L760.79,20.70 L762.47,20.49 L764.16,20.29 L765.84,20.09 L767.52,19.93 L769.20,19.78" stroke="#787878" stroke-width="1.0"/>
<path d="M585.90,125.40 L587.58,124.06 L589.26,122.74 L590.94,121.42 L592.63,120.11 L594.31,118.80 L595.99,117.50 L597.67,116.21 L599.35,114.93 L601.03,113.66 L602.72,112.39 L604.40,111.13 L606.08,109.88 L607.76,108.64 L609.44,107.40 L611.12,106.18 L612.81,104.95 L614.49,103.74 L616.17,102.53 L617.85,101.34 L619.53,100.16 L621.21,99.01 L622.90,97.87 L624.58,96.74 L626.26,95.63 L627.94,94.54 L629.62,93.45 L631.30,92.37 L632.99,91.29 L634.67,90.21 L636.35,89.12 L638.03,88.03 L639.71,86.93 L641.39,85.82 L643.08,84.69 L644.76,83.54 L646.44,82.36 L648.12,81.14 L649.80,79.91 L651.48,78.70 L653.17,77.53 L654.85,76.41 L656.53,75.32 L658.21,74.26 L659.89,73.23 L661.57,72.21 L663.26,71.21 L664.94,70.22 L666.62,69.24 L668.30,68.27 L669.98,67.29 L671.66,66.32 L673.35,65.33 L675.03,64.34 L676.71,63.34 L678.39,62.31 L680.07,61.27 L681.75,60.20 L683.44,59.10 L685.12,57.98 L686.80,56.83 L688.48,55.65 L690.16,54.46 L691.84,53.26 L693.53,52.04 L695.21,50.82 L696.89,49.60 L698.57,48.39 L700.25,47.18 L701.93,46.00 L703.62,44.84 L705.30,43.69 L706.98,42.54 L708.66,41.40 L710.34,40.25 L712.02,39.11 L713.71,37.99 L715.39,36.89 L717.07,35.83 L718.75,34.81 L720.43,33.85 L722.11,32.96 L723.80,32.13 L725.48,31.35 L727.16,30.60 L728.84,29.88 L730.52,29.18 L732.20,28.51 L733.89,27.86 L735.57,27.24 L737.25,26.64 L738.93,26.08 L740.61,25.54 L742.29,25.03 L743.98,24.55 L745.66,24.09 L747.34,23.65 L749.02,23.24 L750.70,22.84 L752.38,22.46 L754.07,22.11 L755.75,21.78 L757.43,21.47 L759.11,21.19 L760.79,20.93 L762.47,20.69 L764.16,20.47 L765.84,20.26 L767.52,20.08 L769.20,19.93" stroke="#787878" stroke-width="1.0"/>
<path d="M585.90,125.40 L587.58,124.12 L589.26,122.85 L590.94,121.59 L592.63,120.33 L594.31,119.07 L595.99,117.82 L597.67,116.58 L599.35,115.35 L601.03,114.12 L602.72,112.89 L604.40,111.68 L606.08,110.47 L607.76,109.26 L609.44,108.06 L611.12,106.87 L612.81,105.69 L614.49,104.51 L616.17,103.33 L617.85,102.17 L619.53,101.03 L621.21,99.90 L622.90,98.79 L624.58,97.70 L626.26,96.62 L627.94,95.55 L629.62,94.48 L631.30,93.42 L632.99,92.35 L634.67,91.29 L636.35,90.21 L638.03,89.13 L639.71,88.03 L641.39,86.92 L643.08,85.79 L644.76,84.63 L646.44,83.43 L648.12,82.20 L649.80,80.94 L651.48,79.71 L653.17,78.53 L654.85,77.40 L656.53,76.30 L658.21,75.24 L659.89,74.19 L661.57,73.17 L663.26,72.16 L664.94,71.17 L666.62,70.18 L668.30,69.19 L669.98,68.21 L671.66,67.22 L673.35,66.23 L675.03,65.22 L676.71,64.20 L678.39,63.16 L680.07,62.10 L681.75,61.00 L683.44,59.88 L685.12,58.73 L686.80,57.55 L688.48,56.35 L690.16,55.13 L691.84,53.90 L693.53,52.65 L695.21,51.40 L696.89,50.15 L698.57,48.91 L700.25,47.68 L701.93,46.47 L703.62,45.28 L705.30,44.10 L706.98,42.92 L708.66,41.75 L710.34,40.57 L712.02,39.40 L713.71,38.24 L715.39,37.12 L717.07,36.03 L718.75,34.99 L720.43,34.01 L722.11,33.10 L723.80,32.26 L725.48,31.47 L727.16,30.72 L728.84,29.99 L730.52,29.29 L732.20,28.62 L733.89,27.97 L735.57,27.35 L737.25,26.76 L738.93,26.19 L740.61,25.66 L742.29,25.16 L743.98,24.68 L745.66,24.23 L747.34,23.81 L749.02,23.41 L750.70,23.02 L752.38,22.66 L754.07,22.31 L755.75,21.99 L757.43,21.69 L759.11,21.41 L760.79,21.14 L762.47,20.90 L764.16,20.68 L765.84,20.46 L767.52,20.27 L769.20,20.11" stroke="#787878" stroke-width="1.0"/>
<path d="M585.90,125.40 L587.58,124.15 L589.26,122.90 L590.94,121.66 L592.63,120.43 L594.31,119.20 L595.99,117.97 L597.67,116.76 L599.35,115.55 L601.03,114.34 L602.72,113.15 L604.40,111.96 L606.08,110.77 L607.76,109.59 L609.44,108.42 L611.12,107.26 L612.81,106.10 L614.49,104.95 L616.17,103.80 L617.85,102.67 L619.53,101.55 L621.21,100.46 L622.90,99.38 L624.58,98.32 L626.26,97.26 L627.94,96.22 L629.62,95.18 L631.30,94.15 L632.99,93.11 L634.67,92.07 L636.35,91.02 L638.03,89.95 L639.71,88.88 L641.39,87.78 L643.08,86.66 L644.76,85.52 L646.44,84.33 L648.12,83.10 L649.80,81.85 L651.48,80.62 L653.17,79.45 L654.85,78.32 L656.53,77.24 L658.21,76.19 L659.89,75.16 L661.57,74.16 L663.26,73.17 L664.94,72.19 L666.62,71.22 L668.30,70.26 L669.98,69.29 L671.66,68.32 L673.35,67.34 L675.03,66.35 L676.71,65.34 L678.39,64.31 L680.07,63.26 L681.75,62.17 L683.44,61.05 L685.12,59.90 L686.80,58.72 L688.48,57.51 L690.16,56.28 L691.84,55.03 L693.53,53.77 L695.21,52.51 L696.89,51.25 L698.57,50.00 L700.25,48.75 L701.93,47.53 L703.62,46.32 L705.30,45.12 L706.98,43.92 L708.66,42.70 L710.34,41.48 L712.02,40.27 L713.71,39.07 L715.39,37.90 L717.07,36.77 L718.75,35.70 L720.43,34.68 L722.11,33.74 L723.80,32.87 L725.48,32.06 L727.16,31.29 L728.84,30.55 L730.52,29.83 L732.20,29.14 L733.89,28.48 L735.57,27.85 L737.25,27.24 L738.93,26.67 L740.61,26.12 L742.29,25.60 L743.98,25.12 L745.66,24.66 L747.34,24.23 L749.02,23.82 L750.70,23.42 L752.38,23.05 L754.07,22.69 L755.75,22.34 L757.43,22.02 L759.11,21.72 L760.79,21.43 L762.47,21.17 L764.16,20.93 L765.84,20.69 L767.52,20.50 L769.20,20.33" stroke="#787878" stroke-width="1.0"/>
<path d="M585.90,125.40 L587.58,124.17 L589.26,122.94 L590.94,121.73 L592.63,120.51 L594.31,119.30 L595.99,118.10 L597.67,116.91 L599.35,115.72 L601.03,114.54 L602.72,113.36 L604.40,112.19 L606.08,111.03 L607.76,109.87 L609.44,108.72 L611.12,107.57 L612.81,106.43 L614.49,105.30 L616.17,104.17 L617.85,103.06 L619.53,101.96 L621.21,100.88 L622.90,99.82 L624.58,98.78 L626.26,97.74 L627.94,96.72 L629.62,95.69 L631.30,94.67 L632.99,93.65 L634.67,92.62 L636.35,91.58 L638.03,90.52 L639.71,89.45 L641.39,88.36 L643.08,87.25 L644.76,86.11 L646.44,84.92 L648.12,83.69 L649.80,82.43 L651.48,81.20 L653.17,80.02 L654.85,78.90 L656.53,77.82 L658.21,76.77 L659.89,75.74 L661.57,74.74 L663.26,73.76 L664.94,72.78 L666.62,71.82 L668.30,70.86 L669.98,69.90 L671.66,68.93 L673.35,67.95 L675.03,66.96 L676.71,65.95 L678.39,64.92 L680.07,63.86 L681.75,62.77 L683.44,61.65 L685.12,60.49 L686.80,59.29 L688.48,58.07 L690.16,56.83 L691.84,55.58 L693.53,54.31 L695.21,53.03 L696.89,51.76 L698.57,50.49 L700.25,49.24 L701.93,48.00 L703.62,46.78 L705.30,45.56 L706.98,44.34 L708.66,43.11 L710.34,41.87 L712.02,40.64 L713.71,39.42 L715.39,38.22 L717.07,37.07 L718.75,35.98 L720.43,34.94 L722.11,33.99 L723.80,33.11 L725.48,32.28 L727.16,31.51 L728.84,30.76 L730.52,30.04 L732.20,29.34 L733.89,28.68 L735.57,28.04 L737.25,27.43 L738.93,26.85 L740.61,26.30 L742.29,25.78 L743.98,25.30 L745.66,24.84 L747.34,24.41 L749.02,24.00 L750.70,23.61 L752.38,23.23 L754.07,22.86 L755.75,22.52 L757.43,22.19 L759.11,21.88 L760.79,21.58 L762.47,21.31 L764.16,21.06 L765.84,20.82 L767.52,20.62 L769.20,20.45" stroke="#787878" stroke-width="1.0"/>
<path d="M585.90,125.40 L587.58,124.17 L589.26,122.94 L590.94,121.73 L592.63,120.51 L594.31,119.30 L595.99,118.10 L597.67,116.91 L599.35,115.72 L601.03,114.54 L602.72,113.36 L604.40,112.19 L606.08,111.03 L607.76,109.87 L609.44,108.72 L611.12,107.58 L612.81,106.44 L614.49,105.31 L616.17,104.19 L617.85,103.08 L619.53,101.99 L621.21,100.92 L622.90,99.86 L624.58,98.82 L626.26,97.80 L627.94,96.78 L629.62,95.76 L631.30,94.75 L632.99,93.73 L634.67,92.71 L636.35,91.68 L638.03,90.63 L639.71,89.57 L641.39,88.49 L643.08,87.38 L644.76,86.25 L646.44,85.07 L648.12,83.84 L649.80,82.59 L651.48,81.36 L653.17,80.19 L654.85,79.08 L656.53,78.00 L658.21,76.96 L659.89,75.95 L661.57,74.96 L663.26,73.98 L664.94,73.02 L666.62,72.06 L668.30,71.11 L669.98,70.16 L671.66,69.20 L673.35,68.24 L675.03,67.26 L676.71,66.26 L678.39,65.23 L680.07,64.18 L681.75,63.10 L683.44,61.98 L685.12,60.83 L686.80,59.64 L688.48,58.42 L690.16,57.18 L691.84,55.93 L693.53,54.66 L695.21,53.39 L696.89,52.12 L698.57,50.85 L700.25,49.60 L701.93,48.36 L703.62,47.14 L705.30,45.92 L706.98,44.69 L708.66,43.45 L710.34,42.20 L712.02,40.96 L713.71,39.72 L715.39,38.52 L717.07,37.36 L718.75,36.25 L720.43,35.20 L722.11,34.24 L723.80,33.35 L725.48,32.52 L727.16,31.73 L728.84,30.98 L730.52,30.25 L732.20,29.55 L733.89,28.88 L735.57,28.23 L737.25,27.62 L738.93,27.03 L740.61,26.48 L742.29,25.95 L743.98,25.46 L745.66,24.99 L747.34,24.55 L749.02,24.14 L750.70,23.74 L752.38,23.35 L754.07,22.98 L755.75,22.63 L757.43,22.29 L759.11,21.96 L760.79,21.66 L762.47,21.38 L764.16,21.13 L765.84,20.88 L767.52,20.67 L769.20,20.50" stroke="#787878" stroke-width="1.0"/>
<path d="M585.90,87.94 L587.58,87.09 L589.26,86.24 L590.94,85.40 L592.63,84.57 L594.31,83.74 L595.99,82.92 L597.67,82.10 L599.35,81.29 L601.03,80.48 L602.72,79.68 L604.40,78.88 L606.08,78.09 L607.76,77.30 L609.44,76.52 L611.12,75.74 L612.81,74.97 L614.49,74.20 L616.17,73.43 L617.85,72.67 L619.53,71.91 L621.21,71.16 L622.90,70.41 L624.58,69.66 L626.26,68.92 L627.94,68.18 L629.62,67.45 L631.30,66.72 L632.99,65.99 L634.67,65.27 L636.35,64.55 L638.03,63.83 L639.71,63.11 L641.39,62.40 L643.08,61.69 L644.76,60.99 L646.44,60.28 L648.12,59.58 L649.80,58.89 L651.48,58.19 L653.17,57.50 L654.85,56.81 L656.53,56.12 L658.21,55.43 L659.89,54.75 L661.57,54.06 L663.26,53.38 L664.94,52.70 L666.62,52.03 L668.30,51.35 L669.98,50.67 L671.66,50.00 L673.35,49.33 L675.03,48.66 L676.71,47.99 L678.39,47.32 L680.07,46.65 L681.75,45.99 L683.44,45.32 L685.12,44.66 L686.80,43.99 L688.48,43.33 L690.16,42.66 L691.84,42.00 L693.53,41.34 L695.21,40.67 L696.89,40.01 L698.57,39.35 L700.25,38.68 L701.93,38.02 L703.62,37.36 L705.30,36.69 L706.98,36.03 L708.66,35.36 L710.34,34.70 L712.02,34.03 L713.71,33.36 L715.39,32.70 L717.07,32.03 L718.75,31.36 L720.43,30.68 L722.11,30.01 L723.80,29.34 L725.48,28.66 L727.16,27.98 L728.84,27.31 L730.52,26.63 L732.20,25.94 L733.89,25.26 L735.57,24.57 L737.25,23.89 L738.93,23.19 L740.61,22.50 L742.29,21.81 L743.98,21.11 L745.66,20.41 L747.34,19.71 L749.02,19.00 L750.70,18.29 L752.38,17.58 L754.07,16.87 L755.75,16.15 L757.43,15.43 L759.11,14.71 L760.79,13.98 L762.47,13.25 L764.16,12.52 L765.84,11.79 L767.52,11.04 L769.20,10.30" stroke="#787878" stroke-width="1.08"/>
<path d="M688.48,60.87 L690.16,59.44 L691.84,58.02 L693.53,56.61 L695.21,55.20 L696.89,53.81 L698.57,52.43 L700.25,51.06 L701.93,49.70 L703.62,48.35 L705.30,47.01 L706.98,45.69 L708.66,44.39 L710.34,43.10 L712.02,41.83 L713.71,40.58 L715.39,39.36 L717.07,38.16 L718.75,37.00 L720.43,35.87 L722.11,34.78 L723.80,33.74 L725.48,32.75 L727.16,31.83 L728.84,30.97 L730.52,30.17 L732.20,29.45 L733.89,28.78 L735.57,28.17 L737.25,27.62 L738.93,27.10 L740.61,26.63 L742.29,26.18 L743.98,25.76 L745.66,25.36 L747.34,24.98 L749.02,24.62 L750.70,24.26 L752.38,23.92 L754.07,23.58 L755.75,23.25 L757.43,22.93 L759.11,22.61 L760.79,22.30 L762.47,21.99 L764.16,21.69 L765.84,21.39 L767.52,21.09 L769.20,20.79 L769.20,24.91 L767.52,25.17 L765.84,25.43 L764.16,25.70 L762.47,25.97 L760.79,26.24 L759.11,26.52 L757.43,26.80 L755.75,27.09 L754.07,27.39 L752.38,27.70 L750.70,28.01 L749.02,28.35 L747.34,28.70 L745.66,29.07 L743.98,29.46 L742.29,29.89 L740.61,30.35 L738.93,30.86 L737.25,31.41 L735.57,32.02 L733.89,32.70 L732.20,33.44 L730.52,34.25 L728.84,35.12 L727.16,36.05 L725.48,37.04 L723.80,38.06 L722.11,39.13 L720.43,40.23 L718.75,41.35 L717.07,42.51 L715.39,43.68 L713.71,44.88 L712.02,46.09 L710.34,47.32 L708.66,48.56 L706.98,49.81 L705.30,51.08 L703.62,52.36 L701.93,53.65 L700.25,54.95 L698.57,56.26 L696.89,57.58 L695.21,58.91 L693.53,60.24 L691.84,61.59 L690.16,62.95 L688.48,64.31 Z" fill="#787878" fill-opacity="0.45" stroke="none"/>
<path d="M585.90,162.65 L587.58,160.76 L589.26,158.89 L590.94,157.02 L592.63,155.15 L594.31,153.30 L595.99,151.45 L597.67,149.60 L599.35,147.77 L601.03,145.94 L602.72,144.12 L604.40,142.31 L606.08,140.50 L607.76,138.70 L609.44,136.91 L611.12,135.12 L612.81,133.34 L614.49,131.57 L616.17,129.81 L617.85,128.05 L619.53,126.30 L621.21,124.56 L622.90,122.83 L624.58,121.10 L626.26,119.38 L627.94,117.66 L629.62,115.96 L631.30,114.26 L632.99,112.56 L634.67,110.88 L636.35,109.20 L638.03,107.53 L639.71,105.87 L641.39,104.21 L643.08,102.56 L644.76,100.92 L646.44,99.29 L648.12,97.66 L649.80,96.04 L651.48,94.43 L653.17,92.82 L654.85,91.22 L656.53,89.63 L658.21,88.05 L659.89,86.48 L661.57,84.91 L663.26,83.35 L664.94,81.79 L666.62,80.25 L668.30,78.71 L669.98,77.18 L671.66,75.66 L673.35,74.14 L675.03,72.64 L676.71,71.14 L678.39,69.65 L680.07,68.16 L681.75,66.69 L683.44,65.22 L685.12,63.76 L686.80,62.32 L688.48,60.87 L690.16,59.44 L691.84,58.02 L693.53,56.61 L695.21,55.20 L696.89,53.81 L698.57,52.43 L700.25,51.06 L701.93,49.70 L703.62,48.35 L705.30,47.01 L706.98,45.69 L708.66,44.39 L710.34,43.10 L712.02,41.83 L713.71,40.58 L715.39,39.36 L717.07,38.16 L718.75,37.00 L720.43,35.87 L722.11,34.78 L723.80,33.74 L725.48,32.75 L727.16,31.83 L728.84,30.97 L730.52,30.17 L732.20,29.45 L733.89,28.78 L735.57,28.17 L737.25,27.62 L738.93,27.10 L740.61,26.63 L742.29,26.18 L743.98,25.76 L745.66,25.36 L747.34,24.98 L749.02,24.62 L750.70,24.26 L752.38,23.92 L754.07,23.58 L755.75,23.25 L757.43,22.93 L759.11,22.61 L760.79,22.30 L762.47,21.99 L764.16,21.69 L765.84,21.39 L767.52,21.09 L769.20,20.79" stroke="#787878" stroke-width="0.95"/>
<path d="M585.90,162.65 L587.58,160.77 L589.26,158.90 L590.94,157.04 L592.63,155.19 L594.31,153.34 L595.99,151.50 L597.67,149.67 L599.35,147.84 L601.03,146.02 L602.72,144.21 L604.40,142.41 L606.08,140.61 L607.76,138.82 L609.44,137.03 L611.12,135.26 L612.81,133.49 L614.49,131.73 L616.17,129.97 L617.85,128.22 L619.53,126.48 L621.21,124.75 L622.90,123.02 L624.58,121.30 L626.26,119.59 L627.94,117.89 L629.62,116.19 L631.30,114.50 L632.99,112.81 L634.67,111.14 L636.35,109.47 L638.03,107.81 L639.71,106.15 L641.39,104.50 L643.08,102.86 L644.76,101.23 L646.44,99.61 L648.12,97.99 L649.80,96.39 L651.48,94.79 L653.17,93.20 L654.85,91.62 L656.53,90.04 L658.21,88.48 L659.89,86.92 L661.57,85.36 L663.26,83.82 L664.94,82.28 L666.62,80.75 L668.30,79.23 L669.98,77.71 L671.66,76.20 L673.35,74.70 L675.03,73.21 L676.71,71.73 L678.39,70.25 L680.07,68.78 L681.75,67.32 L683.44,65.87 L685.12,64.42 L686.80,62.99 L688.48,61.56 L690.16,60.14 L691.84,58.73 L693.53,57.34 L695.21,55.94 L696.89,54.56 L698.57,53.19 L700.25,51.84 L701.93,50.49 L703.62,49.15 L705.30,47.83 L706.98,46.52 L708.66,45.22 L710.34,43.94 L712.02,42.68 L713.71,41.44 L715.39,40.22 L717.07,39.03 L718.75,37.87 L720.43,36.74 L722.11,35.65 L723.80,34.60 L725.48,33.61 L727.16,32.67 L728.84,31.80 L730.52,30.99 L732.20,30.25 L733.89,29.57 L735.57,28.94 L737.25,28.38 L738.93,27.85 L740.61,27.37 L742.29,26.92 L743.98,26.50 L745.66,26.10 L747.34,25.73 L749.02,25.36 L750.70,25.01 L752.38,24.67 L754.07,24.34 L755.75,24.02 L757.43,23.70 L759.11,23.39 L760.79,23.09 L762.47,22.79 L764.16,22.49 L765.84,22.20 L767.52,21.91 L769.20,21.62" stroke="#787878" stroke-width="0.95"/>
<path d="M585.90,162.64 L587.58,160.78 L589.26,158.92 L590.94,157.07 L592.63,155.22 L594.31,153.38 L595.99,151.55 L597.67,149.73 L599.35,147.91 L601.03,146.10 L602.72,144.30 L604.40,142.50 L606.08,140.72 L607.76,138.93 L609.44,137.16 L611.12,135.39 L612.81,133.63 L614.49,131.88 L616.17,130.13 L617.85,128.39 L619.53,126.66 L621.21,124.94 L622.90,123.22 L624.58,121.51 L626.26,119.81 L627.94,118.11 L629.62,116.42 L631.30,114.74 L632.99,113.06 L634.67,111.39 L636.35,109.73 L638.03,108.08 L639.71,106.43 L641.39,104.79 L643.08,103.16 L644.76,101.54 L646.44,99.92 L648.12,98.33 L649.80,96.74 L651.48,95.16 L653.17,93.58 L654.85,92.01 L656.53,90.45 L658.21,88.90 L659.89,87.36 L661.57,85.82 L663.26,84.29 L664.94,82.76 L666.62,81.25 L668.30,79.74 L669.98,78.24 L671.66,76.75 L673.35,75.26 L675.03,73.78 L676.71,72.31 L678.39,70.85 L680.07,69.40 L681.75,67.95 L683.44,66.51 L685.12,65.08 L686.80,63.66 L688.48,62.25 L690.16,60.84 L691.84,59.45 L693.53,58.06 L695.21,56.69 L696.89,55.32 L698.57,53.96 L700.25,52.61 L701.93,51.28 L703.62,49.95 L705.30,48.64 L706.98,47.34 L708.66,46.06 L710.34,44.79 L712.02,43.53 L713.71,42.30 L715.39,41.09 L717.07,39.90 L718.75,38.74 L720.43,37.61 L722.11,36.52 L723.80,35.47 L725.48,34.47 L727.16,33.52 L728.84,32.63 L730.52,31.81 L732.20,31.05 L733.89,30.35 L735.57,29.71 L737.25,29.14 L738.93,28.61 L740.61,28.12 L742.29,27.67 L743.98,27.24 L745.66,26.85 L747.34,26.47 L749.02,26.11 L750.70,25.76 L752.38,25.43 L754.07,25.10 L755.75,24.79 L757.43,24.48 L759.11,24.17 L760.79,23.88 L762.47,23.58 L764.16,23.29 L765.84,23.01 L767.52,22.72 L769.20,22.44" stroke="#787878" stroke-width="0.95"/>
<path d="M585.90,162.64 L587.58,160.78 L589.26,158.93 L590.94,157.09 L592.63,155.25 L594.31,153.43 L595.99,151.60 L597.67,149.79 L599.35,147.98 L601.03,146.18 L602.72,144.39 L604.40,142.60 L606.08,140.82 L607.76,139.05 L609.44,137.28 L611.12,135.53 L612.81,133.78 L614.49,132.03 L616.17,130.29 L617.85,128.56 L619.53,126.84 L621.21,125.13 L622.90,123.42 L624.58,121.71 L626.26,120.02 L627.94,118.33 L629.62,116.65 L631.30,114.98 L632.99,113.31 L634.67,111.65 L636.35,110.00 L638.03,108.35 L639.71,106.72 L641.39,105.09 L643.08,103.46 L644.76,101.85 L646.44,100.24 L648.12,98.66 L649.80,97.09 L651.48,95.52 L653.17,93.96 L654.85,92.41 L656.53,90.87 L658.21,89.33 L659.89,87.80 L661.57,86.27 L663.26,84.76 L664.94,83.25 L666.62,81.75 L668.30,80.26 L669.98,78.77 L671.66,77.29 L673.35,75.82 L675.03,74.36 L676.71,72.90 L678.39,71.45 L680.07,70.01 L681.75,68.58 L683.44,67.16 L685.12,65.74 L686.80,64.33 L688.48,62.94 L690.16,61.54 L691.84,60.16 L693.53,58.79 L695.21,57.43 L696.89,56.07 L698.57,54.73 L700.25,53.39 L701.93,52.07 L703.62,50.76 L705.30,49.45 L706.98,48.17 L708.66,46.89 L710.34,45.63 L712.02,44.39 L713.71,43.16 L715.39,41.95 L717.07,40.77 L718.75,39.61 L720.43,38.48 L722.11,37.39 L723.80,36.33 L725.48,35.32 L727.16,34.36 L728.84,33.46 L730.52,32.62 L732.20,31.84 L733.89,31.13 L735.57,30.48 L737.25,29.89 L738.93,29.36 L740.61,28.86 L742.29,28.41 L743.98,27.98 L745.66,27.59 L747.34,27.21 L749.02,26.85 L750.70,26.51 L752.38,26.18 L754.07,25.86 L755.75,25.55 L757.43,25.25 L759.11,24.95 L760.79,24.66 L762.47,24.38 L764.16,24.09 L765.84,23.82 L767.52,23.54 L769.20,23.27" stroke="#787878" stroke-width="0.95"/>
<path d="M585.90,162.63 L587.58,160.79 L589.26,158.95 L590.94,157.11 L592.63,155.29 L594.31,153.47 L595.99,151.66 L597.67,149.85 L599.35,148.05 L601.03,146.26 L602.72,144.48 L604.40,142.70 L606.08,140.93 L607.76,139.17 L609.44,137.41 L611.12,135.66 L612.81,133.92 L614.49,132.18 L616.17,130.46 L617.85,128.73 L619.53,127.02 L621.21,125.31 L622.90,123.61 L624.58,121.92 L626.26,120.23 L627.94,118.56 L629.62,116.88 L631.30,115.22 L632.99,113.56 L634.67,111.91 L636.35,110.27 L638.03,108.63 L639.71,107.00 L641.39,105.38 L643.08,103.76 L644.76,102.15 L646.44,100.56 L648.12,99.00 L649.80,97.44 L651.48,95.89 L653.17,94.34 L654.85,92.81 L656.53,91.28 L658.21,89.75 L659.89,88.24 L661.57,86.73 L663.26,85.23 L664.94,83.74 L666.62,82.25 L668.30,80.77 L669.98,79.30 L671.66,77.84 L673.35,76.38 L675.03,74.93 L676.71,73.49 L678.39,72.06 L680.07,70.63 L681.75,69.21 L683.44,67.80 L685.12,66.40 L686.80,65.01 L688.48,63.62 L690.16,62.25 L691.84,60.88 L693.53,59.52 L695.21,58.17 L696.89,56.82 L698.57,55.49 L700.25,54.17 L701.93,52.86 L703.62,51.56 L705.30,50.27 L706.98,48.99 L708.66,47.72 L710.34,46.47 L712.02,45.24 L713.71,44.02 L715.39,42.82 L717.07,41.64 L718.75,40.48 L720.43,39.35 L722.11,38.26 L723.80,37.20 L725.48,36.18 L727.16,35.21 L728.84,34.29 L730.52,33.44 L732.20,32.64 L733.89,31.92 L735.57,31.25 L737.25,30.65 L738.93,30.11 L740.61,29.61 L742.29,29.15 L743.98,28.72 L745.66,28.33 L747.34,27.95 L749.02,27.60 L750.70,27.26 L752.38,26.94 L754.07,26.63 L755.75,26.32 L757.43,26.03 L759.11,25.74 L760.79,25.45 L762.47,25.17 L764.16,24.90 L765.84,24.62 L767.52,24.36 L769.20,24.09" stroke="#787878" stroke-width="0.95"/>
<path d="M585.90,162.63 L587.58,160.79 L589.26,158.96 L590.94,157.14 L592.63,155.32 L594.31,153.51 L595.99,151.71 L597.67,149.91 L599.35,148.12 L601.03,146.34 L602.72,144.57 L604.40,142.80 L606.08,141.04 L607.76,139.28 L609.44,137.54 L611.12,135.80 L612.81,134.06 L614.49,132.34 L616.17,130.62 L617.85,128.90 L619.53,127.20 L621.21,125.50 L622.90,123.81 L624.58,122.13 L626.26,120.45 L627.94,118.78 L629.62,117.12 L631.30,115.46 L632.99,113.81 L634.67,112.17 L636.35,110.53 L638.03,108.90 L639.71,107.28 L641.39,105.67 L643.08,104.06 L644.76,102.46 L646.44,100.88 L648.12,99.33 L649.80,97.79 L651.48,96.25 L653.17,94.72 L654.85,93.20 L656.53,91.69 L658.21,90.18 L659.89,88.68 L661.57,87.19 L663.26,85.70 L664.94,84.22 L666.62,82.75 L668.30,81.29 L669.98,79.83 L671.66,78.38 L673.35,76.94 L675.03,75.50 L676.71,74.08 L678.39,72.66 L680.07,71.25 L681.75,69.84 L683.44,68.45 L685.12,67.06 L686.80,65.68 L688.48,64.31 L690.16,62.95 L691.84,61.59 L693.53,60.24 L695.21,58.91 L696.89,57.58 L698.57,56.26 L700.25,54.95 L701.93,53.65 L703.62,52.36 L705.30,51.08 L706.98,49.81 L708.66,48.56 L710.34,47.32 L712.02,46.09 L713.71,44.88 L715.39,43.68 L717.07,42.51 L718.75,41.35 L720.43,40.23 L722.11,39.13 L723.80,38.06 L725.48,37.04 L727.16,36.05 L728.84,35.12 L730.52,34.25 L732.20,33.44 L733.89,32.70 L735.57,32.02 L737.25,31.41 L738.93,30.86 L740.61,30.35 L742.29,29.89 L743.98,29.46 L745.66,29.07 L747.34,28.70 L749.02,28.35 L750.70,28.01 L752.38,27.70 L754.07,27.39 L755.75,27.09 L757.43,26.80 L759.11,26.52 L760.79,26.24 L762.47,25.97 L764.16,25.70 L765.84,25.43 L767.52,25.17 L769.20,24.91" stroke="#787878" stroke-width="0.95"/>
<path d="M585.90,162.63 L587.58,160.83 L589.26,159.03 L590.94,157.24 L592.63,155.46 L594.31,153.69 L595.99,151.92 L597.67,150.16 L599.35,148.40 L601.03,146.66 L602.72,144.92 L604.40,143.18 L606.08,141.46 L607.76,139.74 L609.44,138.03 L611.12,136.32 L612.81,134.62 L614.49,132.93 L616.17,131.25 L617.85,129.57 L619.53,127.90 L621.21,126.24 L622.90,124.58 L624.58,122.93 L626.26,121.29 L627.94,119.65 L629.62,118.03 L631.30,116.40 L632.99,114.79 L634.67,113.18 L636.35,111.58 L638.03,109.99 L639.71,108.40 L641.39,106.83 L643.08,105.25 L644.76,103.69 L646.44,102.13 L648.12,100.58 L649.80,99.04 L651.48,97.50 L653.17,95.97 L654.85,94.45 L656.53,92.94 L658.21,91.43 L659.89,89.93 L661.57,88.44 L663.26,86.95 L664.94,85.47 L666.62,84.00 L668.30,82.54 L669.98,81.08 L671.66,79.63 L673.35,78.19 L675.03,76.75 L676.71,75.33 L678.39,73.91 L680.07,72.50 L681.75,71.09 L683.44,69.70 L685.12,68.31 L686.80,66.93 L688.48,65.56 L690.16,64.20 L691.84,62.84 L693.53,61.49 L695.21,60.16 L696.89,58.83 L698.57,57.51 L700.25,56.20 L701.93,54.90 L703.62,53.61 L705.30,52.33 L706.98,51.06 L708.66,49.81 L710.34,48.57 L712.02,47.34 L713.71,46.13 L715.39,44.93 L717.07,43.76 L718.75,42.60 L720.43,41.48 L722.11,40.38 L723.80,39.31 L725.48,38.29 L727.16,37.30 L728.84,36.37 L730.52,35.50 L732.20,34.69 L733.89,33.95 L735.57,33.27 L737.25,32.66 L738.93,32.11 L740.61,31.60 L742.29,31.14 L743.98,30.71 L745.66,30.32 L747.34,29.95 L749.02,29.60 L750.70,29.26 L752.38,28.95 L754.07,28.64 L755.75,28.34 L757.43,28.05 L759.11,27.77 L760.79,27.49 L762.47,27.22 L764.16,26.95 L765.84,26.68 L767.52,26.42 L769.20,26.16" stroke="#0000ff" stroke-width="1.02"/>
<path d="M585.90,162.64 L587.58,160.87 L589.26,159.10 L590.94,157.35 L592.63,155.59 L594.31,153.85 L595.99,152.11 L597.67,150.38 L599.35,148.66 L601.03,146.95 L602.72,145.24 L604.40,143.54 L606.08,141.84 L607.76,140.16 L609.44,138.48 L611.12,136.81 L612.81,135.14 L614.49,133.48 L616.17,131.83 L617.85,130.19 L619.53,128.56 L621.21,126.93 L622.90,125.31 L624.58,123.69 L626.26,122.08 L627.94,120.48 L629.62,118.89 L631.30,117.31 L632.99,115.73 L634.67,114.16 L636.35,112.59 L638.03,111.04 L639.71,109.49 L641.39,107.95 L643.08,106.41 L644.76,104.89 L646.44,103.37 L648.12,101.85 L649.80,100.35 L651.48,98.85 L653.17,97.36 L654.85,95.88 L656.53,94.40 L658.21,92.93 L659.89,91.47 L661.57,90.02 L663.26,88.57 L664.94,87.14 L666.62,85.70 L668.30,84.28 L669.98,82.87 L671.66,81.46 L673.35,80.06 L675.03,78.66 L676.71,77.28 L678.39,75.90 L680.07,74.53 L681.75,73.17 L683.44,71.81 L685.12,70.47 L686.80,69.13 L688.48,67.80 L690.16,66.48 L691.84,65.16 L693.53,63.86 L695.21,62.56 L696.89,61.27 L698.57,59.99 L700.25,58.72 L701.93,57.46 L703.62,56.21 L705.30,54.97 L706.98,53.73 L708.66,52.51 L710.34,51.30 L712.02,50.10 L713.71,48.92 L715.39,47.74 L717.07,46.58 L718.75,45.44 L720.43,44.31 L722.11,43.20 L723.80,42.11 L725.48,41.04 L727.16,40.00 L728.84,38.99 L730.52,38.01 L732.20,37.07 L733.89,36.18 L735.57,35.33 L737.25,34.54 L738.93,33.81 L740.61,33.14 L742.29,32.54 L743.98,31.99 L745.66,31.50 L747.34,31.06 L749.02,30.66 L750.70,30.30 L752.38,29.97 L754.07,29.66 L755.75,29.38 L757.43,29.12 L759.11,28.86 L760.79,28.63 L762.47,28.40 L764.16,28.18 L765.84,27.97 L767.52,27.76 L769.20,27.57" stroke="#0000ff" stroke-width="1.02"/>
<path d="M585.90,162.63 L587.58,160.87 L589.26,159.11 L590.94,157.36 L592.63,155.62 L594.31,153.88 L595.99,152.16 L597.67,150.44 L599.35,148.73 L601.03,147.03 L602.72,145.33 L604.40,143.65 L606.08,141.97 L607.76,140.30 L609.44,138.64 L611.12,136.99 L612.81,135.34 L614.49,133.71 L616.17,132.08 L617.85,130.46 L619.53,128.85 L621.21,127.24 L622.90,125.65 L624.58,124.06 L626.26,122.48 L627.94,120.91 L629.62,119.35 L631.30,117.79 L632.99,116.24 L634.67,114.71 L636.35,113.18 L638.03,111.65 L639.71,110.14 L641.39,108.63 L643.08,107.14 L644.76,105.65 L646.44,104.17 L648.12,102.69 L649.80,101.23 L651.48,99.77 L653.17,98.32 L654.85,96.88 L656.53,95.45 L658.21,94.03 L659.89,92.61 L661.57,91.21 L663.26,89.81 L664.94,88.42 L666.62,87.03 L668.30,85.66 L669.98,84.30 L671.66,82.94 L673.35,81.59 L675.03,80.25 L676.71,78.92 L678.39,77.59 L680.07,76.28 L681.75,74.97 L683.44,73.68 L685.12,72.39 L686.80,71.11 L688.48,69.83 L690.16,68.57 L691.84,67.32 L693.53,66.07 L695.21,64.84 L696.89,63.61 L698.57,62.39 L700.25,61.18 L701.93,59.98 L703.62,58.79 L705.30,57.61 L706.98,56.43 L708.66,55.27 L710.34,54.12 L712.02,52.98 L713.71,51.85 L715.39,50.73 L717.07,49.62 L718.75,48.52 L720.43,47.43 L722.11,46.36 L723.80,45.30 L725.48,44.25 L727.16,43.22 L728.84,42.20 L730.52,41.20 L732.20,40.22 L733.89,39.26 L735.57,38.33 L737.25,37.42 L738.93,36.54 L740.61,35.69 L742.29,34.88 L743.98,34.11 L745.66,33.39 L747.34,32.73 L749.02,32.12 L750.70,31.57 L752.38,31.08 L754.07,30.65 L755.75,30.28 L757.43,29.95 L759.11,29.67 L760.79,29.43 L762.47,29.21 L764.16,29.03 L765.84,28.86 L767.52,28.72 L769.20,28.59" stroke="#ff0000" stroke-width="0.97"/>
<path d="M585.90,162.63 L587.58,160.98 L589.26,159.33 L590.94,157.68 L592.63,156.04 L594.31,154.41 L595.99,152.79 L597.67,151.17 L599.35,149.55 L601.03,147.94 L602.72,146.34 L604.40,144.74 L606.08,143.15 L607.76,141.57 L609.44,139.99 L611.12,138.41 L612.81,136.85 L614.49,135.28 L616.17,133.73 L617.85,132.18 L619.53,130.63 L621.21,129.09 L622.90,127.56 L624.58,126.03 L626.26,124.51 L627.94,123.00 L629.62,121.49 L631.30,119.98 L632.99,118.49 L634.67,116.99 L636.35,115.51 L638.03,114.03 L639.71,112.55 L641.39,111.08 L643.08,109.62 L644.76,108.16 L646.44,106.71 L648.12,105.27 L649.80,103.83 L651.48,102.40 L653.17,100.97 L654.85,99.55 L656.53,98.13 L658.21,96.72 L659.89,95.32 L661.57,93.92 L663.26,92.53 L664.94,91.14 L666.62,89.77 L668.30,88.39 L669.98,87.02 L671.66,85.66 L673.35,84.31 L675.03,82.96 L676.71,81.62 L678.39,80.28 L680.07,78.95 L681.75,77.62 L683.44,76.31 L685.12,74.99 L686.80,73.69 L688.48,72.39 L690.16,71.10 L691.84,69.81 L693.53,68.53 L695.21,67.26 L696.89,65.99 L698.57,64.73 L700.25,63.48 L701.93,62.24 L703.62,61.00 L705.30,59.77 L706.98,58.54 L708.66,57.33 L710.34,56.12 L712.02,54.92 L713.71,53.73 L715.39,52.55 L717.07,51.38 L718.75,50.22 L720.43,49.07 L722.11,47.93 L723.80,46.80 L725.48,45.69 L727.16,44.59 L728.84,43.52 L730.52,42.46 L732.20,41.42 L733.89,40.41 L735.57,39.43 L737.25,38.48 L738.93,37.57 L740.61,36.71 L742.29,35.90 L743.98,35.14 L745.66,34.44 L747.34,33.80 L749.02,33.22 L750.70,32.69 L752.38,32.21 L754.07,31.78 L755.75,31.37 L757.43,31.00 L759.11,30.65 L760.79,30.32 L762.47,30.01 L764.16,29.72 L765.84,29.43 L767.52,29.16 L769.20,28.89" stroke="#0000ff" stroke-width="1.25"/>
<path d="M585.90,199.93 L587.58,197.86 L589.26,195.81 L590.94,193.76 L592.63,191.71 L594.31,189.67 L595.99,187.64 L597.67,185.62 L599.35,183.60 L601.03,181.59 L602.72,179.59 L604.40,177.59 L606.08,175.60 L607.76,173.62 L609.44,171.64 L611.12,169.67 L612.81,167.71 L614.49,165.75 L616.17,163.80 L617.85,161.85 L619.53,159.92 L621.21,157.99 L622.90,156.06 L624.58,154.14 L626.26,152.23 L627.94,150.33 L629.62,148.43 L631.30,146.54 L632.99,144.66 L634.67,142.78 L636.35,140.91 L638.03,139.05 L639.71,137.19 L641.39,135.34 L643.08,133.50 L644.76,131.66 L646.44,129.83 L648.12,128.01 L649.80,126.19 L651.48,124.38 L653.17,122.58 L654.85,120.78 L656.53,118.99 L658.21,117.21 L659.89,115.43 L661.57,113.67 L663.26,111.90 L664.94,110.15 L666.62,108.40 L668.30,106.66 L669.98,104.92 L671.66,103.19 L673.35,101.47 L675.03,99.76 L676.71,98.05 L678.39,96.35 L680.07,94.66 L681.75,92.97 L683.44,91.29 L685.12,89.62 L686.80,87.96 L688.48,86.30 L690.16,84.65 L691.84,83.01 L693.53,81.37 L695.21,79.74 L696.89,78.12 L698.57,76.51 L700.25,74.90 L701.93,73.30 L703.62,71.71 L705.30,70.13 L706.98,68.56 L708.66,66.99 L710.34,65.43 L712.02,63.89 L713.71,62.35 L715.39,60.82 L717.07,59.30 L718.75,57.79 L720.43,56.29 L722.11,54.80 L723.80,53.33 L725.48,51.87 L727.16,50.43 L728.84,49.00 L730.52,47.59 L732.20,46.20 L733.89,44.84 L735.57,43.51 L737.25,42.21 L738.93,40.95 L740.61,39.75 L742.29,38.60 L743.98,37.53 L745.66,36.53 L747.34,35.62 L749.02,34.81 L750.70,34.08 L752.38,33.43 L754.07,32.85 L755.75,32.33 L757.43,31.85 L759.11,31.42 L760.79,31.02 L762.47,30.64 L764.16,30.28 L765.84,29.94 L767.52,29.62 L769.20,29.30" stroke="#0000ff" stroke-width="1.95"/>
</g>
<path d="M766.60,31.80 L727.10,111.90" stroke="#222" stroke-width="0.95"/>
<circle cx="766.0" cy="28.0" r="3.8" fill="none" stroke="#1a1a1a" stroke-width="0.9"/>
<circle cx="723.5" cy="160" r="48" fill="#fff" stroke="#000" stroke-width="1.25"/>
<clipPath id="cc"><circle cx="723.5" cy="160" r="47.5"/></clipPath>
<g fill="none" clip-path="url(#cc)">
<linearGradient id="rb" gradientUnits="userSpaceOnUse" x1="674" y1="0" x2="759" y2="0"><stop offset="0" stop-color="#ff0000"/><stop offset="0.55" stop-color="#ff0000"/><stop offset="0.8" stop-color="#0000ff"/><stop offset="1" stop-color="#0000ff"/></linearGradient>
<path d="M674.0,141.6 Q706.0,133.1 759.0,129.8" stroke="#666" stroke-width="0.55"/>
<path d="M674.0,140.2 Q706.0,133.0 759.0,131.0" stroke="#666" stroke-width="0.55"/>
<path d="M674.0,138.8 Q706.0,132.8 759.0,131.9" stroke="#666" stroke-width="0.55"/>
<path d="M674.0,138.0 Q706.0,132.8 759.0,132.7" stroke="#666" stroke-width="0.55"/>
<path d="M674.0,143.9 Q710.0,136.0 759.0,133.8" stroke="#0000ff" stroke-width="1.1"/>
<path d="M674.0,176.7 Q712.0,173.0 759.0,171.7" stroke="url(#rb)" stroke-width="1.5"/>
<path d="M674.0,179.1 Q712.0,174.6 759.0,172.5" stroke="#0000ff" stroke-width="1.0"/>
<path d="M674.0,181.9 Q712.0,177.3 759.0,175.8" stroke="#0000ff" stroke-width="2.1"/>
</g>
<g stroke="#222" stroke-width="1" fill="none">
<rect x="66.0" y="1.5" width="220.0" height="220.0"/>
<path d="M84.33,221.5 v-6.3 M84.33,1.5 v6.3"/>
<path d="M176.00,221.5 v-6.3 M176.00,1.5 v6.3"/>
<path d="M267.67,221.5 v-6.3 M267.67,1.5 v6.3"/>
<path d="M66.0,13.30 h6.3 M286.0,13.30 h-6.3"/>
<path d="M66.0,50.62 h6.3 M286.0,50.62 h-6.3"/>
<path d="M66.0,87.94 h6.3 M286.0,87.94 h-6.3"/>
<path d="M66.0,125.26 h6.3 M286.0,125.26 h-6.3"/>
<path d="M66.0,162.58 h6.3 M286.0,162.58 h-6.3"/>
<path d="M66.0,199.90 h6.3 M286.0,199.90 h-6.3"/>
</g>
<path d="M72.24,238.2 h12.48" stroke="#000" stroke-width="0.95"/>
<text x="87.22" y="244">1</text>
<text x="176.00" y="244" text-anchor="middle">0</text>
<text x="267.67" y="244" text-anchor="middle">1</text>
<text x="176.00" y="268.6" text-anchor="middle" font-style="italic">s</text>
<text x="77.20" y="20.8">(a) disorder-free</text>
<g stroke="#222" stroke-width="1" fill="none">
<rect x="316.5" y="1.5" width="220.0" height="220.0"/>
<path d="M334.83,221.5 v-6.3 M334.83,1.5 v6.3"/>
<path d="M426.50,221.5 v-6.3 M426.50,1.5 v6.3"/>
<path d="M518.17,221.5 v-6.3 M518.17,1.5 v6.3"/>
<path d="M316.5,13.30 h6.3 M536.5,13.30 h-6.3"/>
<path d="M316.5,50.62 h6.3 M536.5,50.62 h-6.3"/>
<path d="M316.5,87.94 h6.3 M536.5,87.94 h-6.3"/>
<path d="M316.5,125.26 h6.3 M536.5,125.26 h-6.3"/>
<path d="M316.5,162.58 h6.3 M536.5,162.58 h-6.3"/>
<path d="M316.5,199.90 h6.3 M536.5,199.90 h-6.3"/>
</g>
<path d="M322.74,238.2 h12.48" stroke="#000" stroke-width="0.95"/>
<text x="337.72" y="244">1</text>
<text x="426.50" y="244" text-anchor="middle">0</text>
<text x="518.17" y="244" text-anchor="middle">1</text>
<text x="426.50" y="268.6" text-anchor="middle" font-style="italic">s</text>
<text x="327.70" y="20.8">(b) optimal</text>
<g stroke="#222" stroke-width="1" fill="none">
<rect x="567.5" y="1.5" width="220.0" height="220.0"/>
<path d="M585.83,221.5 v-6.3 M585.83,1.5 v6.3"/>
<path d="M677.50,221.5 v-6.3 M677.50,1.5 v6.3"/>
<path d="M769.17,221.5 v-6.3 M769.17,1.5 v6.3"/>
<path d="M567.5,13.30 h6.3 M787.5,13.30 h-6.3"/>
<path d="M567.5,50.62 h6.3 M787.5,50.62 h-6.3"/>
<path d="M567.5,87.94 h6.3 M787.5,87.94 h-6.3"/>
<path d="M567.5,125.26 h6.3 M787.5,125.26 h-6.3"/>
<path d="M567.5,162.58 h6.3 M787.5,162.58 h-6.3"/>
<path d="M567.5,199.90 h6.3 M787.5,199.90 h-6.3"/>
</g>
<path d="M573.74,238.2 h12.48" stroke="#000" stroke-width="0.95"/>
<text x="588.72" y="244">1</text>
<text x="677.50" y="244" text-anchor="middle">0</text>
<text x="769.17" y="244" text-anchor="middle">1</text>
<text x="677.50" y="268.6" text-anchor="middle" font-style="italic">s</text>
<text x="578.00" y="20.8">(c) non-optimal</text>
<text x="55.6" y="18.60" text-anchor="end">2</text>
<text x="55.6" y="55.92" text-anchor="end">2</text>
<path d="M30.42,50.22 h12.48" stroke="#000" stroke-width="0.95"/>
<text x="55.6" y="93.24" text-anchor="end">6</text>
<path d="M30.42,87.54 h12.48" stroke="#000" stroke-width="0.95"/>
<text x="55.6" y="130.56" text-anchor="end">10</text>
<path d="M20.02,124.86 h12.48" stroke="#000" stroke-width="0.95"/>
<text x="55.6" y="167.88" text-anchor="end">14</text>
<path d="M20.02,162.18 h12.48" stroke="#000" stroke-width="0.95"/>
<text x="55.6" y="205.20" text-anchor="end">18</text>
<path d="M20.02,199.50 h12.48" stroke="#000" stroke-width="0.95"/>
<text x="2.5" y="117.0" font-style="italic">E<tspan font-size="14.6" dy="3.1">n</tspan></text>
</svg>
</body></html>
